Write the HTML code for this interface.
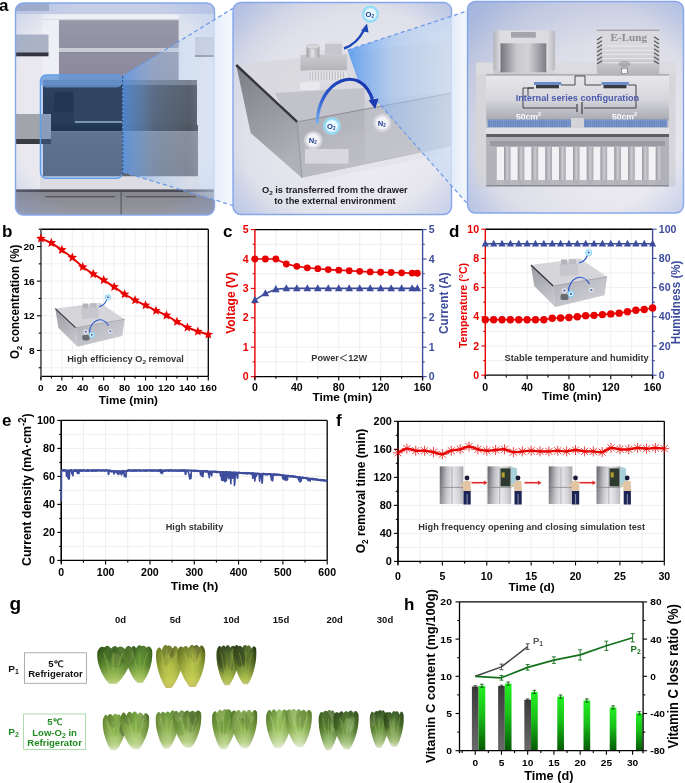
<!DOCTYPE html><html><head><meta charset="utf-8"><style>html,body{margin:0;padding:0;background:#fff;}svg{display:block;will-change:transform} text{font-family:"Liberation Sans",sans-serif;}</style></head><body><svg width="685" height="783" viewBox="0 0 685 783"><rect width="685" height="783" fill="#fff"/><defs>
<clipPath id="c1"><rect x="15.5" y="3" width="199" height="212" rx="8"/></clipPath>
<clipPath id="c2"><rect x="233" y="2.5" width="218.5" height="212" rx="8"/></clipPath>
<clipPath id="c3"><rect x="467.5" y="1.5" width="216" height="211.5" rx="8"/></clipPath>
<linearGradient id="wall" x1="0" y1="0" x2="0" y2="1"><stop offset="0" stop-color="#9898aa"/><stop offset="1" stop-color="#8a889a"/></linearGradient>
<linearGradient id="drw1" x1="0" y1="0" x2="0" y2="1"><stop offset="0" stop-color="#2a2e36"/><stop offset="1" stop-color="#1e2228"/></linearGradient>
<linearGradient id="drw2" x1="0" y1="0" x2="0" y2="1"><stop offset="0" stop-color="#6c6e76"/><stop offset="1" stop-color="#62646c"/></linearGradient>
<linearGradient id="frz" x1="0" y1="0" x2="0" y2="1"><stop offset="0" stop-color="#84848c"/><stop offset="1" stop-color="#9898a2"/></linearGradient>
<linearGradient id="proj1" x1="0" y1="0" x2="1" y2="0"><stop offset="0" stop-color="#5c9cf2" stop-opacity="0.78"/><stop offset="0.3" stop-color="#a0c4f2" stop-opacity="0.42"/><stop offset="0.6" stop-color="#c8dcf6" stop-opacity="0.3"/><stop offset="0.825" stop-color="#d8e6f8" stop-opacity="0.45"/><stop offset="0.835" stop-color="#e6eefa" stop-opacity="1"/><stop offset="1" stop-color="#f6f9fe" stop-opacity="1"/></linearGradient>
<linearGradient id="proj2" x1="0" y1="0" x2="1" y2="0"><stop offset="0" stop-color="#4f94f0" stop-opacity="0.85"/><stop offset="0.4" stop-color="#9cc2f2" stop-opacity="0.55"/><stop offset="0.86" stop-color="#d0e0f6" stop-opacity="0.6"/><stop offset="0.872" stop-color="#e2ecfa" stop-opacity="1"/><stop offset="1" stop-color="#f4f8fd" stop-opacity="1"/></linearGradient>
<radialGradient id="bg2" cx="0.62" cy="0.62" r="0.95"><stop offset="0" stop-color="#f2f0f4"/><stop offset="0.6" stop-color="#dfe0ea"/><stop offset="1" stop-color="#b6c0dc"/></radialGradient>
<radialGradient id="bg3" cx="0.7" cy="0.75" r="0.95"><stop offset="0" stop-color="#f0eef2"/><stop offset="0.6" stop-color="#dcdde8"/><stop offset="1" stop-color="#b0bcdc"/></radialGradient>
<radialGradient id="vig1" cx="0.5" cy="0.5" r="0.72"><stop offset="0.72" stop-color="#86a6e6" stop-opacity="0"/><stop offset="1" stop-color="#86a6e6" stop-opacity="0.33"/></radialGradient>
<linearGradient id="dl" x1="0" y1="0" x2="0.4" y2="1"><stop offset="0" stop-color="#7c7c84"/><stop offset="1" stop-color="#b0b0b8"/></linearGradient>
<linearGradient id="df" x1="0" y1="0" x2="1" y2="1"><stop offset="0" stop-color="#a8a8b0"/><stop offset="1" stop-color="#c4c4cc"/></linearGradient>
<linearGradient id="arr" x1="0" y1="1" x2="0.6" y2="0"><stop offset="0" stop-color="#7ab0f0"/><stop offset="0.5" stop-color="#2a58d0"/><stop offset="1" stop-color="#1a38b0"/></linearGradient>
<radialGradient id="o2g"><stop offset="0.55" stop-color="#e8f8ff"/><stop offset="0.8" stop-color="#7fd6f4"/><stop offset="1" stop-color="#bfeafa" stop-opacity="0.3"/></radialGradient>
<radialGradient id="n2g"><stop offset="0.6" stop-color="#f4f4f8"/><stop offset="0.85" stop-color="#d0d0d8"/><stop offset="1" stop-color="#e8e8ee" stop-opacity="0.4"/></radialGradient>
<linearGradient id="body3" x1="0" y1="0" x2="1" y2="0"><stop offset="0" stop-color="#c4c4ca"/><stop offset="0.5" stop-color="#dcdce0"/><stop offset="1" stop-color="#c8c8ce"/></linearGradient>
<linearGradient id="slot" x1="0" y1="0" x2="1" y2="0"><stop offset="0" stop-color="#96969e"/><stop offset="0.5" stop-color="#cacad0"/><stop offset="1" stop-color="#a6a6ac"/></linearGradient>
</defs>
<g clip-path="url(#c1)">
<rect x="15" y="3" width="200" height="212" fill="#e4e6ee"/>
<rect x="15" y="3" width="200" height="11" fill="#c6cee6"/>
<rect x="58.8" y="18" width="120" height="62" fill="url(#wall)"/>
<rect x="15" y="3" width="34" height="8" fill="#a4acc4"/>
<rect x="42" y="14.5" width="157" height="5.3" fill="#eef0f5"/><rect x="42" y="19.8" width="157" height="1.2" fill="#a4a6b4"/>
<rect x="42" y="48" width="158" height="4" fill="#cacbd4"/><rect x="42" y="52" width="158" height="1.2" fill="#8a8a98"/>
<rect x="15" y="14" width="27" height="201" fill="#e8e8ee"/><rect x="42" y="20" width="16.8" height="58" fill="#eeeff4"/>
<rect x="178.8" y="14" width="36" height="201" fill="#dde3ee"/>
<rect x="15" y="34.5" width="33.5" height="19" fill="#aab2c4"/><rect x="15" y="52.5" width="33.5" height="3.8" fill="#34343e"/>
<rect x="195" y="37" width="20" height="18" fill="#c2c6d4"/><rect x="195" y="55" width="20" height="2" fill="#7c808c"/>
<rect x="43" y="80" width="154" height="46" fill="url(#drw1)"/>
<rect x="43" y="80" width="154" height="5" fill="#5a5e68"/>
<rect x="74" y="89" width="49" height="33" fill="#2c3038"/><rect x="75" y="121" width="48" height="2" fill="#9098a4"/>
<rect x="54" y="92" width="19" height="21" rx="2" fill="#1a1e26"/><rect x="48" y="112" width="26" height="11" fill="#22262e"/>
<rect x="43" y="125" width="155" height="6.5" fill="#1a1c22"/>
<rect x="43" y="131.5" width="155" height="45" fill="url(#drw2)"/>
<rect x="40" y="176.5" width="160" height="13" fill="#dcdce2"/>
<rect x="15" y="189.5" width="200" height="26" fill="url(#frz)"/>
<rect x="15" y="189.5" width="200" height="2.5" fill="#4c4c56"/><rect x="120.5" y="191" width="1.2" height="25" fill="#5a5a62"/>
<rect x="45" y="196" width="70" height="1.3" fill="#555"/><rect x="126" y="196" width="70" height="1.3" fill="#555"/>
<rect x="15" y="114" width="36" height="26" fill="#a2a4ac"/><rect x="15" y="139" width="36" height="5" fill="#3a3c44"/>
<rect x="40.4" y="75" width="82.3" height="103.3" rx="6" fill="#3a88e8" fill-opacity="0.24" stroke="#5e9cf0" stroke-width="1.3"/>
<rect x="41" y="75.5" width="81" height="12" rx="5" fill="#6a9ada" fill-opacity="0.75"/>
<rect x="15" y="3" width="200" height="212" fill="url(#vig1)"/>
</g>
<rect x="15.5" y="3" width="199" height="212" rx="8" fill="none" stroke="#86a6ec" stroke-width="1.4"/>
<polygon points="122.7,76 233,8.3 233,205.5 122.7,172" fill="url(#proj1)"/>
<line x1="122.7" y1="76" x2="233" y2="8.3" stroke="#6f9be8" stroke-width="1.3" stroke-dasharray="4 3"/>
<line x1="122.7" y1="172" x2="233" y2="205.5" stroke="#6f9be8" stroke-width="1.3" stroke-dasharray="4 3"/>
<line x1="122.7" y1="76" x2="122.7" y2="176" stroke="#2d3c5c" stroke-width="0.9" stroke-dasharray="2.5 1.5"/>
<g clip-path="url(#c2)">
<rect x="233" y="2.5" width="219" height="212" fill="url(#bg2)"/>
<polygon points="236.2,65 345,52.8 452,40 452,92 297.2,121.9" fill="#d8d8de" fill-opacity="0.9"/>
<polygon points="274.7,93 364.7,88 364.7,130 300,140" fill="#b8b8c0" fill-opacity="0.7"/>
<polygon points="236.2,65 297.2,121.9 302,178 250.7,133" fill="url(#dl)"/>
<polygon points="297.2,121.9 452,92 452,146 422.5,152.4 302,178" fill="url(#df)" fill-opacity="0.92"/>
<polygon points="364.7,100 452,92 452,146 422.5,152.4 364.7,162" fill="#c8c8d0" fill-opacity="0.5"/>
<rect x="305" y="149" width="43.6" height="14.6" fill="#dedee4" fill-opacity="0.8"/>
<line x1="236.2" y1="65" x2="297.2" y2="121.9" stroke="#34343c" stroke-width="2.4"/>
<line x1="297.2" y1="121.9" x2="452" y2="93" stroke="#8a8a92" stroke-width="0.9"/>
<line x1="297.2" y1="121.9" x2="302" y2="178" stroke="#8c8c94" stroke-width="0.8"/>
<polygon points="302,178 422.5,152.4 452,147 452,152 306,183" fill="#e4e4ea"/>
<defs><linearGradient id="cyl" x1="0" y1="0" x2="1" y2="0"><stop offset="0" stop-color="#9c9ca2"/><stop offset="0.45" stop-color="#e4e4e8"/><stop offset="1" stop-color="#a4a4aa"/></linearGradient><linearGradient id="mbx" x1="0" y1="0" x2="0" y2="1"><stop offset="0" stop-color="#d0d0d4"/><stop offset="1" stop-color="#b4b4ba"/></linearGradient></defs>
<polygon points="300.4,55 304,51 344,50 347,54 347,70.5 300.4,70.5" fill="url(#mbx)"/>
<polygon points="300.4,55 304,51 344,50 347,54" fill="#e0e0e4"/>
<rect x="306.5" y="46.5" width="13" height="11" fill="url(#cyl)"/><ellipse cx="313" cy="46.5" rx="6.5" ry="2.4" fill="#d6d6da" stroke="#b0b0b6" stroke-width="0.4"/>
<rect x="325" y="43.5" width="17" height="11" fill="#c6c6cc"/><polygon points="325,43.5 327,41.5 343,41.5 342,43.5" fill="#dedee2"/>
<rect x="308.5" y="70.5" width="38.5" height="11.2" fill="#e4e4e8"/>
<line x1="310.0" y1="71.5" x2="310.0" y2="80.5" stroke="#a8a8b2" stroke-width="0.7"/>
<line x1="312.8" y1="71.5" x2="312.8" y2="80.5" stroke="#a8a8b2" stroke-width="0.7"/>
<line x1="315.6" y1="71.5" x2="315.6" y2="80.5" stroke="#a8a8b2" stroke-width="0.7"/>
<line x1="318.4" y1="71.5" x2="318.4" y2="80.5" stroke="#a8a8b2" stroke-width="0.7"/>
<line x1="321.2" y1="71.5" x2="321.2" y2="80.5" stroke="#a8a8b2" stroke-width="0.7"/>
<line x1="324.0" y1="71.5" x2="324.0" y2="80.5" stroke="#a8a8b2" stroke-width="0.7"/>
<line x1="326.8" y1="71.5" x2="326.8" y2="80.5" stroke="#a8a8b2" stroke-width="0.7"/>
<line x1="329.6" y1="71.5" x2="329.6" y2="80.5" stroke="#a8a8b2" stroke-width="0.7"/>
<line x1="332.4" y1="71.5" x2="332.4" y2="80.5" stroke="#a8a8b2" stroke-width="0.7"/>
<line x1="335.2" y1="71.5" x2="335.2" y2="80.5" stroke="#a8a8b2" stroke-width="0.7"/>
<line x1="338.0" y1="71.5" x2="338.0" y2="80.5" stroke="#a8a8b2" stroke-width="0.7"/>
<line x1="340.8" y1="71.5" x2="340.8" y2="80.5" stroke="#a8a8b2" stroke-width="0.7"/>
<line x1="343.6" y1="71.5" x2="343.6" y2="80.5" stroke="#a8a8b2" stroke-width="0.7"/>
<rect x="300" y="82" width="20" height="8" rx="3" fill="#f0f0f4" fill-opacity="0.7"/>
</g>
<g clip-path="url(#c2)">
<rect x="233" y="2.5" width="219" height="212" fill="url(#vig1)"/>
</g>
<rect x="233" y="2.5" width="218.5" height="212" rx="8" fill="none" stroke="#86a6ec" stroke-width="1.4"/>
<polygon points="347.5,50 467.5,11 467.5,204 357.6,79" fill="url(#proj2)"/>
<line x1="347.5" y1="50" x2="467.5" y2="11" stroke="#6f9be8" stroke-width="1.3" stroke-dasharray="4 3"/>
<line x1="357.6" y1="79" x2="467.5" y2="204" stroke="#6f9be8" stroke-width="1.3" stroke-dasharray="4 3"/>
<path d="M344,48.5 Q357,44 364,30" fill="none" stroke="#1d47b8" stroke-width="2.4"/>
<polygon points="361,31 367,23.5 368.5,32.5" fill="#1d47b8"/>
<path d="M317.1,123.5 C318,78.5 362,62.5 372.8,101" fill="none" stroke="url(#arr)" stroke-width="3.2"/>
<polygon points="368.6,100.2 375.2,109 378.4,98.4" fill="#1a38b0"/>
<circle cx="370.4" cy="14.1" r="9.3" fill="url(#o2g)"/>
<text x="369.79999999999995" y="16.9" font-size="7.6" font-weight="bold" text-anchor="middle" fill="#1f3c8c">O<tspan font-size="4.5" dy="1">2</tspan></text>
<circle cx="331.9" cy="126" r="9.3" fill="url(#o2g)"/>
<text x="331.29999999999995" y="128.8" font-size="7.6" font-weight="bold" text-anchor="middle" fill="#1f3c8c">O<tspan font-size="4.5" dy="1">2</tspan></text>
<circle cx="313.3" cy="140.2" r="9.3" fill="url(#n2g)"/>
<text x="312.7" y="143.0" font-size="7.6" font-weight="bold" text-anchor="middle" fill="#1f3c8c">N<tspan font-size="4.5" dy="1">2</tspan></text>
<circle cx="382.3" cy="122.9" r="9.3" fill="url(#n2g)"/>
<text x="381.7" y="125.7" font-size="7.6" font-weight="bold" text-anchor="middle" fill="#1f3c8c">N<tspan font-size="4.5" dy="1">2</tspan></text>
<text transform="translate(334.80,193.00) scale(1.06,1)" font-size="8.8" text-anchor="middle" fill="#1c1c22" font-weight="bold" >O<tspan font-size="6" dy="2">2</tspan><tspan dy="-2"> is transferred from the drawer</tspan></text>
<text transform="translate(335.00,203.80) scale(1.06,1)" font-size="8.75" text-anchor="middle" fill="#1c1c22" font-weight="bold" >to the external environment</text>
<g clip-path="url(#c3)">
<rect x="467" y="1.5" width="217" height="212" fill="url(#bg3)"/>
<rect x="476.2" y="62.6" width="199" height="123.7" fill="url(#body3)"/>
<defs><linearGradient id="hs1" x1="0" y1="0" x2="1" y2="0"><stop offset="0" stop-color="#b4b4ba"/><stop offset="0.12" stop-color="#dedee2"/><stop offset="0.88" stop-color="#dcdce0"/><stop offset="1" stop-color="#b8b8be"/></linearGradient><linearGradient id="hs2" x1="0" y1="0" x2="1" y2="0"><stop offset="0" stop-color="#74747c"/><stop offset="0.35" stop-color="#c8c8cc"/><stop offset="0.6" stop-color="#d4d4d8"/><stop offset="1" stop-color="#7c7c84"/></linearGradient></defs>
<rect x="493.3" y="30.4" width="61.8" height="40" rx="2" fill="url(#hs1)"/>
<rect x="500.5" y="43.3" width="45.8" height="29" fill="url(#hs2)"/>
<rect x="511" y="32" width="24.8" height="5.7" fill="#a4a4ac"/>
<defs><linearGradient id="elb" x1="0" y1="0" x2="0" y2="1"><stop offset="0" stop-color="#e2e2e6"/><stop offset="0.6" stop-color="#d2d2d6"/><stop offset="1" stop-color="#b4b4ba"/></linearGradient></defs>
<rect x="596.7" y="29.5" width="62.8" height="44.5" fill="url(#elb)"/>
<rect x="596.7" y="29.5" width="62.8" height="1.8" fill="#a8a8b0"/>
<rect x="596.7" y="31.3" width="62.8" height="11.5" fill="#dadade"/>
<line x1="597" y1="40.0" x2="602" y2="36.8" stroke="#55555c" stroke-width="1.3"/>
<line x1="654" y1="36.8" x2="659" y2="40.0" stroke="#55555c" stroke-width="1.3"/>
<line x1="597" y1="44.0" x2="602" y2="40.8" stroke="#55555c" stroke-width="1.3"/>
<line x1="654" y1="40.8" x2="659" y2="44.0" stroke="#55555c" stroke-width="1.3"/>
<line x1="597" y1="48.0" x2="602" y2="44.8" stroke="#55555c" stroke-width="1.3"/>
<line x1="654" y1="44.8" x2="659" y2="48.0" stroke="#55555c" stroke-width="1.3"/>
<line x1="597" y1="52.0" x2="602" y2="48.8" stroke="#55555c" stroke-width="1.3"/>
<line x1="654" y1="48.8" x2="659" y2="52.0" stroke="#55555c" stroke-width="1.3"/>
<line x1="597" y1="56.0" x2="602" y2="52.8" stroke="#55555c" stroke-width="1.3"/>
<line x1="654" y1="52.8" x2="659" y2="56.0" stroke="#55555c" stroke-width="1.3"/>
<line x1="597" y1="60.0" x2="602" y2="56.8" stroke="#55555c" stroke-width="1.3"/>
<line x1="654" y1="56.8" x2="659" y2="60.0" stroke="#55555c" stroke-width="1.3"/>
<line x1="597" y1="64.0" x2="602" y2="60.8" stroke="#55555c" stroke-width="1.3"/>
<line x1="654" y1="60.8" x2="659" y2="64.0" stroke="#55555c" stroke-width="1.3"/>
<line x1="603" y1="46.0" x2="653" y2="46.0" stroke="#eeeef0" stroke-width="0.9"/>
<line x1="603" y1="50.2" x2="653" y2="50.2" stroke="#eeeef0" stroke-width="0.9"/>
<line x1="603" y1="54.4" x2="653" y2="54.4" stroke="#eeeef0" stroke-width="0.9"/>
<line x1="603" y1="58.6" x2="653" y2="58.6" stroke="#eeeef0" stroke-width="0.9"/>
<line x1="603" y1="62.8" x2="653" y2="62.8" stroke="#eeeef0" stroke-width="0.9"/>
<ellipse cx="624.5" cy="64" rx="6" ry="3" fill="#8a8a92" opacity="0.5"/>
<text x="628.75" y="41.2" style="font-family:Liberation Serif,serif" font-size="11.1" font-weight="bold" fill="#8c8c92" text-anchor="middle">E-Lung</text>
<rect x="621.5" y="68.2" width="5.8" height="5.5" fill="#f4f4f6" stroke="#666" stroke-width="0.6"/>
<defs><linearGradient id="cav" x1="0" y1="0" x2="0" y2="1"><stop offset="0" stop-color="#e8e8ec"/><stop offset="0.55" stop-color="#d6d6dc"/><stop offset="1" stop-color="#a8a8b2"/></linearGradient></defs>
<rect x="479" y="73.9" width="190" height="46.5" fill="url(#cav)"/>
<rect x="485.9" y="73.9" width="183" height="2" fill="#b8b8be"/>
<path d="M528,88 L528,96 M528,88 L534,88 M561,85 L575,85 L575,76 L585,76 L585,85 L601,85 M628,85 L636,85 L636,108 L584,108 M576,108 L523,108 L523,88 L534,88" fill="none" stroke="#222" stroke-width="0.8"/>
<line x1="577" y1="104" x2="577" y2="112" stroke="#222" stroke-width="1"/><line x1="582" y1="102" x2="582" y2="114" stroke="#222" stroke-width="1"/>
<rect x="534" y="82" width="27.3" height="3" fill="#6a8cc8"/><rect x="536" y="85" width="23" height="3.3" fill="#3a3a40"/>
<rect x="601.5" y="82" width="27.3" height="3" fill="#6a8cc8"/><rect x="603.5" y="85" width="23" height="3.3" fill="#3a3a40"/>
<text x="577.4" y="101.3" font-size="9.2" font-weight="bold" text-anchor="middle" fill="#4b5aac">Internal series configuration</text>
<text x="528.5" y="119.6" font-size="8.6" font-weight="bold" text-anchor="middle" fill="#fbfbfd">50cm<tspan font-size="5.5" dy="-3.5">2</tspan></text>
<text x="624.5" y="119.6" font-size="8.6" font-weight="bold" text-anchor="middle" fill="#fbfbfd">50cm<tspan font-size="5.5" dy="-3.5">2</tspan></text>
<defs><pattern id="mesh" width="2.2" height="2.2" patternUnits="userSpaceOnUse"><rect width="2.2" height="2.2" fill="#7a9ad0"/><rect width="1.2" height="1.2" fill="#5a78b0"/></pattern></defs>
<rect x="487.5" y="119.5" width="83.5" height="8" fill="url(#mesh)"/>
<rect x="583.8" y="119.5" width="83.5" height="8" fill="url(#mesh)"/>
<rect x="571" y="118" width="12.8" height="20" fill="#d4d4d8"/>
<rect x="486" y="127.5" width="85" height="7.5" fill="#c8c8ce"/><rect x="583.8" y="127.5" width="85" height="7.5" fill="#c8c8ce"/>
<rect x="486" y="135" width="85" height="5.5" fill="#5a5a62"/><rect x="583.8" y="135" width="85" height="5.5" fill="#5a5a62"/>
<rect x="486" y="128" width="183" height="6" fill="#e2e2e6"/>
<rect x="486" y="134" width="183" height="3" fill="#5e5e66"/>
<rect x="486" y="137" width="183" height="49" fill="#b2b2b8"/>
<rect x="490" y="141" width="175" height="5" fill="#9a9aa2"/>
<rect x="496.8" y="147" width="7.2" height="33" fill="#f2f2f4"/>
<rect x="504.0" y="147" width="6.6" height="33" fill="url(#slot)"/>
<rect x="495.9" y="180" width="8" height="5" fill="#b8b8be"/>
<rect x="510.6" y="147" width="7.2" height="33" fill="#f2f2f4"/>
<rect x="517.8" y="147" width="6.6" height="33" fill="url(#slot)"/>
<rect x="509.7" y="180" width="8" height="5" fill="#b8b8be"/>
<rect x="524.4" y="147" width="7.2" height="33" fill="#f2f2f4"/>
<rect x="531.6" y="147" width="6.6" height="33" fill="url(#slot)"/>
<rect x="523.5" y="180" width="8" height="5" fill="#b8b8be"/>
<rect x="538.2" y="147" width="7.2" height="33" fill="#f2f2f4"/>
<rect x="545.4" y="147" width="6.6" height="33" fill="url(#slot)"/>
<rect x="537.3" y="180" width="8" height="5" fill="#b8b8be"/>
<rect x="552.0" y="147" width="7.2" height="33" fill="#f2f2f4"/>
<rect x="559.2" y="147" width="6.6" height="33" fill="url(#slot)"/>
<rect x="551.1" y="180" width="8" height="5" fill="#b8b8be"/>
<rect x="565.8" y="147" width="7.2" height="33" fill="#f2f2f4"/>
<rect x="573.0" y="147" width="6.6" height="33" fill="url(#slot)"/>
<rect x="564.9" y="180" width="8" height="5" fill="#b8b8be"/>
<rect x="579.6" y="147" width="7.2" height="33" fill="#f2f2f4"/>
<rect x="586.8" y="147" width="6.6" height="33" fill="url(#slot)"/>
<rect x="578.7" y="180" width="8" height="5" fill="#b8b8be"/>
<rect x="593.4" y="147" width="7.2" height="33" fill="#f2f2f4"/>
<rect x="600.6" y="147" width="6.6" height="33" fill="url(#slot)"/>
<rect x="592.5" y="180" width="8" height="5" fill="#b8b8be"/>
<rect x="607.2" y="147" width="7.2" height="33" fill="#f2f2f4"/>
<rect x="614.4" y="147" width="6.6" height="33" fill="url(#slot)"/>
<rect x="606.3" y="180" width="8" height="5" fill="#b8b8be"/>
<rect x="621.0" y="147" width="7.2" height="33" fill="#f2f2f4"/>
<rect x="628.2" y="147" width="6.6" height="33" fill="url(#slot)"/>
<rect x="620.1" y="180" width="8" height="5" fill="#b8b8be"/>
<rect x="634.8" y="147" width="7.2" height="33" fill="#f2f2f4"/>
<rect x="642.0" y="147" width="6.6" height="33" fill="url(#slot)"/>
<rect x="633.9" y="180" width="8" height="5" fill="#b8b8be"/>
<rect x="648.6" y="147" width="7.2" height="33" fill="#f2f2f4"/>
<rect x="655.8" y="147" width="6.6" height="33" fill="url(#slot)"/>
<rect x="647.7" y="180" width="8" height="5" fill="#b8b8be"/>
<rect x="486" y="185" width="183" height="1.5" fill="#8a8a92"/>
<rect x="476.2" y="62.6" width="10" height="124" fill="#d6d6da"/><rect x="669" y="62.6" width="6.3" height="124" fill="#d6d6da"/>
<rect x="476.2" y="62.6" width="17" height="11.3" fill="#dcdce0"/><rect x="555.1" y="62.6" width="41.6" height="11.3" fill="#dcdce0"/><rect x="659.5" y="62.6" width="16" height="11.3" fill="#dcdce0"/>
<rect x="486" y="73.9" width="183" height="1" fill="#b0b0b6"/>
<rect x="467" y="1.5" width="217" height="212" fill="url(#vig1)"/>
</g>
<rect x="467.5" y="1.5" width="216" height="211.5" rx="8" fill="none" stroke="#86a6ec" stroke-width="1.4"/>
<text transform="translate(-1.00,10.80) scale(1.0,1)" font-size="17" text-anchor="start" fill="#000" font-weight="bold" >a</text>
<line x1="51.36" y1="229.20" x2="51.36" y2="376.40" stroke="#ebebeb" stroke-width="0.8" />
<line x1="61.83" y1="229.20" x2="61.83" y2="376.40" stroke="#ebebeb" stroke-width="0.8" />
<line x1="72.29" y1="229.20" x2="72.29" y2="376.40" stroke="#ebebeb" stroke-width="0.8" />
<line x1="82.75" y1="229.20" x2="82.75" y2="376.40" stroke="#ebebeb" stroke-width="0.8" />
<line x1="93.21" y1="229.20" x2="93.21" y2="376.40" stroke="#ebebeb" stroke-width="0.8" />
<line x1="103.68" y1="229.20" x2="103.68" y2="376.40" stroke="#ebebeb" stroke-width="0.8" />
<line x1="114.14" y1="229.20" x2="114.14" y2="376.40" stroke="#ebebeb" stroke-width="0.8" />
<line x1="124.60" y1="229.20" x2="124.60" y2="376.40" stroke="#ebebeb" stroke-width="0.8" />
<line x1="135.06" y1="229.20" x2="135.06" y2="376.40" stroke="#ebebeb" stroke-width="0.8" />
<line x1="145.53" y1="229.20" x2="145.53" y2="376.40" stroke="#ebebeb" stroke-width="0.8" />
<line x1="155.99" y1="229.20" x2="155.99" y2="376.40" stroke="#ebebeb" stroke-width="0.8" />
<line x1="166.45" y1="229.20" x2="166.45" y2="376.40" stroke="#ebebeb" stroke-width="0.8" />
<line x1="176.91" y1="229.20" x2="176.91" y2="376.40" stroke="#ebebeb" stroke-width="0.8" />
<line x1="187.38" y1="229.20" x2="187.38" y2="376.40" stroke="#ebebeb" stroke-width="0.8" />
<line x1="197.84" y1="229.20" x2="197.84" y2="376.40" stroke="#ebebeb" stroke-width="0.8" />
<line x1="40.90" y1="367.74" x2="208.30" y2="367.74" stroke="#ebebeb" stroke-width="0.8" />
<line x1="40.90" y1="350.42" x2="208.30" y2="350.42" stroke="#ebebeb" stroke-width="0.8" />
<line x1="40.90" y1="333.11" x2="208.30" y2="333.11" stroke="#ebebeb" stroke-width="0.8" />
<line x1="40.90" y1="315.79" x2="208.30" y2="315.79" stroke="#ebebeb" stroke-width="0.8" />
<line x1="40.90" y1="298.47" x2="208.30" y2="298.47" stroke="#ebebeb" stroke-width="0.8" />
<line x1="40.90" y1="281.15" x2="208.30" y2="281.15" stroke="#ebebeb" stroke-width="0.8" />
<line x1="40.90" y1="263.84" x2="208.30" y2="263.84" stroke="#ebebeb" stroke-width="0.8" />
<line x1="40.90" y1="246.52" x2="208.30" y2="246.52" stroke="#ebebeb" stroke-width="0.8" />
<line x1="40.90" y1="229.20" x2="208.30" y2="229.20" stroke="#000" stroke-width="1.35" />
<line x1="40.90" y1="376.40" x2="208.30" y2="376.40" stroke="#000" stroke-width="1.3" />
<line x1="40.90" y1="229.20" x2="40.90" y2="376.40" stroke="#666" stroke-width="1.3" />
<line x1="208.30" y1="229.20" x2="208.30" y2="376.40" stroke="#000" stroke-width="1.3" />
<line x1="40.90" y1="229.20" x2="40.90" y2="379.40" stroke="#6a6a6a" stroke-width="1.8" />
<line x1="40.90" y1="367.74" x2="38.70" y2="367.74" stroke="#000" stroke-width="1.1" />
<line x1="40.90" y1="333.11" x2="38.70" y2="333.11" stroke="#000" stroke-width="1.1" />
<line x1="40.90" y1="298.47" x2="38.70" y2="298.47" stroke="#000" stroke-width="1.1" />
<line x1="40.90" y1="263.84" x2="38.70" y2="263.84" stroke="#000" stroke-width="1.1" />
<line x1="40.90" y1="229.20" x2="38.70" y2="229.20" stroke="#000" stroke-width="1.1" />
<line x1="40.90" y1="350.42" x2="36.90" y2="350.42" stroke="#000" stroke-width="1.1" />
<text transform="translate(34.70,353.92) scale(1.06,1)" font-size="9.6" text-anchor="end" fill="#000" font-weight="bold" >8</text>
<line x1="40.90" y1="315.79" x2="36.90" y2="315.79" stroke="#000" stroke-width="1.1" />
<text transform="translate(34.70,319.29) scale(1.06,1)" font-size="9.6" text-anchor="end" fill="#000" font-weight="bold" >12</text>
<line x1="40.90" y1="281.15" x2="36.90" y2="281.15" stroke="#000" stroke-width="1.1" />
<text transform="translate(34.70,284.65) scale(1.06,1)" font-size="9.6" text-anchor="end" fill="#000" font-weight="bold" >16</text>
<line x1="40.90" y1="246.52" x2="36.90" y2="246.52" stroke="#000" stroke-width="1.1" />
<text transform="translate(34.70,250.02) scale(1.06,1)" font-size="9.6" text-anchor="end" fill="#000" font-weight="bold" >20</text>
<line x1="51.36" y1="376.40" x2="51.36" y2="378.60" stroke="#000" stroke-width="1.1" />
<line x1="72.29" y1="376.40" x2="72.29" y2="378.60" stroke="#000" stroke-width="1.1" />
<line x1="93.21" y1="376.40" x2="93.21" y2="378.60" stroke="#000" stroke-width="1.1" />
<line x1="114.14" y1="376.40" x2="114.14" y2="378.60" stroke="#000" stroke-width="1.1" />
<line x1="135.06" y1="376.40" x2="135.06" y2="378.60" stroke="#000" stroke-width="1.1" />
<line x1="155.99" y1="376.40" x2="155.99" y2="378.60" stroke="#000" stroke-width="1.1" />
<line x1="176.91" y1="376.40" x2="176.91" y2="378.60" stroke="#000" stroke-width="1.1" />
<line x1="197.84" y1="376.40" x2="197.84" y2="378.60" stroke="#000" stroke-width="1.1" />
<line x1="40.90" y1="376.40" x2="40.90" y2="380.40" stroke="#000" stroke-width="1.1" />
<text transform="translate(40.90,390.70) scale(1.06,1)" font-size="9.6" text-anchor="middle" fill="#000" font-weight="bold" >0</text>
<line x1="61.83" y1="376.40" x2="61.83" y2="380.40" stroke="#000" stroke-width="1.1" />
<text transform="translate(61.83,390.70) scale(1.06,1)" font-size="9.6" text-anchor="middle" fill="#000" font-weight="bold" >20</text>
<line x1="82.75" y1="376.40" x2="82.75" y2="380.40" stroke="#000" stroke-width="1.1" />
<text transform="translate(82.75,390.70) scale(1.06,1)" font-size="9.6" text-anchor="middle" fill="#000" font-weight="bold" >40</text>
<line x1="103.68" y1="376.40" x2="103.68" y2="380.40" stroke="#000" stroke-width="1.1" />
<text transform="translate(103.68,390.70) scale(1.06,1)" font-size="9.6" text-anchor="middle" fill="#000" font-weight="bold" >60</text>
<line x1="124.60" y1="376.40" x2="124.60" y2="380.40" stroke="#000" stroke-width="1.1" />
<text transform="translate(124.60,390.70) scale(1.06,1)" font-size="9.6" text-anchor="middle" fill="#000" font-weight="bold" >80</text>
<line x1="145.53" y1="376.40" x2="145.53" y2="380.40" stroke="#000" stroke-width="1.1" />
<text transform="translate(145.53,390.70) scale(1.06,1)" font-size="9.6" text-anchor="middle" fill="#000" font-weight="bold" >100</text>
<line x1="166.45" y1="376.40" x2="166.45" y2="380.40" stroke="#000" stroke-width="1.1" />
<text transform="translate(166.45,390.70) scale(1.06,1)" font-size="9.6" text-anchor="middle" fill="#000" font-weight="bold" >120</text>
<line x1="187.38" y1="376.40" x2="187.38" y2="380.40" stroke="#000" stroke-width="1.1" />
<text transform="translate(187.38,390.70) scale(1.06,1)" font-size="9.6" text-anchor="middle" fill="#000" font-weight="bold" >140</text>
<line x1="208.30" y1="376.40" x2="208.30" y2="380.40" stroke="#000" stroke-width="1.1" />
<text transform="translate(208.30,390.70) scale(1.06,1)" font-size="9.6" text-anchor="middle" fill="#000" font-weight="bold" >160</text>
<text transform="translate(128.40,403.90) scale(1.06,1)" font-size="11.1" text-anchor="middle" fill="#000" font-weight="bold" >Time (min)</text>
<text transform="translate(18.80,301.80) scale(1.06,1) rotate(-90)" font-size="11.6" text-anchor="middle" fill="#000" font-weight="bold">O<tspan font-size="7.5" dy="3">2</tspan><tspan dy="-3"> concentration (%)</tspan></text>
<g transform="translate(54.5,294) scale(0.91)"><defs><linearGradient id="ibl1" x1="0" y1="0" x2="0.3" y2="1"><stop offset="0" stop-color="#9a9aa2"/><stop offset="1" stop-color="#c4c4ca"/></linearGradient><linearGradient id="ibf1" x1="0" y1="0" x2="1" y2="1"><stop offset="0" stop-color="#b0b0b8"/><stop offset="1" stop-color="#d2d2d8"/></linearGradient></defs><polygon points="0.9,16 50,9.5 77.1,27.8 23.2,37" fill="#d6d6da"/><polygon points="0.9,16 23.2,37 25.2,58 4.2,37" fill="url(#ibl1)"/><polygon points="23.2,37 77.1,27.8 74.5,46.2 25.2,58" fill="url(#ibf1)"/><line x1="0.9" y1="16" x2="23.2" y2="37" stroke="#2a2a30" stroke-width="1.1"/><line x1="23.2" y1="37" x2="77.1" y2="27.8" stroke="#8a8a92" stroke-width="0.6"/><polygon points="29.8,15 46,13 48.2,16 48.2,26 31,27.5 29.8,24" fill="#c6c6cc"/><rect x="31" y="10.5" width="6" height="5" fill="#b4b4ba"/><rect x="39" y="10" width="7" height="5" fill="#bcbcc2"/><path d="M48.9,14 Q55,12.5 57.4,6.5" fill="none" stroke="#2a58d0" stroke-width="1.2"/><circle cx="58.7" cy="3.5" r="2.8" fill="#e6f7ff" stroke="#86d6f4" stroke-width="1.1"/><circle cx="58.7" cy="3.5" r="1.1" fill="#3a5bb0"/><path d="M38.4,43.6 C38,30 52,22 59.4,35" fill="none" stroke="#2a58d0" stroke-width="1.2"/><rect x="30.5" y="45" width="8" height="6" rx="2" fill="#6a6a72"/><circle cx="34.4" cy="41.6" r="2.8" fill="#ececf0" stroke="#c4c4cc" stroke-width="0.9"/><circle cx="34.4" cy="41.6" r="1.1" fill="#3a5bb0"/><circle cx="61.4" cy="41" r="2.8" fill="#ececf0" stroke="#c4c4cc" stroke-width="0.9"/><circle cx="61.4" cy="41" r="1.1" fill="#3a5bb0"/><circle cx="41" cy="44.9" r="2.8" fill="#e6f7ff" stroke="#86d6f4" stroke-width="1.1"/><circle cx="41" cy="44.9" r="1.1" fill="#3a5bb0"/></g>
<polyline points="40.90,238.50 51.36,242.90 61.83,249.90 72.29,257.60 82.75,267.00 93.21,274.10 103.68,280.10 114.14,286.90 124.60,294.20 135.06,300.30 145.53,305.30 155.99,310.70 166.45,315.40 176.91,321.80 187.38,327.50 197.84,331.50 208.30,334.50" fill="none" stroke="#e80000" stroke-width="1.9" stroke-linejoin="round" />
<polygon points="40.90,233.50 42.22,236.68 45.66,236.95 43.04,239.20 43.84,242.55 40.90,240.75 37.96,242.55 38.76,239.20 36.14,236.95 39.58,236.68" fill="#e80000"/>
<polygon points="51.36,237.90 52.69,241.08 56.12,241.35 53.50,243.60 54.30,246.95 51.36,245.15 48.42,246.95 49.22,243.60 46.61,241.35 50.04,241.08" fill="#e80000"/>
<polygon points="61.83,244.90 63.15,248.08 66.58,248.35 63.96,250.60 64.76,253.95 61.83,252.15 58.89,253.95 59.69,250.60 57.07,248.35 60.50,248.08" fill="#e80000"/>
<polygon points="72.29,252.60 73.61,255.78 77.04,256.05 74.43,258.30 75.23,261.65 72.29,259.85 69.35,261.65 70.15,258.30 67.53,256.05 70.96,255.78" fill="#e80000"/>
<polygon points="82.75,262.00 84.07,265.18 87.51,265.45 84.89,267.70 85.69,271.05 82.75,269.25 79.81,271.05 80.61,267.70 77.99,265.45 81.43,265.18" fill="#e80000"/>
<polygon points="93.21,269.10 94.54,272.28 97.97,272.55 95.35,274.80 96.15,278.15 93.21,276.35 90.27,278.15 91.07,274.80 88.46,272.55 91.89,272.28" fill="#e80000"/>
<polygon points="103.68,275.10 105.00,278.28 108.43,278.55 105.81,280.80 106.61,284.15 103.68,282.35 100.74,284.15 101.54,280.80 98.92,278.55 102.35,278.28" fill="#e80000"/>
<polygon points="114.14,281.90 115.46,285.08 118.89,285.35 116.28,287.60 117.08,290.95 114.14,289.15 111.20,290.95 112.00,287.60 109.38,285.35 112.81,285.08" fill="#e80000"/>
<polygon points="124.60,289.20 125.92,292.38 129.36,292.65 126.74,294.90 127.54,298.25 124.60,296.45 121.66,298.25 122.46,294.90 119.84,292.65 123.28,292.38" fill="#e80000"/>
<polygon points="135.06,295.30 136.39,298.48 139.82,298.75 137.20,301.00 138.00,304.35 135.06,302.55 132.12,304.35 132.92,301.00 130.31,298.75 133.74,298.48" fill="#e80000"/>
<polygon points="145.53,300.30 146.85,303.48 150.28,303.75 147.66,306.00 148.46,309.35 145.53,307.55 142.59,309.35 143.39,306.00 140.77,303.75 144.20,303.48" fill="#e80000"/>
<polygon points="155.99,305.70 157.31,308.88 160.74,309.15 158.13,311.40 158.93,314.75 155.99,312.95 153.05,314.75 153.85,311.40 151.23,309.15 154.66,308.88" fill="#e80000"/>
<polygon points="166.45,310.40 167.77,313.58 171.21,313.85 168.59,316.10 169.39,319.45 166.45,317.65 163.51,319.45 164.31,316.10 161.69,313.85 165.13,313.58" fill="#e80000"/>
<polygon points="176.91,316.80 178.24,319.98 181.67,320.25 179.05,322.50 179.85,325.85 176.91,324.05 173.97,325.85 174.77,322.50 172.16,320.25 175.59,319.98" fill="#e80000"/>
<polygon points="187.38,322.50 188.70,325.68 192.13,325.95 189.51,328.20 190.31,331.55 187.38,329.75 184.44,331.55 185.24,328.20 182.62,325.95 186.05,325.68" fill="#e80000"/>
<polygon points="197.84,326.50 199.16,329.68 202.59,329.95 199.98,332.20 200.78,335.55 197.84,333.75 194.90,335.55 195.70,332.20 193.08,329.95 196.51,329.68" fill="#e80000"/>
<polygon points="208.30,329.50 209.62,332.68 213.06,332.95 210.44,335.20 211.24,338.55 208.30,336.75 205.36,338.55 206.16,335.20 203.54,332.95 206.98,332.68" fill="#e80000"/>
<text transform="translate(125.50,361.70) scale(1.06,1)" font-size="8.7" text-anchor="middle" fill="#333" font-weight="bold" >High efficiency O<tspan font-size="6" dy="2">2</tspan><tspan dy="-2"> removal</tspan></text>
<text transform="translate(2.00,236.80) scale(1.0,1)" font-size="17" text-anchor="start" fill="#000" font-weight="bold" >b</text>
<line x1="275.86" y1="229.60" x2="275.86" y2="376.60" stroke="#ebebeb" stroke-width="0.8" />
<line x1="296.82" y1="229.60" x2="296.82" y2="376.60" stroke="#ebebeb" stroke-width="0.8" />
<line x1="317.79" y1="229.60" x2="317.79" y2="376.60" stroke="#ebebeb" stroke-width="0.8" />
<line x1="338.75" y1="229.60" x2="338.75" y2="376.60" stroke="#ebebeb" stroke-width="0.8" />
<line x1="359.71" y1="229.60" x2="359.71" y2="376.60" stroke="#ebebeb" stroke-width="0.8" />
<line x1="380.68" y1="229.60" x2="380.68" y2="376.60" stroke="#ebebeb" stroke-width="0.8" />
<line x1="401.64" y1="229.60" x2="401.64" y2="376.60" stroke="#ebebeb" stroke-width="0.8" />
<line x1="254.90" y1="361.90" x2="422.60" y2="361.90" stroke="#ebebeb" stroke-width="0.8" />
<line x1="254.90" y1="347.20" x2="422.60" y2="347.20" stroke="#ebebeb" stroke-width="0.8" />
<line x1="254.90" y1="332.50" x2="422.60" y2="332.50" stroke="#ebebeb" stroke-width="0.8" />
<line x1="254.90" y1="317.80" x2="422.60" y2="317.80" stroke="#ebebeb" stroke-width="0.8" />
<line x1="254.90" y1="303.10" x2="422.60" y2="303.10" stroke="#ebebeb" stroke-width="0.8" />
<line x1="254.90" y1="288.40" x2="422.60" y2="288.40" stroke="#ebebeb" stroke-width="0.8" />
<line x1="254.90" y1="273.70" x2="422.60" y2="273.70" stroke="#ebebeb" stroke-width="0.8" />
<line x1="254.90" y1="259.00" x2="422.60" y2="259.00" stroke="#ebebeb" stroke-width="0.8" />
<line x1="254.90" y1="244.30" x2="422.60" y2="244.30" stroke="#ebebeb" stroke-width="0.8" />
<line x1="254.90" y1="229.60" x2="422.60" y2="229.60" stroke="#000" stroke-width="1.35" />
<line x1="254.90" y1="376.60" x2="422.60" y2="376.60" stroke="#000" stroke-width="1.3" />
<line x1="254.90" y1="229.60" x2="254.90" y2="379.60" stroke="#e80000" stroke-width="1.4" />
<line x1="422.60" y1="229.60" x2="422.60" y2="379.60" stroke="#3d4c9c" stroke-width="1.4" />
<line x1="254.90" y1="361.90" x2="252.70" y2="361.90" stroke="#e80000" stroke-width="1.1" />
<line x1="254.90" y1="332.50" x2="252.70" y2="332.50" stroke="#e80000" stroke-width="1.1" />
<line x1="254.90" y1="303.10" x2="252.70" y2="303.10" stroke="#e80000" stroke-width="1.1" />
<line x1="254.90" y1="273.70" x2="252.70" y2="273.70" stroke="#e80000" stroke-width="1.1" />
<line x1="254.90" y1="244.30" x2="252.70" y2="244.30" stroke="#e80000" stroke-width="1.1" />
<line x1="254.90" y1="376.60" x2="250.90" y2="376.60" stroke="#e80000" stroke-width="1.1" />
<text transform="translate(248.70,380.10) scale(1.06,1)" font-size="10" text-anchor="end" fill="#e80000" font-weight="bold" >0</text>
<line x1="254.90" y1="347.20" x2="250.90" y2="347.20" stroke="#e80000" stroke-width="1.1" />
<text transform="translate(248.70,350.70) scale(1.06,1)" font-size="10" text-anchor="end" fill="#e80000" font-weight="bold" >1</text>
<line x1="254.90" y1="317.80" x2="250.90" y2="317.80" stroke="#e80000" stroke-width="1.1" />
<text transform="translate(248.70,321.30) scale(1.06,1)" font-size="10" text-anchor="end" fill="#e80000" font-weight="bold" >2</text>
<line x1="254.90" y1="288.40" x2="250.90" y2="288.40" stroke="#e80000" stroke-width="1.1" />
<text transform="translate(248.70,291.90) scale(1.06,1)" font-size="10" text-anchor="end" fill="#e80000" font-weight="bold" >3</text>
<line x1="254.90" y1="259.00" x2="250.90" y2="259.00" stroke="#e80000" stroke-width="1.1" />
<text transform="translate(248.70,262.50) scale(1.06,1)" font-size="10" text-anchor="end" fill="#e80000" font-weight="bold" >4</text>
<line x1="254.90" y1="229.60" x2="250.90" y2="229.60" stroke="#e80000" stroke-width="1.1" />
<text transform="translate(248.70,233.10) scale(1.06,1)" font-size="10" text-anchor="end" fill="#e80000" font-weight="bold" >5</text>
<line x1="422.60" y1="361.90" x2="424.80" y2="361.90" stroke="#3d4c9c" stroke-width="1.1" />
<line x1="422.60" y1="332.50" x2="424.80" y2="332.50" stroke="#3d4c9c" stroke-width="1.1" />
<line x1="422.60" y1="303.10" x2="424.80" y2="303.10" stroke="#3d4c9c" stroke-width="1.1" />
<line x1="422.60" y1="273.70" x2="424.80" y2="273.70" stroke="#3d4c9c" stroke-width="1.1" />
<line x1="422.60" y1="244.30" x2="424.80" y2="244.30" stroke="#3d4c9c" stroke-width="1.1" />
<line x1="422.60" y1="376.60" x2="426.60" y2="376.60" stroke="#3d4c9c" stroke-width="1.1" />
<text transform="translate(428.80,380.10) scale(1.06,1)" font-size="10" text-anchor="start" fill="#3d4c9c" font-weight="bold" >0</text>
<line x1="422.60" y1="347.20" x2="426.60" y2="347.20" stroke="#3d4c9c" stroke-width="1.1" />
<text transform="translate(428.80,350.70) scale(1.06,1)" font-size="10" text-anchor="start" fill="#3d4c9c" font-weight="bold" >1</text>
<line x1="422.60" y1="317.80" x2="426.60" y2="317.80" stroke="#3d4c9c" stroke-width="1.1" />
<text transform="translate(428.80,321.30) scale(1.06,1)" font-size="10" text-anchor="start" fill="#3d4c9c" font-weight="bold" >2</text>
<line x1="422.60" y1="288.40" x2="426.60" y2="288.40" stroke="#3d4c9c" stroke-width="1.1" />
<text transform="translate(428.80,291.90) scale(1.06,1)" font-size="10" text-anchor="start" fill="#3d4c9c" font-weight="bold" >3</text>
<line x1="422.60" y1="259.00" x2="426.60" y2="259.00" stroke="#3d4c9c" stroke-width="1.1" />
<text transform="translate(428.80,262.50) scale(1.06,1)" font-size="10" text-anchor="start" fill="#3d4c9c" font-weight="bold" >4</text>
<line x1="422.60" y1="229.60" x2="426.60" y2="229.60" stroke="#3d4c9c" stroke-width="1.1" />
<text transform="translate(428.80,233.10) scale(1.06,1)" font-size="10" text-anchor="start" fill="#3d4c9c" font-weight="bold" >5</text>
<line x1="275.86" y1="376.60" x2="275.86" y2="378.80" stroke="#000" stroke-width="1.1" />
<line x1="317.79" y1="376.60" x2="317.79" y2="378.80" stroke="#000" stroke-width="1.1" />
<line x1="359.71" y1="376.60" x2="359.71" y2="378.80" stroke="#000" stroke-width="1.1" />
<line x1="401.64" y1="376.60" x2="401.64" y2="378.80" stroke="#000" stroke-width="1.1" />
<line x1="254.90" y1="376.60" x2="254.90" y2="380.60" stroke="#000" stroke-width="1.1" />
<text transform="translate(254.90,391.00) scale(1.06,1)" font-size="10" text-anchor="middle" fill="#000" font-weight="bold" >0</text>
<line x1="296.82" y1="376.60" x2="296.82" y2="380.60" stroke="#000" stroke-width="1.1" />
<text transform="translate(296.82,391.00) scale(1.06,1)" font-size="10" text-anchor="middle" fill="#000" font-weight="bold" >40</text>
<line x1="338.75" y1="376.60" x2="338.75" y2="380.60" stroke="#000" stroke-width="1.1" />
<text transform="translate(338.75,391.00) scale(1.06,1)" font-size="10" text-anchor="middle" fill="#000" font-weight="bold" >80</text>
<line x1="380.68" y1="376.60" x2="380.68" y2="380.60" stroke="#000" stroke-width="1.1" />
<text transform="translate(380.68,391.00) scale(1.06,1)" font-size="10" text-anchor="middle" fill="#000" font-weight="bold" >120</text>
<line x1="422.60" y1="376.60" x2="422.60" y2="380.60" stroke="#000" stroke-width="1.1" />
<text transform="translate(422.60,391.00) scale(1.06,1)" font-size="10" text-anchor="middle" fill="#000" font-weight="bold" >160</text>
<text transform="translate(342.30,401.00) scale(1.06,1)" font-size="11.2" text-anchor="middle" fill="#000" font-weight="bold" >Time (min)</text>
<text transform="translate(234.50,303.00) scale(1.06,1) rotate(-90)" font-size="12" text-anchor="middle" fill="#e80000" font-weight="bold">Voltage (V)</text>
<text transform="translate(448.00,303.10) scale(1.06,1) rotate(-90)" font-size="11.7" text-anchor="middle" fill="#3d4c9c" font-weight="bold">Current (A)</text>
<polyline points="254.90,259.00 265.38,259.00 275.86,259.00 286.34,264.00 296.82,266.35 307.31,267.82 317.79,268.70 328.27,269.58 338.75,270.17 349.23,270.76 359.71,271.35 370.19,271.94 380.68,272.23 391.16,272.52 401.64,272.82 412.12,273.11 417.36,273.26" fill="none" stroke="#e80000" stroke-width="1.6" stroke-linejoin="round" />
<circle cx="254.90" cy="259.00" r="3.4" fill="#e80000"/>
<circle cx="265.38" cy="259.00" r="3.4" fill="#e80000"/>
<circle cx="275.86" cy="259.00" r="3.4" fill="#e80000"/>
<circle cx="286.34" cy="264.00" r="3.4" fill="#e80000"/>
<circle cx="296.82" cy="266.35" r="3.4" fill="#e80000"/>
<circle cx="307.31" cy="267.82" r="3.4" fill="#e80000"/>
<circle cx="317.79" cy="268.70" r="3.4" fill="#e80000"/>
<circle cx="328.27" cy="269.58" r="3.4" fill="#e80000"/>
<circle cx="338.75" cy="270.17" r="3.4" fill="#e80000"/>
<circle cx="349.23" cy="270.76" r="3.4" fill="#e80000"/>
<circle cx="359.71" cy="271.35" r="3.4" fill="#e80000"/>
<circle cx="370.19" cy="271.94" r="3.4" fill="#e80000"/>
<circle cx="380.68" cy="272.23" r="3.4" fill="#e80000"/>
<circle cx="391.16" cy="272.52" r="3.4" fill="#e80000"/>
<circle cx="401.64" cy="272.82" r="3.4" fill="#e80000"/>
<circle cx="412.12" cy="273.11" r="3.4" fill="#e80000"/>
<circle cx="417.36" cy="273.26" r="3.4" fill="#e80000"/>
<polyline points="254.90,300.16 265.38,293.40 275.86,289.28 286.34,288.40 296.82,288.40 307.31,288.40 317.79,288.40 328.27,288.40 338.75,288.40 349.23,288.40 359.71,288.40 370.19,288.40 380.68,288.40 391.16,288.40 401.64,288.40 412.12,288.40 417.36,288.40" fill="none" stroke="#3d4c9c" stroke-width="1.6" stroke-linejoin="round" />
<polygon points="254.90,295.98 251.10,303.01 258.70,303.01" fill="#3d4c9c"/>
<polygon points="265.38,289.22 261.58,296.25 269.18,296.25" fill="#3d4c9c"/>
<polygon points="275.86,285.10 272.06,292.13 279.66,292.13" fill="#3d4c9c"/>
<polygon points="286.34,284.22 282.54,291.25 290.14,291.25" fill="#3d4c9c"/>
<polygon points="296.82,284.22 293.02,291.25 300.62,291.25" fill="#3d4c9c"/>
<polygon points="307.31,284.22 303.51,291.25 311.11,291.25" fill="#3d4c9c"/>
<polygon points="317.79,284.22 313.99,291.25 321.59,291.25" fill="#3d4c9c"/>
<polygon points="328.27,284.22 324.47,291.25 332.07,291.25" fill="#3d4c9c"/>
<polygon points="338.75,284.22 334.95,291.25 342.55,291.25" fill="#3d4c9c"/>
<polygon points="349.23,284.22 345.43,291.25 353.03,291.25" fill="#3d4c9c"/>
<polygon points="359.71,284.22 355.91,291.25 363.51,291.25" fill="#3d4c9c"/>
<polygon points="370.19,284.22 366.39,291.25 373.99,291.25" fill="#3d4c9c"/>
<polygon points="380.68,284.22 376.88,291.25 384.48,291.25" fill="#3d4c9c"/>
<polygon points="391.16,284.22 387.36,291.25 394.96,291.25" fill="#3d4c9c"/>
<polygon points="401.64,284.22 397.84,291.25 405.44,291.25" fill="#3d4c9c"/>
<polygon points="412.12,284.22 408.32,291.25 415.92,291.25" fill="#3d4c9c"/>
<polygon points="417.36,284.22 413.56,291.25 421.16,291.25" fill="#3d4c9c"/>
<text transform="translate(311.30,360.80) scale(1.06,1)" font-size="8.7" text-anchor="start" fill="#333" font-weight="bold" >Power</text>
<polyline points="346.9,354.6 340.2,357.9 346.9,361.2" fill="none" stroke="#333" stroke-width="0.9"/>
<text transform="translate(348.20,360.80) scale(1.06,1)" font-size="8.7" text-anchor="start" fill="#333" font-weight="bold" >12W</text>
<text transform="translate(223.00,236.80) scale(1.0,1)" font-size="17" text-anchor="start" fill="#000" font-weight="bold" >c</text>
<line x1="506.21" y1="229.20" x2="506.21" y2="375.20" stroke="#ebebeb" stroke-width="0.8" />
<line x1="527.12" y1="229.20" x2="527.12" y2="375.20" stroke="#ebebeb" stroke-width="0.8" />
<line x1="548.04" y1="229.20" x2="548.04" y2="375.20" stroke="#ebebeb" stroke-width="0.8" />
<line x1="568.95" y1="229.20" x2="568.95" y2="375.20" stroke="#ebebeb" stroke-width="0.8" />
<line x1="589.86" y1="229.20" x2="589.86" y2="375.20" stroke="#ebebeb" stroke-width="0.8" />
<line x1="610.77" y1="229.20" x2="610.77" y2="375.20" stroke="#ebebeb" stroke-width="0.8" />
<line x1="631.69" y1="229.20" x2="631.69" y2="375.20" stroke="#ebebeb" stroke-width="0.8" />
<line x1="485.30" y1="360.60" x2="652.60" y2="360.60" stroke="#ebebeb" stroke-width="0.8" />
<line x1="485.30" y1="346.00" x2="652.60" y2="346.00" stroke="#ebebeb" stroke-width="0.8" />
<line x1="485.30" y1="331.40" x2="652.60" y2="331.40" stroke="#ebebeb" stroke-width="0.8" />
<line x1="485.30" y1="316.80" x2="652.60" y2="316.80" stroke="#ebebeb" stroke-width="0.8" />
<line x1="485.30" y1="302.20" x2="652.60" y2="302.20" stroke="#ebebeb" stroke-width="0.8" />
<line x1="485.30" y1="287.60" x2="652.60" y2="287.60" stroke="#ebebeb" stroke-width="0.8" />
<line x1="485.30" y1="273.00" x2="652.60" y2="273.00" stroke="#ebebeb" stroke-width="0.8" />
<line x1="485.30" y1="258.40" x2="652.60" y2="258.40" stroke="#ebebeb" stroke-width="0.8" />
<line x1="485.30" y1="243.80" x2="652.60" y2="243.80" stroke="#ebebeb" stroke-width="0.8" />
<line x1="485.30" y1="229.20" x2="652.60" y2="229.20" stroke="#000" stroke-width="1.35" />
<line x1="485.30" y1="375.20" x2="652.60" y2="375.20" stroke="#000" stroke-width="1.3" />
<line x1="485.30" y1="229.20" x2="485.30" y2="378.20" stroke="#e80000" stroke-width="1.4" />
<line x1="652.60" y1="229.20" x2="652.60" y2="378.20" stroke="#3d4c9c" stroke-width="1.4" />
<line x1="485.30" y1="360.60" x2="483.10" y2="360.60" stroke="#e80000" stroke-width="1.1" />
<line x1="485.30" y1="331.40" x2="483.10" y2="331.40" stroke="#e80000" stroke-width="1.1" />
<line x1="485.30" y1="302.20" x2="483.10" y2="302.20" stroke="#e80000" stroke-width="1.1" />
<line x1="485.30" y1="273.00" x2="483.10" y2="273.00" stroke="#e80000" stroke-width="1.1" />
<line x1="485.30" y1="243.80" x2="483.10" y2="243.80" stroke="#e80000" stroke-width="1.1" />
<line x1="485.30" y1="375.20" x2="481.30" y2="375.20" stroke="#e80000" stroke-width="1.1" />
<text transform="translate(479.10,378.70) scale(1.06,1)" font-size="10" text-anchor="end" fill="#e80000" font-weight="bold" >0</text>
<line x1="485.30" y1="346.00" x2="481.30" y2="346.00" stroke="#e80000" stroke-width="1.1" />
<text transform="translate(479.10,349.50) scale(1.06,1)" font-size="10" text-anchor="end" fill="#e80000" font-weight="bold" >2</text>
<line x1="485.30" y1="316.80" x2="481.30" y2="316.80" stroke="#e80000" stroke-width="1.1" />
<text transform="translate(479.10,320.30) scale(1.06,1)" font-size="10" text-anchor="end" fill="#e80000" font-weight="bold" >4</text>
<line x1="485.30" y1="287.60" x2="481.30" y2="287.60" stroke="#e80000" stroke-width="1.1" />
<text transform="translate(479.10,291.10) scale(1.06,1)" font-size="10" text-anchor="end" fill="#e80000" font-weight="bold" >6</text>
<line x1="485.30" y1="258.40" x2="481.30" y2="258.40" stroke="#e80000" stroke-width="1.1" />
<text transform="translate(479.10,261.90) scale(1.06,1)" font-size="10" text-anchor="end" fill="#e80000" font-weight="bold" >8</text>
<line x1="485.30" y1="229.20" x2="481.30" y2="229.20" stroke="#e80000" stroke-width="1.1" />
<text transform="translate(479.10,232.70) scale(1.06,1)" font-size="10" text-anchor="end" fill="#e80000" font-weight="bold" >10</text>
<line x1="652.60" y1="360.60" x2="654.80" y2="360.60" stroke="#3d4c9c" stroke-width="1.1" />
<line x1="652.60" y1="331.40" x2="654.80" y2="331.40" stroke="#3d4c9c" stroke-width="1.1" />
<line x1="652.60" y1="302.20" x2="654.80" y2="302.20" stroke="#3d4c9c" stroke-width="1.1" />
<line x1="652.60" y1="273.00" x2="654.80" y2="273.00" stroke="#3d4c9c" stroke-width="1.1" />
<line x1="652.60" y1="243.80" x2="654.80" y2="243.80" stroke="#3d4c9c" stroke-width="1.1" />
<line x1="652.60" y1="375.20" x2="656.60" y2="375.20" stroke="#3d4c9c" stroke-width="1.1" />
<text transform="translate(658.80,378.70) scale(1.06,1)" font-size="10" text-anchor="start" fill="#3d4c9c" font-weight="bold" >0</text>
<line x1="652.60" y1="346.00" x2="656.60" y2="346.00" stroke="#3d4c9c" stroke-width="1.1" />
<text transform="translate(658.80,349.50) scale(1.06,1)" font-size="10" text-anchor="start" fill="#3d4c9c" font-weight="bold" >20</text>
<line x1="652.60" y1="316.80" x2="656.60" y2="316.80" stroke="#3d4c9c" stroke-width="1.1" />
<text transform="translate(658.80,320.30) scale(1.06,1)" font-size="10" text-anchor="start" fill="#3d4c9c" font-weight="bold" >40</text>
<line x1="652.60" y1="287.60" x2="656.60" y2="287.60" stroke="#3d4c9c" stroke-width="1.1" />
<text transform="translate(658.80,291.10) scale(1.06,1)" font-size="10" text-anchor="start" fill="#3d4c9c" font-weight="bold" >60</text>
<line x1="652.60" y1="258.40" x2="656.60" y2="258.40" stroke="#3d4c9c" stroke-width="1.1" />
<text transform="translate(658.80,261.90) scale(1.06,1)" font-size="10" text-anchor="start" fill="#3d4c9c" font-weight="bold" >80</text>
<line x1="652.60" y1="229.20" x2="656.60" y2="229.20" stroke="#3d4c9c" stroke-width="1.1" />
<text transform="translate(658.80,232.70) scale(1.06,1)" font-size="10" text-anchor="start" fill="#3d4c9c" font-weight="bold" >100</text>
<line x1="506.21" y1="375.20" x2="506.21" y2="377.40" stroke="#000" stroke-width="1.1" />
<line x1="548.04" y1="375.20" x2="548.04" y2="377.40" stroke="#000" stroke-width="1.1" />
<line x1="589.86" y1="375.20" x2="589.86" y2="377.40" stroke="#000" stroke-width="1.1" />
<line x1="631.69" y1="375.20" x2="631.69" y2="377.40" stroke="#000" stroke-width="1.1" />
<line x1="485.30" y1="375.20" x2="485.30" y2="379.20" stroke="#000" stroke-width="1.1" />
<text transform="translate(485.30,390.50) scale(1.06,1)" font-size="10" text-anchor="middle" fill="#000" font-weight="bold" >0</text>
<line x1="527.12" y1="375.20" x2="527.12" y2="379.20" stroke="#000" stroke-width="1.1" />
<text transform="translate(527.12,390.50) scale(1.06,1)" font-size="10" text-anchor="middle" fill="#000" font-weight="bold" >40</text>
<line x1="568.95" y1="375.20" x2="568.95" y2="379.20" stroke="#000" stroke-width="1.1" />
<text transform="translate(568.95,390.50) scale(1.06,1)" font-size="10" text-anchor="middle" fill="#000" font-weight="bold" >80</text>
<line x1="610.77" y1="375.20" x2="610.77" y2="379.20" stroke="#000" stroke-width="1.1" />
<text transform="translate(610.77,390.50) scale(1.06,1)" font-size="10" text-anchor="middle" fill="#000" font-weight="bold" >120</text>
<line x1="652.60" y1="375.20" x2="652.60" y2="379.20" stroke="#000" stroke-width="1.1" />
<text transform="translate(652.60,390.50) scale(1.06,1)" font-size="10" text-anchor="middle" fill="#000" font-weight="bold" >160</text>
<text transform="translate(571.80,400.40) scale(1.06,1)" font-size="11.15" text-anchor="middle" fill="#000" font-weight="bold" >Time (min)</text>
<text transform="translate(467.30,305.50) scale(1.06,1) rotate(-90)" font-size="10.6" text-anchor="middle" fill="#e80000" font-weight="bold">Temperature (°C)</text>
<text transform="translate(680.40,302.40) scale(1.06,1) rotate(-90)" font-size="11.6" text-anchor="middle" fill="#3d4c9c" font-weight="bold">Humidness (%)</text>
<g transform="translate(530,249) scale(1.0)"><defs><linearGradient id="ibl2" x1="0" y1="0" x2="0.3" y2="1"><stop offset="0" stop-color="#9a9aa2"/><stop offset="1" stop-color="#c4c4ca"/></linearGradient><linearGradient id="ibf2" x1="0" y1="0" x2="1" y2="1"><stop offset="0" stop-color="#b0b0b8"/><stop offset="1" stop-color="#d2d2d8"/></linearGradient></defs><polygon points="0.9,16 50,9.5 77.1,27.8 23.2,37" fill="#d6d6da"/><polygon points="0.9,16 23.2,37 25.2,58 4.2,37" fill="url(#ibl2)"/><polygon points="23.2,37 77.1,27.8 74.5,46.2 25.2,58" fill="url(#ibf2)"/><line x1="0.9" y1="16" x2="23.2" y2="37" stroke="#2a2a30" stroke-width="1.1"/><line x1="23.2" y1="37" x2="77.1" y2="27.8" stroke="#8a8a92" stroke-width="0.6"/><polygon points="29.8,15 46,13 48.2,16 48.2,26 31,27.5 29.8,24" fill="#c6c6cc"/><rect x="31" y="10.5" width="6" height="5" fill="#b4b4ba"/><rect x="39" y="10" width="7" height="5" fill="#bcbcc2"/><path d="M48.9,14 Q55,12.5 57.4,6.5" fill="none" stroke="#2a58d0" stroke-width="1.2"/><circle cx="58.7" cy="3.5" r="2.8" fill="#e6f7ff" stroke="#86d6f4" stroke-width="1.1"/><circle cx="58.7" cy="3.5" r="1.1" fill="#3a5bb0"/><path d="M38.4,43.6 C38,30 52,22 59.4,35" fill="none" stroke="#2a58d0" stroke-width="1.2"/><rect x="30.5" y="45" width="8" height="6" rx="2" fill="#6a6a72"/><circle cx="34.4" cy="41.6" r="2.8" fill="#ececf0" stroke="#c4c4cc" stroke-width="0.9"/><circle cx="34.4" cy="41.6" r="1.1" fill="#3a5bb0"/><circle cx="61.4" cy="41" r="2.8" fill="#ececf0" stroke="#c4c4cc" stroke-width="0.9"/><circle cx="61.4" cy="41" r="1.1" fill="#3a5bb0"/><circle cx="41" cy="44.9" r="2.8" fill="#e6f7ff" stroke="#86d6f4" stroke-width="1.1"/><circle cx="41" cy="44.9" r="1.1" fill="#3a5bb0"/></g>
<polyline points="485.30,319.72 493.67,319.72 502.03,319.72 510.40,319.72 518.76,319.72 527.12,319.72 535.49,319.72 543.86,319.72 552.22,318.26 560.59,317.97 568.95,317.53 577.32,316.80 585.68,315.63 594.05,315.34 602.41,314.61 610.77,313.88 619.14,313.15 627.50,311.69 635.87,310.23 644.24,309.50 652.60,308.04" fill="none" stroke="#e80000" stroke-width="1.6" stroke-linejoin="round" />
<circle cx="485.30" cy="319.72" r="3.7" fill="#e80000"/>
<circle cx="493.67" cy="319.72" r="3.7" fill="#e80000"/>
<circle cx="502.03" cy="319.72" r="3.7" fill="#e80000"/>
<circle cx="510.40" cy="319.72" r="3.7" fill="#e80000"/>
<circle cx="518.76" cy="319.72" r="3.7" fill="#e80000"/>
<circle cx="527.12" cy="319.72" r="3.7" fill="#e80000"/>
<circle cx="535.49" cy="319.72" r="3.7" fill="#e80000"/>
<circle cx="543.86" cy="319.72" r="3.7" fill="#e80000"/>
<circle cx="552.22" cy="318.26" r="3.7" fill="#e80000"/>
<circle cx="560.59" cy="317.97" r="3.7" fill="#e80000"/>
<circle cx="568.95" cy="317.53" r="3.7" fill="#e80000"/>
<circle cx="577.32" cy="316.80" r="3.7" fill="#e80000"/>
<circle cx="585.68" cy="315.63" r="3.7" fill="#e80000"/>
<circle cx="594.05" cy="315.34" r="3.7" fill="#e80000"/>
<circle cx="602.41" cy="314.61" r="3.7" fill="#e80000"/>
<circle cx="610.77" cy="313.88" r="3.7" fill="#e80000"/>
<circle cx="619.14" cy="313.15" r="3.7" fill="#e80000"/>
<circle cx="627.50" cy="311.69" r="3.7" fill="#e80000"/>
<circle cx="635.87" cy="310.23" r="3.7" fill="#e80000"/>
<circle cx="644.24" cy="309.50" r="3.7" fill="#e80000"/>
<circle cx="652.60" cy="308.04" r="3.7" fill="#e80000"/>
<polyline points="485.30,243.80 493.67,243.80 502.03,243.80 510.40,243.80 518.76,243.80 527.12,243.80 535.49,243.80 543.86,243.80 552.22,243.80 560.59,243.80 568.95,243.80 577.32,243.80 585.68,243.80 594.05,243.80 602.41,243.80 610.77,243.80 619.14,243.80 627.50,243.80 635.87,243.80 644.24,243.80 652.60,243.80" fill="none" stroke="#3d4c9c" stroke-width="1.6" stroke-linejoin="round" />
<polygon points="485.30,239.84 481.70,246.50 488.90,246.50" fill="#3d4c9c"/>
<polygon points="493.67,239.84 490.06,246.50 497.27,246.50" fill="#3d4c9c"/>
<polygon points="502.03,239.84 498.43,246.50 505.63,246.50" fill="#3d4c9c"/>
<polygon points="510.40,239.84 506.80,246.50 514.00,246.50" fill="#3d4c9c"/>
<polygon points="518.76,239.84 515.16,246.50 522.36,246.50" fill="#3d4c9c"/>
<polygon points="527.12,239.84 523.52,246.50 530.73,246.50" fill="#3d4c9c"/>
<polygon points="535.49,239.84 531.89,246.50 539.09,246.50" fill="#3d4c9c"/>
<polygon points="543.86,239.84 540.25,246.50 547.46,246.50" fill="#3d4c9c"/>
<polygon points="552.22,239.84 548.62,246.50 555.82,246.50" fill="#3d4c9c"/>
<polygon points="560.59,239.84 556.99,246.50 564.19,246.50" fill="#3d4c9c"/>
<polygon points="568.95,239.84 565.35,246.50 572.55,246.50" fill="#3d4c9c"/>
<polygon points="577.32,239.84 573.72,246.50 580.92,246.50" fill="#3d4c9c"/>
<polygon points="585.68,239.84 582.08,246.50 589.28,246.50" fill="#3d4c9c"/>
<polygon points="594.05,239.84 590.45,246.50 597.65,246.50" fill="#3d4c9c"/>
<polygon points="602.41,239.84 598.81,246.50 606.01,246.50" fill="#3d4c9c"/>
<polygon points="610.77,239.84 607.17,246.50 614.38,246.50" fill="#3d4c9c"/>
<polygon points="619.14,239.84 615.54,246.50 622.74,246.50" fill="#3d4c9c"/>
<polygon points="627.50,239.84 623.90,246.50 631.11,246.50" fill="#3d4c9c"/>
<polygon points="635.87,239.84 632.27,246.50 639.47,246.50" fill="#3d4c9c"/>
<polygon points="644.24,239.84 640.63,246.50 647.84,246.50" fill="#3d4c9c"/>
<polygon points="652.60,239.84 649.00,246.50 656.20,246.50" fill="#3d4c9c"/>
<text transform="translate(576.60,360.80) scale(1.06,1)" font-size="8.75" text-anchor="middle" fill="#333" font-weight="bold" >Stable temperature and humidity</text>
<text transform="translate(449.00,236.80) scale(1.0,1)" font-size="17" text-anchor="start" fill="#000" font-weight="bold" >d</text>
<line x1="83.46" y1="420.40" x2="83.46" y2="560.40" stroke="#ebebeb" stroke-width="0.8" />
<line x1="105.62" y1="420.40" x2="105.62" y2="560.40" stroke="#ebebeb" stroke-width="0.8" />
<line x1="127.77" y1="420.40" x2="127.77" y2="560.40" stroke="#ebebeb" stroke-width="0.8" />
<line x1="149.93" y1="420.40" x2="149.93" y2="560.40" stroke="#ebebeb" stroke-width="0.8" />
<line x1="172.09" y1="420.40" x2="172.09" y2="560.40" stroke="#ebebeb" stroke-width="0.8" />
<line x1="194.25" y1="420.40" x2="194.25" y2="560.40" stroke="#ebebeb" stroke-width="0.8" />
<line x1="216.41" y1="420.40" x2="216.41" y2="560.40" stroke="#ebebeb" stroke-width="0.8" />
<line x1="238.57" y1="420.40" x2="238.57" y2="560.40" stroke="#ebebeb" stroke-width="0.8" />
<line x1="260.72" y1="420.40" x2="260.72" y2="560.40" stroke="#ebebeb" stroke-width="0.8" />
<line x1="282.88" y1="420.40" x2="282.88" y2="560.40" stroke="#ebebeb" stroke-width="0.8" />
<line x1="305.04" y1="420.40" x2="305.04" y2="560.40" stroke="#ebebeb" stroke-width="0.8" />
<line x1="61.30" y1="546.40" x2="327.20" y2="546.40" stroke="#ebebeb" stroke-width="0.8" />
<line x1="61.30" y1="532.40" x2="327.20" y2="532.40" stroke="#ebebeb" stroke-width="0.8" />
<line x1="61.30" y1="518.40" x2="327.20" y2="518.40" stroke="#ebebeb" stroke-width="0.8" />
<line x1="61.30" y1="504.40" x2="327.20" y2="504.40" stroke="#ebebeb" stroke-width="0.8" />
<line x1="61.30" y1="490.40" x2="327.20" y2="490.40" stroke="#ebebeb" stroke-width="0.8" />
<line x1="61.30" y1="476.40" x2="327.20" y2="476.40" stroke="#ebebeb" stroke-width="0.8" />
<line x1="61.30" y1="462.40" x2="327.20" y2="462.40" stroke="#ebebeb" stroke-width="0.8" />
<line x1="61.30" y1="448.40" x2="327.20" y2="448.40" stroke="#ebebeb" stroke-width="0.8" />
<line x1="61.30" y1="434.40" x2="327.20" y2="434.40" stroke="#ebebeb" stroke-width="0.8" />
<line x1="61.30" y1="420.40" x2="327.20" y2="420.40" stroke="#000" stroke-width="1.35" />
<line x1="61.30" y1="560.40" x2="327.20" y2="560.40" stroke="#000" stroke-width="1.3" />
<line x1="61.30" y1="420.40" x2="61.30" y2="560.40" stroke="#000" stroke-width="1.3" />
<line x1="327.20" y1="420.40" x2="327.20" y2="560.40" stroke="#000" stroke-width="1.3" />
<line x1="61.30" y1="420.40" x2="61.30" y2="563.40" stroke="#000" stroke-width="1.3" />
<line x1="61.30" y1="546.40" x2="59.10" y2="546.40" stroke="#000" stroke-width="1.1" />
<line x1="61.30" y1="518.40" x2="59.10" y2="518.40" stroke="#000" stroke-width="1.1" />
<line x1="61.30" y1="490.40" x2="59.10" y2="490.40" stroke="#000" stroke-width="1.1" />
<line x1="61.30" y1="462.40" x2="59.10" y2="462.40" stroke="#000" stroke-width="1.1" />
<line x1="61.30" y1="434.40" x2="59.10" y2="434.40" stroke="#000" stroke-width="1.1" />
<line x1="61.30" y1="560.40" x2="57.30" y2="560.40" stroke="#000" stroke-width="1.1" />
<text transform="translate(55.10,563.60) scale(1.06,1)" font-size="10.2" text-anchor="end" fill="#000" font-weight="bold" >0</text>
<line x1="61.30" y1="532.40" x2="57.30" y2="532.40" stroke="#000" stroke-width="1.1" />
<text transform="translate(55.10,535.60) scale(1.06,1)" font-size="10.2" text-anchor="end" fill="#000" font-weight="bold" >20</text>
<line x1="61.30" y1="504.40" x2="57.30" y2="504.40" stroke="#000" stroke-width="1.1" />
<text transform="translate(55.10,507.60) scale(1.06,1)" font-size="10.2" text-anchor="end" fill="#000" font-weight="bold" >40</text>
<line x1="61.30" y1="476.40" x2="57.30" y2="476.40" stroke="#000" stroke-width="1.1" />
<text transform="translate(55.10,479.60) scale(1.06,1)" font-size="10.2" text-anchor="end" fill="#000" font-weight="bold" >60</text>
<line x1="61.30" y1="448.40" x2="57.30" y2="448.40" stroke="#000" stroke-width="1.1" />
<text transform="translate(55.10,451.60) scale(1.06,1)" font-size="10.2" text-anchor="end" fill="#000" font-weight="bold" >80</text>
<line x1="61.30" y1="420.40" x2="57.30" y2="420.40" stroke="#000" stroke-width="1.1" />
<text transform="translate(55.10,423.60) scale(1.06,1)" font-size="10.2" text-anchor="end" fill="#000" font-weight="bold" >100</text>
<line x1="83.46" y1="560.40" x2="83.46" y2="562.60" stroke="#000" stroke-width="1.1" />
<line x1="127.77" y1="560.40" x2="127.77" y2="562.60" stroke="#000" stroke-width="1.1" />
<line x1="172.09" y1="560.40" x2="172.09" y2="562.60" stroke="#000" stroke-width="1.1" />
<line x1="216.41" y1="560.40" x2="216.41" y2="562.60" stroke="#000" stroke-width="1.1" />
<line x1="260.72" y1="560.40" x2="260.72" y2="562.60" stroke="#000" stroke-width="1.1" />
<line x1="305.04" y1="560.40" x2="305.04" y2="562.60" stroke="#000" stroke-width="1.1" />
<line x1="61.30" y1="560.40" x2="61.30" y2="564.40" stroke="#000" stroke-width="1.1" />
<text transform="translate(61.30,575.80) scale(1.06,1)" font-size="10" text-anchor="middle" fill="#000" font-weight="bold" >0</text>
<line x1="105.62" y1="560.40" x2="105.62" y2="564.40" stroke="#000" stroke-width="1.1" />
<text transform="translate(105.62,575.80) scale(1.06,1)" font-size="10" text-anchor="middle" fill="#000" font-weight="bold" >100</text>
<line x1="149.93" y1="560.40" x2="149.93" y2="564.40" stroke="#000" stroke-width="1.1" />
<text transform="translate(149.93,575.80) scale(1.06,1)" font-size="10" text-anchor="middle" fill="#000" font-weight="bold" >200</text>
<line x1="194.25" y1="560.40" x2="194.25" y2="564.40" stroke="#000" stroke-width="1.1" />
<text transform="translate(194.25,575.80) scale(1.06,1)" font-size="10" text-anchor="middle" fill="#000" font-weight="bold" >300</text>
<line x1="238.57" y1="560.40" x2="238.57" y2="564.40" stroke="#000" stroke-width="1.1" />
<text transform="translate(238.57,575.80) scale(1.06,1)" font-size="10" text-anchor="middle" fill="#000" font-weight="bold" >400</text>
<line x1="282.88" y1="560.40" x2="282.88" y2="564.40" stroke="#000" stroke-width="1.1" />
<text transform="translate(282.88,575.80) scale(1.06,1)" font-size="10" text-anchor="middle" fill="#000" font-weight="bold" >500</text>
<line x1="327.20" y1="560.40" x2="327.20" y2="564.40" stroke="#000" stroke-width="1.1" />
<text transform="translate(327.20,575.80) scale(1.06,1)" font-size="10" text-anchor="middle" fill="#000" font-weight="bold" >600</text>
<text transform="translate(194.50,590.10) scale(1.06,1)" font-size="11.6" text-anchor="middle" fill="#000" font-weight="bold" >Time (h)</text>
<text transform="translate(31.00,489.70) scale(1.06,1) rotate(-90)" font-size="12.3" text-anchor="middle" fill="#000" font-weight="bold">Current density (mA·cm<tspan font-size="9.5" dy="-4.5">-2</tspan><tspan dy="4.5">)</tspan></text>
<polyline points="61.30,501.60 61.52,472.20 61.74,470.35 62.14,470.18 62.54,470.11 62.94,469.90 63.34,470.18 63.74,469.93 64.14,471.18 64.54,470.57 64.93,469.90 65.33,470.31 65.73,469.96 66.13,471.06 66.53,476.28 66.93,474.21 67.33,470.83 67.73,477.36 68.12,471.03 68.52,478.69 68.92,479.22 69.32,478.17 69.72,470.47 70.12,470.27 70.52,470.93 70.92,469.90 71.32,469.87 71.71,473.13 72.11,473.88 72.51,474.71 72.91,475.64 73.31,470.55 73.71,470.78 74.11,470.55 74.51,470.23 74.91,471.14 75.30,469.85 75.70,471.19 76.10,470.17 76.50,470.04 76.90,471.19 77.30,473.08 77.70,473.00 78.10,473.36 78.49,469.92 78.89,473.54 79.29,470.13 79.69,471.07 80.09,470.17 80.49,470.10 80.89,470.02 81.29,471.17 81.69,469.90 82.08,471.09 82.48,470.74 82.88,470.36 83.28,469.93 83.68,470.74 84.08,469.93 84.48,470.46 84.88,470.78 85.28,470.78 85.67,470.97 86.07,471.11 86.47,471.01 86.87,470.26 87.27,469.82 87.67,470.99 88.07,471.15 88.47,469.84 88.86,470.47 89.26,470.65 89.66,470.89 90.06,470.39 90.46,470.06 90.86,470.58 91.26,470.63 91.66,471.14 92.06,469.94 92.45,471.17 92.85,470.53 93.25,470.05 93.65,471.04 94.05,470.20 94.45,469.89 94.85,470.34 95.25,470.12 95.65,471.07 96.04,470.61 96.44,471.01 96.84,470.04 97.24,470.81 97.64,470.59 98.04,469.82 98.44,470.03 98.84,469.85 99.24,470.59 99.63,470.54 100.03,470.20 100.43,470.55 100.83,470.81 101.23,470.65 101.63,471.01 102.03,470.69 102.43,469.84 102.82,469.88 103.22,470.34 103.62,470.52 104.02,470.75 104.42,471.10 104.82,470.84 105.22,470.13 105.62,470.01 106.02,470.71 106.41,470.12 106.81,470.14 107.21,470.25 107.61,470.29 108.01,470.71 108.41,474.35 108.81,474.29 109.21,470.31 109.61,471.20 110.00,470.87 110.40,471.41 110.80,471.15 111.20,471.57 111.60,471.03 112.00,471.57 112.40,470.84 112.80,470.69 113.19,471.33 113.59,471.83 113.99,474.04 114.39,471.05 114.79,471.82 115.19,471.25 115.59,471.47 115.99,470.98 116.39,472.78 116.78,471.44 117.18,471.75 117.58,473.82 117.98,473.40 118.38,473.44 118.78,474.39 119.18,471.20 119.58,471.73 119.98,472.06 120.37,471.49 120.77,473.80 121.17,472.72 121.57,475.02 121.97,471.58 122.37,470.72 122.77,471.47 123.17,473.40 123.56,471.23 123.96,470.72 124.36,476.39 124.76,475.96 125.16,475.35 125.56,474.18 125.96,477.24 126.36,471.53 126.76,470.71 127.15,470.78 127.55,471.23 127.95,470.86 128.35,469.85 128.75,470.53 129.15,470.64 129.55,470.77 129.95,469.84 130.35,470.53 130.74,470.82 131.14,470.55 131.54,471.05 131.94,470.35 132.34,470.60 132.74,470.81 133.14,470.13 133.54,470.06 133.94,471.20 134.33,470.47 134.73,470.84 135.13,469.91 135.53,470.13 135.93,470.88 136.33,470.85 136.73,471.00 137.13,469.84 137.52,470.81 137.92,470.37 138.32,470.56 138.72,470.32 139.12,470.37 139.52,470.18 139.92,471.05 140.32,470.16 140.72,470.80 141.11,470.47 141.51,470.75 141.91,470.80 142.31,470.48 142.71,470.57 143.11,470.71 143.51,470.18 143.91,470.39 144.31,471.17 144.70,470.87 145.10,470.58 145.50,469.94 145.90,469.98 146.30,470.46 146.70,471.20 147.10,470.13 147.50,470.62 147.89,470.41 148.29,470.23 148.69,470.33 149.09,470.55 149.49,469.94 149.89,470.68 150.29,470.67 150.69,470.03 151.09,470.94 151.48,470.80 151.88,470.06 152.28,471.13 152.68,470.05 153.08,470.25 153.48,470.61 153.88,470.82 154.28,470.13 154.68,469.95 155.07,471.02 155.47,470.55 155.87,470.45 156.27,470.52 156.67,470.76 157.07,471.01 157.47,470.40 157.87,470.08 158.26,471.12 158.66,470.90 159.06,470.07 159.46,470.11 159.86,471.18 160.26,469.85 160.66,472.73 161.06,470.91 161.46,469.89 161.85,473.67 162.25,471.01 162.65,472.70 163.05,471.16 163.45,471.07 163.85,470.69 164.25,471.12 164.65,471.14 165.05,470.41 165.44,470.18 165.84,469.99 166.24,471.03 166.64,470.62 167.04,470.78 167.44,470.38 167.84,470.53 168.24,469.91 168.63,470.70 169.03,471.14 169.43,470.24 169.83,471.01 170.23,470.34 170.63,470.51 171.03,469.95 171.43,470.44 171.83,470.35 172.22,470.85 172.62,470.45 173.02,470.86 173.42,470.17 173.82,470.50 174.22,471.03 174.62,470.89 175.02,470.70 175.42,470.19 175.81,470.97 176.21,470.22 176.61,470.30 177.01,471.10 177.41,470.28 177.81,471.09 178.21,471.05 178.61,470.39 179.01,470.89 179.40,469.99 179.80,470.55 180.20,470.77 180.60,470.10 181.00,471.18 181.40,470.20 181.80,471.14 182.20,471.01 182.59,469.89 182.99,470.27 183.39,470.91 183.79,471.06 184.19,469.86 184.59,470.29 184.99,471.02 185.39,474.46 185.79,474.35 186.18,471.03 186.58,470.31 186.98,470.61 187.38,470.50 187.78,470.39 188.18,470.42 188.58,473.27 188.98,473.93 189.38,476.97 189.77,478.97 190.17,475.61 190.57,474.54 190.97,478.39 191.37,471.01 191.77,470.86 192.17,470.83 192.57,470.99 192.96,470.82 193.36,470.89 193.76,470.55 194.16,471.18 194.56,470.22 194.96,471.02 195.36,470.24 195.76,470.61 196.16,470.65 196.55,470.95 196.95,470.30 197.35,471.48 197.75,470.73 198.15,471.27 198.55,470.76 198.95,470.70 199.35,471.51 199.75,471.47 200.14,471.74 200.54,474.72 200.94,473.35 201.34,475.73 201.74,473.47 202.14,470.93 202.54,476.49 202.94,476.63 203.33,471.35 203.73,471.88 204.13,471.19 204.53,470.59 204.93,471.27 205.33,471.53 205.73,471.90 206.13,471.95 206.53,470.81 206.92,471.40 207.32,470.80 207.72,472.05 208.12,471.80 208.52,474.01 208.92,474.70 209.32,477.62 209.72,471.97 210.12,471.68 210.51,474.24 210.91,471.52 211.31,471.46 211.71,475.81 212.11,471.65 212.51,471.55 212.91,471.84 213.31,471.51 213.71,471.39 214.10,471.15 214.50,472.01 214.90,471.83 215.30,471.32 215.70,472.19 216.10,472.36 216.50,472.10 216.90,472.43 217.29,471.49 217.69,471.44 218.09,472.17 218.49,472.45 218.89,472.53 219.29,472.32 219.69,472.57 220.09,472.10 220.49,475.28 220.88,476.07 221.28,475.97 221.68,480.29 222.08,472.02 222.48,471.90 222.88,480.57 223.28,471.93 223.68,471.85 224.08,472.51 224.47,481.18 224.87,475.36 225.27,481.61 225.67,471.76 226.07,478.86 226.47,480.48 226.87,471.86 227.27,472.90 227.66,472.82 228.06,472.45 228.46,477.83 228.86,478.59 229.26,472.51 229.66,471.84 230.06,471.81 230.46,473.04 230.86,483.64 231.25,473.18 231.65,472.57 232.05,478.24 232.45,473.00 232.85,472.80 233.25,478.28 233.65,471.96 234.05,472.16 234.45,485.43 234.84,482.14 235.24,473.13 235.64,472.97 236.04,472.24 236.44,474.92 236.84,472.77 237.24,477.63 237.64,478.25 238.03,472.87 238.43,473.00 238.83,472.43 239.23,472.30 239.63,472.64 240.03,472.69 240.43,472.90 240.83,472.55 241.23,473.18 241.62,472.87 242.02,472.77 242.42,473.01 242.82,473.36 243.22,473.67 243.62,473.68 244.02,473.32 244.42,473.02 244.82,472.79 245.21,472.87 245.61,473.46 246.01,472.61 246.41,473.54 246.81,472.94 247.21,473.86 247.61,472.93 248.01,473.06 248.40,472.68 248.80,472.78 249.20,473.10 249.60,472.90 250.00,473.06 250.40,473.26 250.80,473.84 251.20,473.43 251.60,472.92 251.99,473.85 252.39,472.84 252.79,478.49 253.19,473.99 253.59,473.00 253.99,476.58 254.39,473.34 254.79,481.05 255.19,478.13 255.58,473.48 255.98,474.14 256.38,476.21 256.78,473.62 257.18,473.27 257.58,473.22 257.98,473.45 258.38,473.90 258.78,473.91 259.17,473.78 259.57,481.21 259.97,476.36 260.37,474.42 260.77,478.00 261.17,473.78 261.57,473.67 261.97,483.23 262.36,482.10 262.76,473.79 263.16,473.41 263.56,474.41 263.96,473.77 264.36,473.59 264.76,474.12 265.16,474.66 265.56,474.55 265.95,474.62 266.35,474.73 266.75,474.66 267.15,474.03 267.55,474.77 267.95,473.87 268.35,473.92 268.75,473.83 269.15,473.86 269.54,474.01 269.94,473.73 270.34,473.70 270.74,474.19 271.14,477.83 271.54,480.03 271.94,474.16 272.34,480.73 272.73,480.66 273.13,474.65 273.53,474.50 273.93,473.86 274.33,473.91 274.73,475.15 275.13,474.20 275.53,474.27 275.93,474.89 276.32,475.16 276.72,474.67 277.12,474.86 277.52,474.34 277.92,474.11 278.32,474.88 278.72,475.05 279.12,474.81 279.52,474.58 279.91,474.50 280.31,474.85 280.71,475.29 281.11,475.28 281.51,474.62 281.91,475.13 282.31,475.84 282.71,478.59 283.10,477.45 283.50,475.39 283.90,479.36 284.30,479.67 284.70,476.20 285.10,477.75 285.50,478.45 285.90,480.41 286.30,477.30 286.69,476.07 287.09,475.55 287.49,480.04 287.89,476.00 288.29,475.83 288.69,475.45 289.09,475.86 289.49,475.92 289.89,476.81 290.28,476.88 290.68,475.89 291.08,476.44 291.48,475.84 291.88,475.96 292.28,475.89 292.68,476.69 293.08,475.87 293.48,476.26 293.87,476.12 294.27,477.21 294.67,476.38 295.07,476.93 295.47,476.21 295.87,476.23 296.27,477.37 296.67,477.13 297.06,477.39 297.46,477.16 297.86,477.47 298.26,478.75 298.66,479.71 299.06,476.77 299.46,481.49 299.86,476.78 300.26,481.95 300.65,478.72 301.05,481.15 301.45,477.80 301.85,478.16 302.25,477.70 302.65,477.11 303.05,477.55 303.45,478.45 303.85,478.47 304.24,477.78 304.64,478.20 305.04,478.26 305.44,478.16 305.84,478.07 306.24,477.58 306.64,478.64 307.04,478.24 307.43,478.71 307.83,479.89 308.23,480.55 308.63,478.65 309.03,478.43 309.43,479.26 309.83,480.85 310.23,481.13 310.63,478.57 311.02,479.02 311.42,478.59 311.82,478.31 312.22,478.30 312.62,479.32 313.02,479.55 313.42,478.53 313.82,479.78 314.22,479.31 314.61,478.96 315.01,479.30 315.41,479.55 315.81,478.85 316.21,479.77 316.61,479.47 317.01,479.13 317.41,480.15 317.80,479.90 318.20,479.75 318.60,479.70 319.00,480.25 319.40,479.96 319.80,480.56 320.20,480.57 320.60,480.27 321.00,480.59 321.39,479.49 321.79,480.53 322.19,480.56 322.59,479.90 322.99,480.01 323.39,480.73 323.79,479.99 324.19,480.32 324.59,480.71 324.98,480.42 325.38,481.01 325.78,481.03 326.18,480.22 326.58,480.89 326.98,480.30" fill="none" stroke="#3d4c9c" stroke-width="1.6" stroke-linejoin="round" />
<polyline points="61.30,470.52 63.52,470.52 65.73,470.52 67.95,470.52 70.16,470.52 72.38,470.52 74.59,470.52 76.81,470.52 79.03,470.52 81.24,470.52 83.46,470.52 85.67,470.52 87.89,470.52 90.11,470.52 92.32,470.52 94.54,470.52 96.75,470.52 98.97,470.52 101.19,470.52 103.40,470.52 105.62,470.52 107.83,470.52 110.05,470.52 112.26,471.36 114.48,471.36 116.70,471.36 118.91,471.36 121.13,471.36 123.34,471.36 125.56,471.36 127.77,470.52 129.99,470.52 132.21,470.52 134.42,470.52 136.64,470.52 138.85,470.52 141.07,470.52 143.29,470.52 145.50,470.52 147.72,470.52 149.93,470.52 152.15,470.52 154.36,470.52 156.58,470.52 158.80,470.52 161.01,470.52 163.23,470.52 165.44,470.52 167.66,470.52 169.88,470.52 172.09,470.52 174.31,470.52 176.52,470.52 178.74,470.52 180.95,470.52 183.17,470.52 185.39,470.52 187.60,470.52 189.82,470.52 192.03,470.52 194.25,470.80 196.47,470.90 198.68,471.01 200.90,471.11 203.11,471.21 205.33,471.32 207.55,471.42 209.76,471.52 211.98,471.63 214.19,471.73 216.41,471.83 218.62,471.93 220.84,472.04 223.06,472.14 225.27,472.24 227.49,472.35 229.70,472.45 231.92,472.55 234.13,472.66 236.35,472.76 238.57,472.86 240.78,472.97 243.00,473.07 245.21,473.17 247.43,473.28 249.65,473.38 251.86,473.48 254.08,473.59 256.29,473.69 258.51,473.79 260.72,473.89 262.94,474.00 265.16,474.10 267.37,474.20 269.59,474.31 271.80,474.41 274.02,474.51 276.24,474.62 278.45,474.72 280.67,475.00 282.88,475.28 285.10,475.56 287.31,475.84 289.53,476.12 291.75,476.40 293.96,476.68 296.18,476.96 298.39,477.24 300.61,477.52 302.83,477.80 305.04,478.08 307.26,478.36 309.47,478.64 311.69,478.92 313.90,479.20 316.12,479.48 318.34,479.76 320.55,480.04 322.77,480.32 324.98,480.60 327.20,480.88" fill="none" stroke="#3d4c9c" stroke-width="2.0" stroke-linejoin="round" />
<text transform="translate(194.50,530.00) scale(1.06,1)" font-size="8.65" text-anchor="middle" fill="#333" font-weight="bold" >High stability</text>
<text transform="translate(2.00,425.70) scale(1.0,1)" font-size="17" text-anchor="start" fill="#000" font-weight="bold" >e</text>
<line x1="420.19" y1="421.30" x2="420.19" y2="561.40" stroke="#ebebeb" stroke-width="0.8" />
<line x1="442.38" y1="421.30" x2="442.38" y2="561.40" stroke="#ebebeb" stroke-width="0.8" />
<line x1="464.57" y1="421.30" x2="464.57" y2="561.40" stroke="#ebebeb" stroke-width="0.8" />
<line x1="486.77" y1="421.30" x2="486.77" y2="561.40" stroke="#ebebeb" stroke-width="0.8" />
<line x1="508.96" y1="421.30" x2="508.96" y2="561.40" stroke="#ebebeb" stroke-width="0.8" />
<line x1="531.15" y1="421.30" x2="531.15" y2="561.40" stroke="#ebebeb" stroke-width="0.8" />
<line x1="553.34" y1="421.30" x2="553.34" y2="561.40" stroke="#ebebeb" stroke-width="0.8" />
<line x1="575.53" y1="421.30" x2="575.53" y2="561.40" stroke="#ebebeb" stroke-width="0.8" />
<line x1="597.72" y1="421.30" x2="597.72" y2="561.40" stroke="#ebebeb" stroke-width="0.8" />
<line x1="619.92" y1="421.30" x2="619.92" y2="561.40" stroke="#ebebeb" stroke-width="0.8" />
<line x1="642.11" y1="421.30" x2="642.11" y2="561.40" stroke="#ebebeb" stroke-width="0.8" />
<line x1="398.00" y1="547.39" x2="664.30" y2="547.39" stroke="#ebebeb" stroke-width="0.8" />
<line x1="398.00" y1="533.38" x2="664.30" y2="533.38" stroke="#ebebeb" stroke-width="0.8" />
<line x1="398.00" y1="519.37" x2="664.30" y2="519.37" stroke="#ebebeb" stroke-width="0.8" />
<line x1="398.00" y1="505.36" x2="664.30" y2="505.36" stroke="#ebebeb" stroke-width="0.8" />
<line x1="398.00" y1="491.35" x2="664.30" y2="491.35" stroke="#ebebeb" stroke-width="0.8" />
<line x1="398.00" y1="477.34" x2="664.30" y2="477.34" stroke="#ebebeb" stroke-width="0.8" />
<line x1="398.00" y1="463.33" x2="664.30" y2="463.33" stroke="#ebebeb" stroke-width="0.8" />
<line x1="398.00" y1="449.32" x2="664.30" y2="449.32" stroke="#ebebeb" stroke-width="0.8" />
<line x1="398.00" y1="435.31" x2="664.30" y2="435.31" stroke="#ebebeb" stroke-width="0.8" />
<line x1="398.00" y1="421.30" x2="664.30" y2="421.30" stroke="#000" stroke-width="1.35" />
<line x1="398.00" y1="561.40" x2="664.30" y2="561.40" stroke="#000" stroke-width="1.3" />
<line x1="398.00" y1="421.30" x2="398.00" y2="561.40" stroke="#000" stroke-width="1.3" />
<line x1="664.30" y1="421.30" x2="664.30" y2="561.40" stroke="#000" stroke-width="1.3" />
<line x1="398.00" y1="421.30" x2="398.00" y2="564.40" stroke="#000" stroke-width="1.3" />
<line x1="398.00" y1="547.39" x2="395.80" y2="547.39" stroke="#000" stroke-width="1.1" />
<line x1="398.00" y1="519.37" x2="395.80" y2="519.37" stroke="#000" stroke-width="1.1" />
<line x1="398.00" y1="491.35" x2="395.80" y2="491.35" stroke="#000" stroke-width="1.1" />
<line x1="398.00" y1="463.33" x2="395.80" y2="463.33" stroke="#000" stroke-width="1.1" />
<line x1="398.00" y1="435.31" x2="395.80" y2="435.31" stroke="#000" stroke-width="1.1" />
<line x1="398.00" y1="561.40" x2="394.00" y2="561.40" stroke="#000" stroke-width="1.1" />
<text transform="translate(391.80,564.70) scale(1.06,1)" font-size="10.3" text-anchor="end" fill="#000" font-weight="bold" >0</text>
<line x1="398.00" y1="533.38" x2="394.00" y2="533.38" stroke="#000" stroke-width="1.1" />
<text transform="translate(391.80,536.68) scale(1.06,1)" font-size="10.3" text-anchor="end" fill="#000" font-weight="bold" >40</text>
<line x1="398.00" y1="505.36" x2="394.00" y2="505.36" stroke="#000" stroke-width="1.1" />
<text transform="translate(391.80,508.66) scale(1.06,1)" font-size="10.3" text-anchor="end" fill="#000" font-weight="bold" >80</text>
<line x1="398.00" y1="477.34" x2="394.00" y2="477.34" stroke="#000" stroke-width="1.1" />
<text transform="translate(391.80,480.64) scale(1.06,1)" font-size="10.3" text-anchor="end" fill="#000" font-weight="bold" >120</text>
<line x1="398.00" y1="449.32" x2="394.00" y2="449.32" stroke="#000" stroke-width="1.1" />
<text transform="translate(391.80,452.62) scale(1.06,1)" font-size="10.3" text-anchor="end" fill="#000" font-weight="bold" >160</text>
<line x1="398.00" y1="421.30" x2="394.00" y2="421.30" stroke="#000" stroke-width="1.1" />
<text transform="translate(391.80,424.60) scale(1.06,1)" font-size="10.3" text-anchor="end" fill="#000" font-weight="bold" >200</text>
<line x1="420.19" y1="561.40" x2="420.19" y2="563.60" stroke="#000" stroke-width="1.1" />
<line x1="464.57" y1="561.40" x2="464.57" y2="563.60" stroke="#000" stroke-width="1.1" />
<line x1="508.96" y1="561.40" x2="508.96" y2="563.60" stroke="#000" stroke-width="1.1" />
<line x1="553.34" y1="561.40" x2="553.34" y2="563.60" stroke="#000" stroke-width="1.1" />
<line x1="597.72" y1="561.40" x2="597.72" y2="563.60" stroke="#000" stroke-width="1.1" />
<line x1="642.11" y1="561.40" x2="642.11" y2="563.60" stroke="#000" stroke-width="1.1" />
<line x1="398.00" y1="561.40" x2="398.00" y2="565.40" stroke="#000" stroke-width="1.1" />
<text transform="translate(398.00,579.80) scale(1.06,1)" font-size="10" text-anchor="middle" fill="#000" font-weight="bold" >0</text>
<line x1="442.38" y1="561.40" x2="442.38" y2="565.40" stroke="#000" stroke-width="1.1" />
<text transform="translate(442.38,579.80) scale(1.06,1)" font-size="10" text-anchor="middle" fill="#000" font-weight="bold" >5</text>
<line x1="486.77" y1="561.40" x2="486.77" y2="565.40" stroke="#000" stroke-width="1.1" />
<text transform="translate(486.77,579.80) scale(1.06,1)" font-size="10" text-anchor="middle" fill="#000" font-weight="bold" >10</text>
<line x1="531.15" y1="561.40" x2="531.15" y2="565.40" stroke="#000" stroke-width="1.1" />
<text transform="translate(531.15,579.80) scale(1.06,1)" font-size="10" text-anchor="middle" fill="#000" font-weight="bold" >15</text>
<line x1="575.53" y1="561.40" x2="575.53" y2="565.40" stroke="#000" stroke-width="1.1" />
<text transform="translate(575.53,579.80) scale(1.06,1)" font-size="10" text-anchor="middle" fill="#000" font-weight="bold" >20</text>
<line x1="619.92" y1="561.40" x2="619.92" y2="565.40" stroke="#000" stroke-width="1.1" />
<text transform="translate(619.92,579.80) scale(1.06,1)" font-size="10" text-anchor="middle" fill="#000" font-weight="bold" >25</text>
<line x1="664.30" y1="561.40" x2="664.30" y2="565.40" stroke="#000" stroke-width="1.1" />
<text transform="translate(664.30,579.80) scale(1.06,1)" font-size="10" text-anchor="middle" fill="#000" font-weight="bold" >30</text>
<text transform="translate(531.60,590.90) scale(1.06,1)" font-size="11.3" text-anchor="middle" fill="#000" font-weight="bold" >Time (d)</text>
<text transform="translate(365.20,491.00) scale(1.06,1) rotate(-90)" font-size="12.1" text-anchor="middle" fill="#000" font-weight="bold">O<tspan font-size="8" dy="3">2</tspan><tspan dy="-3"> removal time (min)</tspan></text>
<path d="M398.00,452.82 C399.48,452.12 403.92,448.97 406.88,448.62 C409.84,448.27 412.79,450.37 415.75,450.72 C418.71,451.07 421.67,450.49 424.63,450.72 C427.59,450.95 430.55,451.54 433.51,452.12 C436.47,452.71 439.42,454.46 442.38,454.22 C445.34,453.99 448.30,451.54 451.26,450.72 C454.22,449.90 457.18,450.02 460.14,449.32 C463.10,448.62 466.05,446.52 469.01,446.52 C471.97,446.52 474.93,448.62 477.89,449.32 C480.85,450.02 483.81,450.60 486.77,450.72 C489.73,450.84 492.68,450.25 495.64,450.02 C498.60,449.79 501.56,448.97 504.52,449.32 C507.48,449.67 510.44,451.77 513.40,452.12 C516.36,452.47 519.31,451.65 522.27,451.42 C525.23,451.19 528.19,450.72 531.15,450.72 C534.11,450.72 537.07,451.30 540.03,451.42 C542.99,451.54 545.94,451.54 548.90,451.42 C551.86,451.30 554.82,450.72 557.78,450.72 C560.74,450.72 563.70,451.54 566.66,451.42 C569.62,451.30 572.57,450.02 575.53,450.02 C578.49,450.02 581.45,451.19 584.41,451.42 C587.37,451.65 590.33,451.30 593.29,451.42 C596.25,451.54 599.20,452.71 602.16,452.12 C605.12,451.54 608.08,448.39 611.04,447.92 C614.00,447.45 616.96,449.09 619.92,449.32 C622.88,449.55 625.83,449.55 628.79,449.32 C631.75,449.09 634.71,448.04 637.67,447.92 C640.63,447.80 643.59,448.62 646.55,448.62 C649.51,448.62 652.46,447.92 655.42,447.92 C658.38,447.92 662.82,448.50 664.30,448.62" fill="none" stroke="#e80000" stroke-width="2.3"/>
<line x1="393.00" y1="452.82" x2="403.00" y2="452.82" stroke="#e80000" stroke-width="0.75" />
<line x1="394.46" y1="449.29" x2="401.54" y2="456.36" stroke="#e80000" stroke-width="0.75" />
<line x1="398.00" y1="447.82" x2="398.00" y2="457.82" stroke="#e80000" stroke-width="0.75" />
<line x1="401.54" y1="449.29" x2="394.46" y2="456.36" stroke="#e80000" stroke-width="0.75" />
<line x1="401.88" y1="448.62" x2="411.88" y2="448.62" stroke="#e80000" stroke-width="0.75" />
<line x1="403.34" y1="445.08" x2="410.41" y2="452.16" stroke="#e80000" stroke-width="0.75" />
<line x1="406.88" y1="443.62" x2="406.88" y2="453.62" stroke="#e80000" stroke-width="0.75" />
<line x1="410.41" y1="445.08" x2="403.34" y2="452.16" stroke="#e80000" stroke-width="0.75" />
<line x1="410.75" y1="450.72" x2="420.75" y2="450.72" stroke="#e80000" stroke-width="0.75" />
<line x1="412.22" y1="447.19" x2="419.29" y2="454.26" stroke="#e80000" stroke-width="0.75" />
<line x1="415.75" y1="445.72" x2="415.75" y2="455.72" stroke="#e80000" stroke-width="0.75" />
<line x1="419.29" y1="447.19" x2="412.22" y2="454.26" stroke="#e80000" stroke-width="0.75" />
<line x1="419.63" y1="450.72" x2="429.63" y2="450.72" stroke="#e80000" stroke-width="0.75" />
<line x1="421.09" y1="447.19" x2="428.17" y2="454.26" stroke="#e80000" stroke-width="0.75" />
<line x1="424.63" y1="445.72" x2="424.63" y2="455.72" stroke="#e80000" stroke-width="0.75" />
<line x1="428.17" y1="447.19" x2="421.09" y2="454.26" stroke="#e80000" stroke-width="0.75" />
<line x1="428.51" y1="452.12" x2="438.51" y2="452.12" stroke="#e80000" stroke-width="0.75" />
<line x1="429.97" y1="448.59" x2="437.04" y2="455.66" stroke="#e80000" stroke-width="0.75" />
<line x1="433.51" y1="447.12" x2="433.51" y2="457.12" stroke="#e80000" stroke-width="0.75" />
<line x1="437.04" y1="448.59" x2="429.97" y2="455.66" stroke="#e80000" stroke-width="0.75" />
<line x1="437.38" y1="454.22" x2="447.38" y2="454.22" stroke="#e80000" stroke-width="0.75" />
<line x1="438.85" y1="450.69" x2="445.92" y2="457.76" stroke="#e80000" stroke-width="0.75" />
<line x1="442.38" y1="449.22" x2="442.38" y2="459.22" stroke="#e80000" stroke-width="0.75" />
<line x1="445.92" y1="450.69" x2="438.85" y2="457.76" stroke="#e80000" stroke-width="0.75" />
<line x1="446.26" y1="450.72" x2="456.26" y2="450.72" stroke="#e80000" stroke-width="0.75" />
<line x1="447.72" y1="447.19" x2="454.80" y2="454.26" stroke="#e80000" stroke-width="0.75" />
<line x1="451.26" y1="445.72" x2="451.26" y2="455.72" stroke="#e80000" stroke-width="0.75" />
<line x1="454.80" y1="447.19" x2="447.72" y2="454.26" stroke="#e80000" stroke-width="0.75" />
<line x1="455.14" y1="449.32" x2="465.14" y2="449.32" stroke="#e80000" stroke-width="0.75" />
<line x1="456.60" y1="445.78" x2="463.67" y2="452.86" stroke="#e80000" stroke-width="0.75" />
<line x1="460.14" y1="444.32" x2="460.14" y2="454.32" stroke="#e80000" stroke-width="0.75" />
<line x1="463.67" y1="445.78" x2="456.60" y2="452.86" stroke="#e80000" stroke-width="0.75" />
<line x1="464.01" y1="446.52" x2="474.01" y2="446.52" stroke="#e80000" stroke-width="0.75" />
<line x1="465.48" y1="442.98" x2="472.55" y2="450.05" stroke="#e80000" stroke-width="0.75" />
<line x1="469.01" y1="441.52" x2="469.01" y2="451.52" stroke="#e80000" stroke-width="0.75" />
<line x1="472.55" y1="442.98" x2="465.48" y2="450.05" stroke="#e80000" stroke-width="0.75" />
<line x1="472.89" y1="449.32" x2="482.89" y2="449.32" stroke="#e80000" stroke-width="0.75" />
<line x1="474.35" y1="445.78" x2="481.43" y2="452.86" stroke="#e80000" stroke-width="0.75" />
<line x1="477.89" y1="444.32" x2="477.89" y2="454.32" stroke="#e80000" stroke-width="0.75" />
<line x1="481.43" y1="445.78" x2="474.35" y2="452.86" stroke="#e80000" stroke-width="0.75" />
<line x1="481.77" y1="450.72" x2="491.77" y2="450.72" stroke="#e80000" stroke-width="0.75" />
<line x1="483.23" y1="447.19" x2="490.30" y2="454.26" stroke="#e80000" stroke-width="0.75" />
<line x1="486.77" y1="445.72" x2="486.77" y2="455.72" stroke="#e80000" stroke-width="0.75" />
<line x1="490.30" y1="447.19" x2="483.23" y2="454.26" stroke="#e80000" stroke-width="0.75" />
<line x1="490.64" y1="450.02" x2="500.64" y2="450.02" stroke="#e80000" stroke-width="0.75" />
<line x1="492.11" y1="446.48" x2="499.18" y2="453.56" stroke="#e80000" stroke-width="0.75" />
<line x1="495.64" y1="445.02" x2="495.64" y2="455.02" stroke="#e80000" stroke-width="0.75" />
<line x1="499.18" y1="446.48" x2="492.11" y2="453.56" stroke="#e80000" stroke-width="0.75" />
<line x1="499.52" y1="449.32" x2="509.52" y2="449.32" stroke="#e80000" stroke-width="0.75" />
<line x1="500.98" y1="445.78" x2="508.06" y2="452.86" stroke="#e80000" stroke-width="0.75" />
<line x1="504.52" y1="444.32" x2="504.52" y2="454.32" stroke="#e80000" stroke-width="0.75" />
<line x1="508.06" y1="445.78" x2="500.98" y2="452.86" stroke="#e80000" stroke-width="0.75" />
<line x1="508.40" y1="452.12" x2="518.40" y2="452.12" stroke="#e80000" stroke-width="0.75" />
<line x1="509.86" y1="448.59" x2="516.93" y2="455.66" stroke="#e80000" stroke-width="0.75" />
<line x1="513.40" y1="447.12" x2="513.40" y2="457.12" stroke="#e80000" stroke-width="0.75" />
<line x1="516.93" y1="448.59" x2="509.86" y2="455.66" stroke="#e80000" stroke-width="0.75" />
<line x1="517.27" y1="451.42" x2="527.27" y2="451.42" stroke="#e80000" stroke-width="0.75" />
<line x1="518.74" y1="447.89" x2="525.81" y2="454.96" stroke="#e80000" stroke-width="0.75" />
<line x1="522.27" y1="446.42" x2="522.27" y2="456.42" stroke="#e80000" stroke-width="0.75" />
<line x1="525.81" y1="447.89" x2="518.74" y2="454.96" stroke="#e80000" stroke-width="0.75" />
<line x1="526.15" y1="450.72" x2="536.15" y2="450.72" stroke="#e80000" stroke-width="0.75" />
<line x1="527.61" y1="447.19" x2="534.69" y2="454.26" stroke="#e80000" stroke-width="0.75" />
<line x1="531.15" y1="445.72" x2="531.15" y2="455.72" stroke="#e80000" stroke-width="0.75" />
<line x1="534.69" y1="447.19" x2="527.61" y2="454.26" stroke="#e80000" stroke-width="0.75" />
<line x1="535.03" y1="451.42" x2="545.03" y2="451.42" stroke="#e80000" stroke-width="0.75" />
<line x1="536.49" y1="447.89" x2="543.56" y2="454.96" stroke="#e80000" stroke-width="0.75" />
<line x1="540.03" y1="446.42" x2="540.03" y2="456.42" stroke="#e80000" stroke-width="0.75" />
<line x1="543.56" y1="447.89" x2="536.49" y2="454.96" stroke="#e80000" stroke-width="0.75" />
<line x1="543.90" y1="451.42" x2="553.90" y2="451.42" stroke="#e80000" stroke-width="0.75" />
<line x1="545.37" y1="447.89" x2="552.44" y2="454.96" stroke="#e80000" stroke-width="0.75" />
<line x1="548.90" y1="446.42" x2="548.90" y2="456.42" stroke="#e80000" stroke-width="0.75" />
<line x1="552.44" y1="447.89" x2="545.37" y2="454.96" stroke="#e80000" stroke-width="0.75" />
<line x1="552.78" y1="450.72" x2="562.78" y2="450.72" stroke="#e80000" stroke-width="0.75" />
<line x1="554.24" y1="447.19" x2="561.32" y2="454.26" stroke="#e80000" stroke-width="0.75" />
<line x1="557.78" y1="445.72" x2="557.78" y2="455.72" stroke="#e80000" stroke-width="0.75" />
<line x1="561.32" y1="447.19" x2="554.24" y2="454.26" stroke="#e80000" stroke-width="0.75" />
<line x1="561.66" y1="451.42" x2="571.66" y2="451.42" stroke="#e80000" stroke-width="0.75" />
<line x1="563.12" y1="447.89" x2="570.19" y2="454.96" stroke="#e80000" stroke-width="0.75" />
<line x1="566.66" y1="446.42" x2="566.66" y2="456.42" stroke="#e80000" stroke-width="0.75" />
<line x1="570.19" y1="447.89" x2="563.12" y2="454.96" stroke="#e80000" stroke-width="0.75" />
<line x1="570.53" y1="450.02" x2="580.53" y2="450.02" stroke="#e80000" stroke-width="0.75" />
<line x1="572.00" y1="446.48" x2="579.07" y2="453.56" stroke="#e80000" stroke-width="0.75" />
<line x1="575.53" y1="445.02" x2="575.53" y2="455.02" stroke="#e80000" stroke-width="0.75" />
<line x1="579.07" y1="446.48" x2="572.00" y2="453.56" stroke="#e80000" stroke-width="0.75" />
<line x1="579.41" y1="451.42" x2="589.41" y2="451.42" stroke="#e80000" stroke-width="0.75" />
<line x1="580.87" y1="447.89" x2="587.95" y2="454.96" stroke="#e80000" stroke-width="0.75" />
<line x1="584.41" y1="446.42" x2="584.41" y2="456.42" stroke="#e80000" stroke-width="0.75" />
<line x1="587.95" y1="447.89" x2="580.87" y2="454.96" stroke="#e80000" stroke-width="0.75" />
<line x1="588.29" y1="451.42" x2="598.29" y2="451.42" stroke="#e80000" stroke-width="0.75" />
<line x1="589.75" y1="447.89" x2="596.82" y2="454.96" stroke="#e80000" stroke-width="0.75" />
<line x1="593.29" y1="446.42" x2="593.29" y2="456.42" stroke="#e80000" stroke-width="0.75" />
<line x1="596.82" y1="447.89" x2="589.75" y2="454.96" stroke="#e80000" stroke-width="0.75" />
<line x1="597.16" y1="452.12" x2="607.16" y2="452.12" stroke="#e80000" stroke-width="0.75" />
<line x1="598.63" y1="448.59" x2="605.70" y2="455.66" stroke="#e80000" stroke-width="0.75" />
<line x1="602.16" y1="447.12" x2="602.16" y2="457.12" stroke="#e80000" stroke-width="0.75" />
<line x1="605.70" y1="448.59" x2="598.63" y2="455.66" stroke="#e80000" stroke-width="0.75" />
<line x1="606.04" y1="447.92" x2="616.04" y2="447.92" stroke="#e80000" stroke-width="0.75" />
<line x1="607.50" y1="444.38" x2="614.58" y2="451.45" stroke="#e80000" stroke-width="0.75" />
<line x1="611.04" y1="442.92" x2="611.04" y2="452.92" stroke="#e80000" stroke-width="0.75" />
<line x1="614.58" y1="444.38" x2="607.50" y2="451.45" stroke="#e80000" stroke-width="0.75" />
<line x1="614.92" y1="449.32" x2="624.92" y2="449.32" stroke="#e80000" stroke-width="0.75" />
<line x1="616.38" y1="445.78" x2="623.45" y2="452.86" stroke="#e80000" stroke-width="0.75" />
<line x1="619.92" y1="444.32" x2="619.92" y2="454.32" stroke="#e80000" stroke-width="0.75" />
<line x1="623.45" y1="445.78" x2="616.38" y2="452.86" stroke="#e80000" stroke-width="0.75" />
<line x1="623.79" y1="449.32" x2="633.79" y2="449.32" stroke="#e80000" stroke-width="0.75" />
<line x1="625.26" y1="445.78" x2="632.33" y2="452.86" stroke="#e80000" stroke-width="0.75" />
<line x1="628.79" y1="444.32" x2="628.79" y2="454.32" stroke="#e80000" stroke-width="0.75" />
<line x1="632.33" y1="445.78" x2="625.26" y2="452.86" stroke="#e80000" stroke-width="0.75" />
<line x1="632.67" y1="447.92" x2="642.67" y2="447.92" stroke="#e80000" stroke-width="0.75" />
<line x1="634.13" y1="444.38" x2="641.21" y2="451.45" stroke="#e80000" stroke-width="0.75" />
<line x1="637.67" y1="442.92" x2="637.67" y2="452.92" stroke="#e80000" stroke-width="0.75" />
<line x1="641.21" y1="444.38" x2="634.13" y2="451.45" stroke="#e80000" stroke-width="0.75" />
<line x1="641.55" y1="448.62" x2="651.55" y2="448.62" stroke="#e80000" stroke-width="0.75" />
<line x1="643.01" y1="445.08" x2="650.08" y2="452.16" stroke="#e80000" stroke-width="0.75" />
<line x1="646.55" y1="443.62" x2="646.55" y2="453.62" stroke="#e80000" stroke-width="0.75" />
<line x1="650.08" y1="445.08" x2="643.01" y2="452.16" stroke="#e80000" stroke-width="0.75" />
<line x1="650.42" y1="447.92" x2="660.42" y2="447.92" stroke="#e80000" stroke-width="0.75" />
<line x1="651.89" y1="444.38" x2="658.96" y2="451.45" stroke="#e80000" stroke-width="0.75" />
<line x1="655.42" y1="442.92" x2="655.42" y2="452.92" stroke="#e80000" stroke-width="0.75" />
<line x1="658.96" y1="444.38" x2="651.89" y2="451.45" stroke="#e80000" stroke-width="0.75" />
<line x1="659.30" y1="448.62" x2="669.30" y2="448.62" stroke="#e80000" stroke-width="0.75" />
<line x1="660.76" y1="445.08" x2="667.84" y2="452.16" stroke="#e80000" stroke-width="0.75" />
<line x1="664.30" y1="443.62" x2="664.30" y2="453.62" stroke="#e80000" stroke-width="0.75" />
<line x1="667.84" y1="445.08" x2="660.76" y2="452.16" stroke="#e80000" stroke-width="0.75" />
<defs><linearGradient id="frg" x1="0" y1="0" x2="1" y2="0"><stop offset="0" stop-color="#4e4e56"/><stop offset="0.3" stop-color="#b4b4ba"/><stop offset="0.55" stop-color="#e2e2e6"/><stop offset="0.8" stop-color="#c4c4ca"/><stop offset="1" stop-color="#9a9aa0"/></linearGradient><linearGradient id="frv" x1="0" y1="0" x2="0" y2="1"><stop offset="0" stop-color="#fff" stop-opacity="0.1"/><stop offset="1" stop-color="#fff" stop-opacity="0.35"/></linearGradient></defs>
<rect x="439.8" y="466.4" width="23.5" height="37.6" fill="url(#frg)"/>
<rect x="439.8" y="466.4" width="23.5" height="37.6" fill="url(#frv)"/>
<line x1="439.8" y1="487.4" x2="463.3" y2="487.4" stroke="#7a7a82" stroke-width="0.7"/>
<line x1="452.0" y1="467.4" x2="452.0" y2="504.0" stroke="#8a8a92" stroke-width="0.6"/>
<rect x="487.6" y="466.4" width="23.5" height="37.6" fill="url(#frg)"/>
<rect x="487.6" y="466.4" width="23.5" height="37.6" fill="url(#frv)"/>
<line x1="487.6" y1="487.4" x2="511.1" y2="487.4" stroke="#7a7a82" stroke-width="0.7"/>
<line x1="499.8" y1="467.4" x2="499.8" y2="504.0" stroke="#8a8a92" stroke-width="0.6"/>
<rect x="500.5" y="468.4" width="9.9" height="18" fill="#2c3a30"/>
<rect x="501.7" y="472.4" width="3" height="5" fill="#b8a030"/>
<polygon points="511.1,466.4 517.1,468.4 517.1,486.4 511.1,487.4" fill="#a8d0d8"/>
<rect x="548.8" y="466.4" width="23.5" height="37.6" fill="url(#frg)"/>
<rect x="548.8" y="466.4" width="23.5" height="37.6" fill="url(#frv)"/>
<line x1="548.8" y1="487.4" x2="572.3" y2="487.4" stroke="#7a7a82" stroke-width="0.7"/>
<line x1="561.0" y1="467.4" x2="561.0" y2="504.0" stroke="#8a8a92" stroke-width="0.6"/>
<rect x="596.6" y="466.4" width="23.5" height="37.6" fill="url(#frg)"/>
<rect x="596.6" y="466.4" width="23.5" height="37.6" fill="url(#frv)"/>
<line x1="596.6" y1="487.4" x2="620.1" y2="487.4" stroke="#7a7a82" stroke-width="0.7"/>
<line x1="608.8" y1="467.4" x2="608.8" y2="504.0" stroke="#8a8a92" stroke-width="0.6"/>
<rect x="609.5" y="468.4" width="9.9" height="18" fill="#2c3a30"/>
<rect x="610.7" y="472.4" width="3" height="5" fill="#b8a030"/>
<polygon points="620.1,466.4 626.1,468.4 626.1,486.4 620.1,487.4" fill="#a8d0d8"/>
<circle cx="467.0" cy="478" r="2.4" fill="#1e1e3c"/>
<path d="M463.5,481 L470.5,481 L471.0,491 L463.0,491 Z" fill="#e2c6a4"/>
<path d="M463.5,483 L459.5,486 L460.0,487.5 L464.0,485.5 Z" fill="#e2c6a4"/>
<rect x="463.5" y="491" width="7.2" height="13.5" fill="#1c2456"/>
<line x1="467.1" y1="494" x2="467.1" y2="504.5" stroke="#fff" stroke-width="0.5"/>
<circle cx="518.0" cy="478" r="2.4" fill="#1e1e3c"/>
<path d="M514.5,481 L521.5,481 L522.0,491 L514.0,491 Z" fill="#e2c6a4"/>
<path d="M514.5,483 L510.5,486 L511.0,487.5 L515.0,485.5 Z" fill="#e2c6a4"/>
<rect x="514.5" y="491" width="7.2" height="13.5" fill="#1c2456"/>
<line x1="518.1" y1="494" x2="518.1" y2="504.5" stroke="#fff" stroke-width="0.5"/>
<circle cx="575.5" cy="478" r="2.4" fill="#1e1e3c"/>
<path d="M572,481 L579,481 L579.5,491 L571.5,491 Z" fill="#e2c6a4"/>
<path d="M572,483 L568,486 L568.5,487.5 L572.5,485.5 Z" fill="#e2c6a4"/>
<rect x="572" y="491" width="7.2" height="13.5" fill="#1c2456"/>
<line x1="575.6" y1="494" x2="575.6" y2="504.5" stroke="#fff" stroke-width="0.5"/>
<circle cx="627.2" cy="478" r="2.4" fill="#1e1e3c"/>
<path d="M623.7,481 L630.7,481 L631.2,491 L623.2,491 Z" fill="#e2c6a4"/>
<path d="M623.7,483 L619.7,486 L620.2,487.5 L624.2,485.5 Z" fill="#e2c6a4"/>
<rect x="623.7" y="491" width="7.2" height="13.5" fill="#1c2456"/>
<line x1="627.3000000000001" y1="494" x2="627.3000000000001" y2="504.5" stroke="#fff" stroke-width="0.5"/>
<line x1="471.5" y1="482.7" x2="484.4" y2="482.7" stroke="#e02828" stroke-width="1.6"/>
<polygon points="483.9,480.4 487.4,482.7 483.9,485.0" fill="#e02828"/>
<line x1="524.5" y1="482.7" x2="538.5" y2="482.7" stroke="#e02828" stroke-width="1.6"/>
<polygon points="538.0,480.4 541.5,482.7 538.0,485.0" fill="#e02828"/>
<line x1="579.5" y1="482.7" x2="593" y2="482.7" stroke="#e02828" stroke-width="1.6"/>
<polygon points="592.5,480.4 596,482.7 592.5,485.0" fill="#e02828"/>
<text transform="translate(531.70,530.20) scale(1.06,1)" font-size="8.7" text-anchor="middle" fill="#333" font-weight="bold" >High frequency opening and closing simulation test</text>
<text transform="translate(336.00,425.70) scale(1.0,1)" font-size="17" text-anchor="start" fill="#000" font-weight="bold" >f</text>
<defs><linearGradient id="gbar" x1="0" y1="0" x2="0" y2="1"><stop offset="0" stop-color="#3a3a3a"/><stop offset="1" stop-color="#6a6a6a"/></linearGradient><linearGradient id="grbar" x1="0" y1="0" x2="0" y2="1"><stop offset="0" stop-color="#22f022"/><stop offset="0.45" stop-color="#18c018"/><stop offset="1" stop-color="#045804"/></linearGradient></defs>
<rect x="471.89" y="686.57" width="6.7" height="64.13" fill="url(#gbar)"/>
<line x1="475.24" y1="685.77" x2="475.24" y2="687.37" stroke="#333" stroke-width="0.9" />
<line x1="473.44" y1="685.77" x2="477.04" y2="685.77" stroke="#333" stroke-width="0.9" />
<line x1="473.44" y1="687.37" x2="477.04" y2="687.37" stroke="#333" stroke-width="0.9" />
<rect x="498.12" y="685.97" width="6.7" height="64.73" fill="url(#gbar)"/>
<line x1="501.47" y1="685.17" x2="501.47" y2="686.77" stroke="#333" stroke-width="0.9" />
<line x1="499.67" y1="685.17" x2="503.27" y2="685.17" stroke="#333" stroke-width="0.9" />
<line x1="499.67" y1="686.77" x2="503.27" y2="686.77" stroke="#333" stroke-width="0.9" />
<rect x="524.34" y="699.74" width="6.7" height="50.96" fill="url(#gbar)"/>
<line x1="527.69" y1="698.94" x2="527.69" y2="700.54" stroke="#333" stroke-width="0.9" />
<line x1="525.89" y1="698.94" x2="529.49" y2="698.94" stroke="#333" stroke-width="0.9" />
<line x1="525.89" y1="700.54" x2="529.49" y2="700.54" stroke="#333" stroke-width="0.9" />
<rect x="478.59" y="685.82" width="6.7" height="64.88" fill="url(#grbar)"/>
<line x1="481.94" y1="684.22" x2="481.94" y2="687.42" stroke="#0a5a0a" stroke-width="0.9" />
<line x1="480.14" y1="684.22" x2="483.74" y2="684.22" stroke="#0a5a0a" stroke-width="0.9" />
<line x1="480.14" y1="687.42" x2="483.74" y2="687.42" stroke="#0a5a0a" stroke-width="0.9" />
<rect x="504.82" y="683.59" width="6.7" height="67.11" fill="url(#grbar)"/>
<line x1="508.17" y1="681.99" x2="508.17" y2="685.19" stroke="#0a5a0a" stroke-width="0.9" />
<line x1="506.37" y1="681.99" x2="509.97" y2="681.99" stroke="#0a5a0a" stroke-width="0.9" />
<line x1="506.37" y1="685.19" x2="509.97" y2="685.19" stroke="#0a5a0a" stroke-width="0.9" />
<rect x="531.04" y="691.92" width="6.7" height="58.78" fill="url(#grbar)"/>
<line x1="534.39" y1="690.32" x2="534.39" y2="693.52" stroke="#0a5a0a" stroke-width="0.9" />
<line x1="532.59" y1="690.32" x2="536.19" y2="690.32" stroke="#0a5a0a" stroke-width="0.9" />
<line x1="532.59" y1="693.52" x2="536.19" y2="693.52" stroke="#0a5a0a" stroke-width="0.9" />
<rect x="557.27" y="696.61" width="6.7" height="54.09" fill="url(#grbar)"/>
<line x1="560.62" y1="695.01" x2="560.62" y2="698.21" stroke="#0a5a0a" stroke-width="0.9" />
<line x1="558.82" y1="695.01" x2="562.42" y2="695.01" stroke="#0a5a0a" stroke-width="0.9" />
<line x1="558.82" y1="698.21" x2="562.42" y2="698.21" stroke="#0a5a0a" stroke-width="0.9" />
<rect x="583.50" y="700.48" width="6.7" height="50.22" fill="url(#grbar)"/>
<line x1="586.85" y1="698.88" x2="586.85" y2="702.08" stroke="#0a5a0a" stroke-width="0.9" />
<line x1="585.05" y1="698.88" x2="588.65" y2="698.88" stroke="#0a5a0a" stroke-width="0.9" />
<line x1="585.05" y1="702.08" x2="588.65" y2="702.08" stroke="#0a5a0a" stroke-width="0.9" />
<rect x="609.73" y="707.40" width="6.7" height="43.30" fill="url(#grbar)"/>
<line x1="613.08" y1="705.80" x2="613.08" y2="709.00" stroke="#0a5a0a" stroke-width="0.9" />
<line x1="611.28" y1="705.80" x2="614.88" y2="705.80" stroke="#0a5a0a" stroke-width="0.9" />
<line x1="611.28" y1="709.00" x2="614.88" y2="709.00" stroke="#0a5a0a" stroke-width="0.9" />
<rect x="635.96" y="713.28" width="6.7" height="37.42" fill="url(#grbar)"/>
<line x1="639.31" y1="711.68" x2="639.31" y2="714.88" stroke="#0a5a0a" stroke-width="0.9" />
<line x1="637.51" y1="711.68" x2="641.11" y2="711.68" stroke="#0a5a0a" stroke-width="0.9" />
<line x1="637.51" y1="714.88" x2="641.11" y2="714.88" stroke="#0a5a0a" stroke-width="0.9" />
<line x1="459.50" y1="601.90" x2="643.10" y2="601.90" stroke="#000" stroke-width="1.35" />
<line x1="459.50" y1="750.70" x2="643.10" y2="750.70" stroke="#000" stroke-width="1.3" />
<line x1="459.50" y1="601.90" x2="459.50" y2="753.20" stroke="#000" stroke-width="1.3" />
<line x1="643.10" y1="601.90" x2="643.10" y2="753.20" stroke="#000" stroke-width="1.3" />
<line x1="459.50" y1="732.10" x2="457.30" y2="732.10" stroke="#000" stroke-width="1.1" />
<line x1="459.50" y1="694.90" x2="457.30" y2="694.90" stroke="#000" stroke-width="1.1" />
<line x1="459.50" y1="657.70" x2="457.30" y2="657.70" stroke="#000" stroke-width="1.1" />
<line x1="459.50" y1="620.50" x2="457.30" y2="620.50" stroke="#000" stroke-width="1.1" />
<line x1="459.50" y1="750.70" x2="455.50" y2="750.70" stroke="#000" stroke-width="1.1" />
<text transform="translate(451.90,754.20) scale(1.06,1)" font-size="9.8" text-anchor="end" fill="#000" font-weight="bold" >0</text>
<line x1="459.50" y1="713.50" x2="455.50" y2="713.50" stroke="#000" stroke-width="1.1" />
<text transform="translate(451.90,717.00) scale(1.06,1)" font-size="9.8" text-anchor="end" fill="#000" font-weight="bold" >5</text>
<line x1="459.50" y1="676.30" x2="455.50" y2="676.30" stroke="#000" stroke-width="1.1" />
<text transform="translate(451.90,679.80) scale(1.06,1)" font-size="9.8" text-anchor="end" fill="#000" font-weight="bold" >10</text>
<line x1="459.50" y1="639.10" x2="455.50" y2="639.10" stroke="#000" stroke-width="1.1" />
<text transform="translate(451.90,642.60) scale(1.06,1)" font-size="9.8" text-anchor="end" fill="#000" font-weight="bold" >15</text>
<line x1="459.50" y1="601.90" x2="455.50" y2="601.90" stroke="#000" stroke-width="1.1" />
<text transform="translate(451.90,605.40) scale(1.06,1)" font-size="9.8" text-anchor="end" fill="#000" font-weight="bold" >20</text>
<line x1="643.10" y1="732.10" x2="645.30" y2="732.10" stroke="#000" stroke-width="1.1" />
<line x1="643.10" y1="694.90" x2="645.30" y2="694.90" stroke="#000" stroke-width="1.1" />
<line x1="643.10" y1="657.70" x2="645.30" y2="657.70" stroke="#000" stroke-width="1.1" />
<line x1="643.10" y1="620.50" x2="645.30" y2="620.50" stroke="#000" stroke-width="1.1" />
<line x1="643.10" y1="750.70" x2="647.10" y2="750.70" stroke="#000" stroke-width="1.1" />
<text transform="translate(650.30,754.20) scale(1.06,1)" font-size="9.6" text-anchor="start" fill="#000" font-weight="bold" >-80</text>
<line x1="643.10" y1="713.50" x2="647.10" y2="713.50" stroke="#000" stroke-width="1.1" />
<text transform="translate(650.30,717.00) scale(1.06,1)" font-size="9.6" text-anchor="start" fill="#000" font-weight="bold" >-40</text>
<line x1="643.10" y1="676.30" x2="647.10" y2="676.30" stroke="#000" stroke-width="1.1" />
<text transform="translate(650.30,679.80) scale(1.06,1)" font-size="9.6" text-anchor="start" fill="#000" font-weight="bold" >0</text>
<line x1="643.10" y1="639.10" x2="647.10" y2="639.10" stroke="#000" stroke-width="1.1" />
<text transform="translate(650.30,642.60) scale(1.06,1)" font-size="9.6" text-anchor="start" fill="#000" font-weight="bold" >40</text>
<line x1="643.10" y1="601.90" x2="647.10" y2="601.90" stroke="#000" stroke-width="1.1" />
<text transform="translate(650.30,605.40) scale(1.06,1)" font-size="9.6" text-anchor="start" fill="#000" font-weight="bold" >80</text>
<line x1="462.12" y1="750.70" x2="462.12" y2="752.90" stroke="#000" stroke-width="1.1" />
<line x1="488.35" y1="750.70" x2="488.35" y2="752.90" stroke="#000" stroke-width="1.1" />
<line x1="514.58" y1="750.70" x2="514.58" y2="752.90" stroke="#000" stroke-width="1.1" />
<line x1="540.81" y1="750.70" x2="540.81" y2="752.90" stroke="#000" stroke-width="1.1" />
<line x1="567.04" y1="750.70" x2="567.04" y2="752.90" stroke="#000" stroke-width="1.1" />
<line x1="593.27" y1="750.70" x2="593.27" y2="752.90" stroke="#000" stroke-width="1.1" />
<line x1="619.49" y1="750.70" x2="619.49" y2="752.90" stroke="#000" stroke-width="1.1" />
<line x1="475.24" y1="750.70" x2="475.24" y2="754.70" stroke="#000" stroke-width="1.1" />
<text transform="translate(475.24,765.70) scale(1.06,1)" font-size="9.6" text-anchor="middle" fill="#000" font-weight="bold" >0</text>
<line x1="501.47" y1="750.70" x2="501.47" y2="754.70" stroke="#000" stroke-width="1.1" />
<text transform="translate(501.47,765.70) scale(1.06,1)" font-size="9.6" text-anchor="middle" fill="#000" font-weight="bold" >5</text>
<line x1="527.69" y1="750.70" x2="527.69" y2="754.70" stroke="#000" stroke-width="1.1" />
<text transform="translate(527.69,765.70) scale(1.06,1)" font-size="9.6" text-anchor="middle" fill="#000" font-weight="bold" >10</text>
<line x1="553.92" y1="750.70" x2="553.92" y2="754.70" stroke="#000" stroke-width="1.1" />
<text transform="translate(553.92,765.70) scale(1.06,1)" font-size="9.6" text-anchor="middle" fill="#000" font-weight="bold" >15</text>
<line x1="580.15" y1="750.70" x2="580.15" y2="754.70" stroke="#000" stroke-width="1.1" />
<text transform="translate(580.15,765.70) scale(1.06,1)" font-size="9.6" text-anchor="middle" fill="#000" font-weight="bold" >20</text>
<line x1="606.38" y1="750.70" x2="606.38" y2="754.70" stroke="#000" stroke-width="1.1" />
<text transform="translate(606.38,765.70) scale(1.06,1)" font-size="9.6" text-anchor="middle" fill="#000" font-weight="bold" >25</text>
<line x1="632.61" y1="750.70" x2="632.61" y2="754.70" stroke="#000" stroke-width="1.1" />
<text transform="translate(632.61,765.70) scale(1.06,1)" font-size="9.6" text-anchor="middle" fill="#000" font-weight="bold" >30</text>
<text transform="translate(548.80,779.50) scale(1.06,1)" font-size="12" text-anchor="middle" fill="#000" font-weight="bold" >Time (d)</text>
<text transform="translate(434.60,676.00) scale(1.06,1) rotate(-90)" font-size="12.9" text-anchor="middle" fill="#000" font-weight="bold">Vitamin C content (mg/100g)</text>
<text transform="translate(678.20,676.40) scale(1.06,1) rotate(-90)" font-size="12.95" text-anchor="middle" fill="#000" font-weight="bold">Vitamin C loss ratio (%)</text>
<polyline points="475.24,676.30 501.47,666.91 527.69,646.54" fill="none" stroke="#444" stroke-width="1.5" stroke-linejoin="round" />
<line x1="501.47" y1="664.12" x2="501.47" y2="669.70" stroke="#444" stroke-width="0.9" />
<line x1="499.47" y1="664.12" x2="503.47" y2="664.12" stroke="#444" stroke-width="0.9" />
<line x1="499.47" y1="669.70" x2="503.47" y2="669.70" stroke="#444" stroke-width="0.9" />
<line x1="527.69" y1="643.75" x2="527.69" y2="649.33" stroke="#444" stroke-width="0.9" />
<line x1="525.69" y1="643.75" x2="529.69" y2="643.75" stroke="#444" stroke-width="0.9" />
<line x1="525.69" y1="649.33" x2="529.69" y2="649.33" stroke="#444" stroke-width="0.9" />
<polyline points="475.24,676.30 501.47,677.79 527.69,667.37 553.92,660.12 580.15,654.91 606.38,645.80 632.61,637.80" fill="none" stroke="#13701a" stroke-width="1.7" stroke-linejoin="round" />
<line x1="501.47" y1="675.46" x2="501.47" y2="680.11" stroke="#13701a" stroke-width="0.9" />
<line x1="499.47" y1="675.46" x2="503.47" y2="675.46" stroke="#13701a" stroke-width="0.9" />
<line x1="499.47" y1="680.11" x2="503.47" y2="680.11" stroke="#13701a" stroke-width="0.9" />
<line x1="527.69" y1="664.58" x2="527.69" y2="670.16" stroke="#13701a" stroke-width="0.9" />
<line x1="525.69" y1="664.58" x2="529.69" y2="664.58" stroke="#13701a" stroke-width="0.9" />
<line x1="525.69" y1="670.16" x2="529.69" y2="670.16" stroke="#13701a" stroke-width="0.9" />
<line x1="553.92" y1="656.86" x2="553.92" y2="663.37" stroke="#13701a" stroke-width="0.9" />
<line x1="551.92" y1="656.86" x2="555.92" y2="656.86" stroke="#13701a" stroke-width="0.9" />
<line x1="551.92" y1="663.37" x2="555.92" y2="663.37" stroke="#13701a" stroke-width="0.9" />
<line x1="580.15" y1="649.79" x2="580.15" y2="660.02" stroke="#13701a" stroke-width="0.9" />
<line x1="578.15" y1="649.79" x2="582.15" y2="649.79" stroke="#13701a" stroke-width="0.9" />
<line x1="578.15" y1="660.02" x2="582.15" y2="660.02" stroke="#13701a" stroke-width="0.9" />
<line x1="606.38" y1="641.15" x2="606.38" y2="650.45" stroke="#13701a" stroke-width="0.9" />
<line x1="604.38" y1="641.15" x2="608.38" y2="641.15" stroke="#13701a" stroke-width="0.9" />
<line x1="604.38" y1="650.45" x2="608.38" y2="650.45" stroke="#13701a" stroke-width="0.9" />
<line x1="632.61" y1="633.61" x2="632.61" y2="641.98" stroke="#13701a" stroke-width="0.9" />
<line x1="630.61" y1="633.61" x2="634.61" y2="633.61" stroke="#13701a" stroke-width="0.9" />
<line x1="630.61" y1="641.98" x2="634.61" y2="641.98" stroke="#13701a" stroke-width="0.9" />
<text transform="translate(532.90,644.00) scale(1.06,1)" font-size="9" text-anchor="start" fill="#555" font-weight="bold" >P<tspan font-size="6.5" dy="2">1</tspan></text>
<text transform="translate(630.60,651.60) scale(1.06,1)" font-size="9" text-anchor="start" fill="#13701a" font-weight="bold" >P<tspan font-size="6.5" dy="2">2</tspan></text>
<text transform="translate(404.00,610.10) scale(1.0,1)" font-size="17" text-anchor="start" fill="#000" font-weight="bold" >h</text>
<text transform="translate(9.60,609.80) scale(1.0,1)" font-size="19" text-anchor="start" fill="#000" font-weight="bold" >g</text>
<text transform="translate(120.60,623.00) scale(1.06,1)" font-size="9" text-anchor="middle" fill="#111" font-weight="bold" >0d</text>
<text transform="translate(175.20,623.00) scale(1.06,1)" font-size="9" text-anchor="middle" fill="#111" font-weight="bold" >5d</text>
<text transform="translate(231.40,623.00) scale(1.06,1)" font-size="9" text-anchor="middle" fill="#111" font-weight="bold" >10d</text>
<text transform="translate(281.00,623.00) scale(1.06,1)" font-size="9" text-anchor="middle" fill="#111" font-weight="bold" >15d</text>
<text transform="translate(334.70,623.00) scale(1.06,1)" font-size="9" text-anchor="middle" fill="#111" font-weight="bold" >20d</text>
<text transform="translate(385.00,623.00) scale(1.06,1)" font-size="9" text-anchor="middle" fill="#111" font-weight="bold" >30d</text>
<text transform="translate(8.20,672.40) scale(1.06,1)" font-size="9.5" text-anchor="start" fill="#111" font-weight="bold" >P<tspan font-size="6.5" dy="2">1</tspan></text>
<rect x="24.5" y="652.8" width="62" height="30.5" fill="#fff" stroke="#9a9a9a" stroke-width="0.8"/>
<text transform="translate(55.50,666.50) scale(1.06,1)" font-size="9" text-anchor="middle" fill="#111" font-weight="bold" >5℃</text>
<text transform="translate(55.50,677.30) scale(1.06,1)" font-size="9" text-anchor="middle" fill="#111" font-weight="bold" >Refrigerator</text>
<text transform="translate(8.20,735.00) scale(1.06,1)" font-size="9.5" text-anchor="start" fill="#1a8a1a" font-weight="bold" >P<tspan font-size="6.5" dy="2">2</tspan></text>
<rect x="23.6" y="714" width="62" height="35.6" fill="#fff" stroke="#9ad49a" stroke-width="0.8"/>
<text transform="translate(54.60,725.00) scale(1.06,1)" font-size="9" text-anchor="middle" fill="#1f8a1f" font-weight="bold" >5℃</text>
<text transform="translate(54.60,735.70) scale(1.06,1)" font-size="9" text-anchor="middle" fill="#1f8a1f" font-weight="bold" >Low-O<tspan font-size="6.5" dy="2">2</tspan><tspan dy="-2"> in</tspan></text>
<text transform="translate(54.60,746.20) scale(1.06,1)" font-size="9" text-anchor="middle" fill="#1f8a1f" font-weight="bold" >Refrigerator</text>
<defs><linearGradient id="lg1" x1="0" y1="0" x2="0" y2="1"><stop offset="0" stop-color="#2f5e14"/><stop offset="0.5" stop-color="#5a8e26"/><stop offset="0.85" stop-color="#9cc050"/><stop offset="1" stop-color="#c8d890"/></linearGradient><linearGradient id="lg1h" x1="0" y1="0" x2="1" y2="0"><stop offset="0" stop-color="#000" stop-opacity="0.22"/><stop offset="0.5" stop-color="#fff" stop-opacity="0.08"/><stop offset="1" stop-color="#000" stop-opacity="0.25"/></linearGradient></defs>
<clipPath id="lg1c"><path d="M97.5,651.2 Q100.9,644.7 104.3,647.6 Q107.7,643.5 111.1,648.6 Q114.5,643.9 117.9,647.8 Q121.3,644.6 124.8,649.2 Q128.2,643.1 131.6,648.4 C133.6,664.5 121.3,680.1 116.6,684.0 L109.8,684.0 C105.0,680.1 95.5,664.5 97.5,651.2 Z"/></clipPath>
<path d="M97.5,651.2 Q100.9,644.7 104.3,647.6 Q107.7,643.5 111.1,648.6 Q114.5,643.9 117.9,647.8 Q121.3,644.6 124.8,649.2 Q128.2,643.1 131.6,648.4 C133.6,664.5 121.3,680.1 116.6,684.0 L109.8,684.0 C105.0,680.1 95.5,664.5 97.5,651.2 Z" fill="url(#lg1)"/>
<g clip-path="url(#lg1c)">
<ellipse cx="124.8" cy="652.6" rx="6.7" ry="7.0" fill="#9cc050" opacity="0.3" transform="rotate(-9 124.8 652.6)"/>
<ellipse cx="123.8" cy="655.4" rx="4.4" ry="8.8" fill="#2f5e14" opacity="0.3" transform="rotate(-19 123.8 655.4)"/>
<ellipse cx="115.8" cy="661.5" rx="5.4" ry="8.2" fill="#9cc050" opacity="0.3" transform="rotate(9 115.8 661.5)"/>
<ellipse cx="115.4" cy="658.4" rx="7.3" ry="10.0" fill="#000" opacity="0.15" transform="rotate(-11 115.4 658.4)"/>
<ellipse cx="105.9" cy="653.1" rx="5.1" ry="7.1" fill="#2f5e14" opacity="0.3" transform="rotate(-13 105.9 653.1)"/>
<ellipse cx="129.6" cy="660.1" rx="4.5" ry="8.8" fill="#9cc050" opacity="0.3" transform="rotate(0 129.6 660.1)"/>
</g>
<path d="M97.5,651.2 Q100.9,644.7 104.3,647.6 Q107.7,643.5 111.1,648.6 Q114.5,643.9 117.9,647.8 Q121.3,644.6 124.8,649.2 Q128.2,643.1 131.6,648.4 C133.6,664.5 121.3,680.1 116.6,684.0 L109.8,684.0 C105.0,680.1 95.5,664.5 97.5,651.2 Z" fill="url(#lg1h)"/>
<path d="M111.5,683.0 Q109.1,666.5 103.6,652.8" stroke="#9cc050" stroke-width="1.7" fill="none" opacity="0.35"/>
<path d="M113.2,683.0 Q113.2,666.5 113.2,652.8" stroke="#9cc050" stroke-width="1.7" fill="none" opacity="0.35"/>
<path d="M114.9,683.0 Q117.3,666.5 122.7,652.8" stroke="#9cc050" stroke-width="1.7" fill="none" opacity="0.35"/>
<defs><linearGradient id="lg2" x1="0" y1="0" x2="0" y2="1"><stop offset="0" stop-color="#2f5e14"/><stop offset="0.5" stop-color="#5a8e26"/><stop offset="0.85" stop-color="#9cc050"/><stop offset="1" stop-color="#c8d890"/></linearGradient><linearGradient id="lg2h" x1="0" y1="0" x2="1" y2="0"><stop offset="0" stop-color="#000" stop-opacity="0.22"/><stop offset="0.5" stop-color="#fff" stop-opacity="0.08"/><stop offset="1" stop-color="#000" stop-opacity="0.25"/></linearGradient></defs>
<clipPath id="lg2c"><path d="M125.6,651.1 Q128.2,644.3 130.9,648.6 Q133.5,643.4 136.1,648.2 Q138.8,643.8 141.4,646.2 Q144.1,644.6 146.7,648.0 Q149.4,644.2 152.0,650.1 C153.6,664.0 146.2,679.2 142.5,683.0 L137.2,683.0 C133.5,679.2 124.0,664.0 125.6,651.1 Z"/></clipPath>
<path d="M125.6,651.1 Q128.2,644.3 130.9,648.6 Q133.5,643.4 136.1,648.2 Q138.8,643.8 141.4,646.2 Q144.1,644.6 146.7,648.0 Q149.4,644.2 152.0,650.1 C153.6,664.0 146.2,679.2 142.5,683.0 L137.2,683.0 C133.5,679.2 124.0,664.0 125.6,651.1 Z" fill="url(#lg2)"/>
<g clip-path="url(#lg2c)">
<ellipse cx="140.2" cy="656.3" rx="3.6" ry="9.2" fill="#5a8e26" opacity="0.3" transform="rotate(-6 140.2 656.3)"/>
<ellipse cx="131.9" cy="654.9" rx="3.7" ry="9.6" fill="#000" opacity="0.15" transform="rotate(7 131.9 654.9)"/>
<ellipse cx="145.9" cy="646.5" rx="5.6" ry="11.2" fill="#5a8e26" opacity="0.3" transform="rotate(-16 145.9 646.5)"/>
<ellipse cx="150.4" cy="661.2" rx="3.5" ry="9.1" fill="#5a8e26" opacity="0.3" transform="rotate(2 150.4 661.2)"/>
<ellipse cx="147.9" cy="654.5" rx="5.8" ry="11.6" fill="#5a8e26" opacity="0.3" transform="rotate(0 147.9 654.5)"/>
<ellipse cx="128.9" cy="655.4" rx="4.9" ry="9.3" fill="#9cc050" opacity="0.3" transform="rotate(2 128.9 655.4)"/>
</g>
<path d="M125.6,651.1 Q128.2,644.3 130.9,648.6 Q133.5,643.4 136.1,648.2 Q138.8,643.8 141.4,646.2 Q144.1,644.6 146.7,648.0 Q149.4,644.2 152.0,650.1 C153.6,664.0 146.2,679.2 142.5,683.0 L137.2,683.0 C133.5,679.2 124.0,664.0 125.6,651.1 Z" fill="url(#lg2h)"/>
<path d="M138.5,682.0 Q136.7,665.9 132.4,652.6" stroke="#9cc050" stroke-width="1.3" fill="none" opacity="0.35"/>
<path d="M139.8,682.0 Q139.8,665.9 139.8,652.6" stroke="#9cc050" stroke-width="1.3" fill="none" opacity="0.35"/>
<path d="M141.2,682.0 Q143.0,665.9 147.2,652.6" stroke="#9cc050" stroke-width="1.3" fill="none" opacity="0.35"/>
<defs><linearGradient id="lg3" x1="0" y1="0" x2="0" y2="1"><stop offset="0" stop-color="#6a7a1c"/><stop offset="0.5" stop-color="#a6b834"/><stop offset="0.85" stop-color="#c4cc4a"/><stop offset="1" stop-color="#c8b860"/></linearGradient><linearGradient id="lg3h" x1="0" y1="0" x2="1" y2="0"><stop offset="0" stop-color="#000" stop-opacity="0.22"/><stop offset="0.5" stop-color="#fff" stop-opacity="0.08"/><stop offset="1" stop-color="#000" stop-opacity="0.25"/></linearGradient></defs>
<clipPath id="lg3c"><path d="M156.3,651.5 Q159.0,644.4 161.8,650.3 Q164.5,642.5 167.2,646.1 Q170.0,643.9 172.7,648.8 Q175.4,643.0 178.2,649.3 Q180.9,643.6 183.7,650.1 C185.3,666.2 175.4,683.6 171.6,688.0 L166.1,688.0 C162.3,683.6 154.7,666.2 156.3,651.5 Z"/></clipPath>
<path d="M156.3,651.5 Q159.0,644.4 161.8,650.3 Q164.5,642.5 167.2,646.1 Q170.0,643.9 172.7,648.8 Q175.4,643.0 178.2,649.3 Q180.9,643.6 183.7,650.1 C185.3,666.2 175.4,683.6 171.6,688.0 L166.1,688.0 C162.3,683.6 154.7,666.2 156.3,651.5 Z" fill="url(#lg3)"/>
<g clip-path="url(#lg3c)">
<ellipse cx="172.0" cy="647.6" rx="4.5" ry="10.2" fill="#000" opacity="0.15" transform="rotate(2 172.0 647.6)"/>
<ellipse cx="168.6" cy="649.8" rx="3.4" ry="8.0" fill="#c4cc4a" opacity="0.3" transform="rotate(17 168.6 649.8)"/>
<ellipse cx="180.0" cy="652.8" rx="5.7" ry="8.8" fill="#a6b834" opacity="0.3" transform="rotate(-11 180.0 652.8)"/>
<ellipse cx="158.3" cy="650.9" rx="3.7" ry="10.9" fill="#a6b834" opacity="0.3" transform="rotate(20 158.3 650.9)"/>
<ellipse cx="168.6" cy="652.6" rx="4.7" ry="13.4" fill="#000" opacity="0.15" transform="rotate(12 168.6 652.6)"/>
<ellipse cx="166.4" cy="663.7" rx="5.9" ry="8.8" fill="#c4cc4a" opacity="0.3" transform="rotate(9 166.4 663.7)"/>
</g>
<path d="M156.3,651.5 Q159.0,644.4 161.8,650.3 Q164.5,642.5 167.2,646.1 Q170.0,643.9 172.7,648.8 Q175.4,643.0 178.2,649.3 Q180.9,643.6 183.7,650.1 C185.3,666.2 175.4,683.6 171.6,688.0 L166.1,688.0 C162.3,683.6 154.7,666.2 156.3,651.5 Z" fill="url(#lg3h)"/>
<path d="M167.5,687.0 Q165.6,668.4 161.2,653.2" stroke="#c4cc4a" stroke-width="1.4" fill="none" opacity="0.35"/>
<path d="M168.9,687.0 Q168.9,668.4 168.9,653.2" stroke="#c4cc4a" stroke-width="1.4" fill="none" opacity="0.35"/>
<path d="M170.2,687.0 Q172.2,668.4 176.5,653.2" stroke="#c4cc4a" stroke-width="1.4" fill="none" opacity="0.35"/>
<defs><linearGradient id="lg4" x1="0" y1="0" x2="0" y2="1"><stop offset="0" stop-color="#6a7a1c"/><stop offset="0.5" stop-color="#a6b834"/><stop offset="0.85" stop-color="#c4cc4a"/><stop offset="1" stop-color="#c8b860"/></linearGradient><linearGradient id="lg4h" x1="0" y1="0" x2="1" y2="0"><stop offset="0" stop-color="#000" stop-opacity="0.22"/><stop offset="0.5" stop-color="#fff" stop-opacity="0.08"/><stop offset="1" stop-color="#000" stop-opacity="0.25"/></linearGradient></defs>
<clipPath id="lg4c"><path d="M177.7,651.3 Q180.4,643.8 183.1,647.8 Q185.9,644.2 188.6,648.2 Q191.3,642.9 194.1,646.5 Q196.8,642.9 199.5,647.4 Q202.3,642.7 205.0,650.4 C206.6,665.8 199.0,682.8 195.2,687.0 L189.7,687.0 C185.9,682.8 176.0,665.8 177.7,651.3 Z"/></clipPath>
<path d="M177.7,651.3 Q180.4,643.8 183.1,647.8 Q185.9,644.2 188.6,648.2 Q191.3,642.9 194.1,646.5 Q196.8,642.9 199.5,647.4 Q202.3,642.7 205.0,650.4 C206.6,665.8 199.0,682.8 195.2,687.0 L189.7,687.0 C185.9,682.8 176.0,665.8 177.7,651.3 Z" fill="url(#lg4)"/>
<g clip-path="url(#lg4c)">
<ellipse cx="192.1" cy="648.6" rx="4.1" ry="10.2" fill="#6a7a1c" opacity="0.3" transform="rotate(20 192.1 648.6)"/>
<ellipse cx="199.6" cy="646.1" rx="5.5" ry="12.9" fill="#000" opacity="0.15" transform="rotate(13 199.6 646.1)"/>
<ellipse cx="197.3" cy="662.7" rx="5.5" ry="9.2" fill="#a6b834" opacity="0.3" transform="rotate(-1 197.3 662.7)"/>
<ellipse cx="197.6" cy="655.3" rx="4.5" ry="9.8" fill="#c4cc4a" opacity="0.3" transform="rotate(6 197.6 655.3)"/>
<ellipse cx="195.1" cy="651.1" rx="4.9" ry="11.4" fill="#000" opacity="0.15" transform="rotate(8 195.1 651.1)"/>
<ellipse cx="192.7" cy="658.8" rx="3.7" ry="11.7" fill="#c4cc4a" opacity="0.3" transform="rotate(1 192.7 658.8)"/>
</g>
<path d="M177.7,651.3 Q180.4,643.8 183.1,647.8 Q185.9,644.2 188.6,648.2 Q191.3,642.9 194.1,646.5 Q196.8,642.9 199.5,647.4 Q202.3,642.7 205.0,650.4 C206.6,665.8 199.0,682.8 195.2,687.0 L189.7,687.0 C185.9,682.8 176.0,665.8 177.7,651.3 Z" fill="url(#lg4h)"/>
<path d="M191.1,686.0 Q189.1,667.9 184.8,653.0" stroke="#c4cc4a" stroke-width="1.4" fill="none" opacity="0.35"/>
<path d="M192.4,686.0 Q192.4,667.9 192.4,653.0" stroke="#c4cc4a" stroke-width="1.4" fill="none" opacity="0.35"/>
<path d="M193.8,686.0 Q195.7,667.9 200.1,653.0" stroke="#c4cc4a" stroke-width="1.4" fill="none" opacity="0.35"/>
<defs><linearGradient id="lg5" x1="0" y1="0" x2="0" y2="1"><stop offset="0" stop-color="#243a10"/><stop offset="0.5" stop-color="#5c7a20"/><stop offset="0.85" stop-color="#a8bc40"/><stop offset="1" stop-color="#c8c880"/></linearGradient><linearGradient id="lg5h" x1="0" y1="0" x2="1" y2="0"><stop offset="0" stop-color="#000" stop-opacity="0.22"/><stop offset="0.5" stop-color="#fff" stop-opacity="0.08"/><stop offset="1" stop-color="#000" stop-opacity="0.25"/></linearGradient></defs>
<clipPath id="lg5c"><path d="M216.7,650.9 Q219.0,643.5 221.2,647.5 Q223.5,643.6 225.8,646.9 Q228.1,642.5 230.3,647.8 Q232.6,644.1 234.9,646.7 Q237.1,642.8 239.4,648.5 C240.8,664.8 232.6,681.2 229.4,685.3 L224.9,685.3 C221.7,681.2 215.3,664.8 216.7,650.9 Z"/></clipPath>
<path d="M216.7,650.9 Q219.0,643.5 221.2,647.5 Q223.5,643.6 225.8,646.9 Q228.1,642.5 230.3,647.8 Q232.6,644.1 234.9,646.7 Q237.1,642.8 239.4,648.5 C240.8,664.8 232.6,681.2 229.4,685.3 L224.9,685.3 C221.7,681.2 215.3,664.8 216.7,650.9 Z" fill="url(#lg5)"/>
<g clip-path="url(#lg5c)">
<ellipse cx="238.2" cy="653.1" rx="4.6" ry="10.1" fill="#5c7a20" opacity="0.3" transform="rotate(-11 238.2 653.1)"/>
<ellipse cx="220.9" cy="661.4" rx="3.6" ry="7.4" fill="#243a10" opacity="0.3" transform="rotate(-14 220.9 661.4)"/>
<ellipse cx="237.4" cy="645.2" rx="4.5" ry="12.1" fill="#000" opacity="0.15" transform="rotate(-1 237.4 645.2)"/>
<ellipse cx="232.5" cy="660.6" rx="4.3" ry="12.6" fill="#a8bc40" opacity="0.3" transform="rotate(9 232.5 660.6)"/>
<ellipse cx="229.6" cy="662.1" rx="3.0" ry="9.5" fill="#243a10" opacity="0.3" transform="rotate(-15 229.6 662.1)"/>
<ellipse cx="222.3" cy="662.2" rx="3.7" ry="11.0" fill="#000" opacity="0.15" transform="rotate(-3 222.3 662.2)"/>
</g>
<path d="M216.7,650.9 Q219.0,643.5 221.2,647.5 Q223.5,643.6 225.8,646.9 Q228.1,642.5 230.3,647.8 Q232.6,644.1 234.9,646.7 Q237.1,642.8 239.4,648.5 C240.8,664.8 232.6,681.2 229.4,685.3 L224.9,685.3 C221.7,681.2 215.3,664.8 216.7,650.9 Z" fill="url(#lg5h)"/>
<path d="M226.0,684.3 Q224.4,666.9 220.8,652.6" stroke="#a8bc40" stroke-width="1.1" fill="none" opacity="0.35"/>
<path d="M227.1,684.3 Q227.1,666.9 227.1,652.6" stroke="#a8bc40" stroke-width="1.1" fill="none" opacity="0.35"/>
<path d="M228.3,684.3 Q229.9,666.9 233.5,652.6" stroke="#a8bc40" stroke-width="1.1" fill="none" opacity="0.35"/>
<defs><linearGradient id="lg6" x1="0" y1="0" x2="0" y2="1"><stop offset="0" stop-color="#243a10"/><stop offset="0.5" stop-color="#5c7a20"/><stop offset="0.85" stop-color="#a8bc40"/><stop offset="1" stop-color="#c8c880"/></linearGradient><linearGradient id="lg6h" x1="0" y1="0" x2="1" y2="0"><stop offset="0" stop-color="#000" stop-opacity="0.22"/><stop offset="0.5" stop-color="#fff" stop-opacity="0.08"/><stop offset="1" stop-color="#000" stop-opacity="0.25"/></linearGradient></defs>
<clipPath id="lg6c"><path d="M233.4,650.8 Q235.7,643.8 237.9,647.0 Q240.2,644.3 242.5,647.8 Q244.8,642.9 247.0,646.5 Q249.3,643.7 251.6,649.0 Q253.8,643.8 256.1,648.6 C257.5,664.3 251.1,680.3 247.9,684.3 L243.4,684.3 C240.2,680.3 232.0,664.3 233.4,650.8 Z"/></clipPath>
<path d="M233.4,650.8 Q235.7,643.8 237.9,647.0 Q240.2,644.3 242.5,647.8 Q244.8,642.9 247.0,646.5 Q249.3,643.7 251.6,649.0 Q253.8,643.8 256.1,648.6 C257.5,664.3 251.1,680.3 247.9,684.3 L243.4,684.3 C240.2,680.3 232.0,664.3 233.4,650.8 Z" fill="url(#lg6)"/>
<g clip-path="url(#lg6c)">
<ellipse cx="242.6" cy="658.4" rx="3.0" ry="8.4" fill="#000" opacity="0.15" transform="rotate(-6 242.6 658.4)"/>
<ellipse cx="239.9" cy="658.8" rx="4.2" ry="8.0" fill="#000" opacity="0.15" transform="rotate(-13 239.9 658.8)"/>
<ellipse cx="247.8" cy="646.6" rx="3.5" ry="7.6" fill="#5c7a20" opacity="0.3" transform="rotate(14 247.8 646.6)"/>
<ellipse cx="242.3" cy="654.9" rx="4.8" ry="12.2" fill="#243a10" opacity="0.3" transform="rotate(15 242.3 654.9)"/>
<ellipse cx="248.6" cy="646.4" rx="4.1" ry="10.7" fill="#5c7a20" opacity="0.3" transform="rotate(15 248.6 646.4)"/>
<ellipse cx="249.8" cy="653.1" rx="4.3" ry="8.7" fill="#5c7a20" opacity="0.3" transform="rotate(-1 249.8 653.1)"/>
</g>
<path d="M233.4,650.8 Q235.7,643.8 237.9,647.0 Q240.2,644.3 242.5,647.8 Q244.8,642.9 247.0,646.5 Q249.3,643.7 251.6,649.0 Q253.8,643.8 256.1,648.6 C257.5,664.3 251.1,680.3 247.9,684.3 L243.4,684.3 C240.2,680.3 232.0,664.3 233.4,650.8 Z" fill="url(#lg6h)"/>
<path d="M244.5,683.3 Q242.9,666.3 239.3,652.4" stroke="#a8bc40" stroke-width="1.1" fill="none" opacity="0.35"/>
<path d="M245.7,683.3 Q245.7,666.3 245.7,652.4" stroke="#a8bc40" stroke-width="1.1" fill="none" opacity="0.35"/>
<path d="M246.8,683.3 Q248.4,666.3 252.0,652.4" stroke="#a8bc40" stroke-width="1.1" fill="none" opacity="0.35"/>
<defs><linearGradient id="lg7" x1="0" y1="0" x2="0" y2="1"><stop offset="0" stop-color="#6a9a30"/><stop offset="0.5" stop-color="#8cb848"/><stop offset="0.85" stop-color="#b8d484"/><stop offset="1" stop-color="#eef0e0"/></linearGradient><linearGradient id="lg7h" x1="0" y1="0" x2="1" y2="0"><stop offset="0" stop-color="#000" stop-opacity="0.22"/><stop offset="0.5" stop-color="#fff" stop-opacity="0.08"/><stop offset="1" stop-color="#000" stop-opacity="0.25"/></linearGradient></defs>
<clipPath id="lg7c"><path d="M103.0,719.4 Q105.4,711.8 107.7,716.3 Q110.1,711.9 112.5,715.9 Q114.8,712.4 117.2,714.9 Q119.6,713.1 122.0,718.3 Q124.3,712.1 126.7,718.7 C128.1,732.0 119.6,746.8 116.3,750.5 L111.5,750.5 C108.2,746.8 101.6,732.0 103.0,719.4 Z"/></clipPath>
<path d="M103.0,719.4 Q105.4,711.8 107.7,716.3 Q110.1,711.9 112.5,715.9 Q114.8,712.4 117.2,714.9 Q119.6,713.1 122.0,718.3 Q124.3,712.1 126.7,718.7 C128.1,732.0 119.6,746.8 116.3,750.5 L111.5,750.5 C108.2,746.8 101.6,732.0 103.0,719.4 Z" fill="url(#lg7)"/>
<g clip-path="url(#lg7c)">
<ellipse cx="115.6" cy="718.1" rx="3.3" ry="7.2" fill="#8cb848" opacity="0.3" transform="rotate(18 115.6 718.1)"/>
<ellipse cx="104.7" cy="724.2" rx="3.5" ry="8.1" fill="#8cb848" opacity="0.3" transform="rotate(-8 104.7 724.2)"/>
<ellipse cx="117.6" cy="725.7" rx="4.9" ry="11.2" fill="#6a9a30" opacity="0.3" transform="rotate(14 117.6 725.7)"/>
<ellipse cx="111.4" cy="720.0" rx="3.4" ry="7.9" fill="#000" opacity="0.15" transform="rotate(-16 111.4 720.0)"/>
<ellipse cx="124.1" cy="727.9" rx="4.1" ry="8.2" fill="#000" opacity="0.15" transform="rotate(3 124.1 727.9)"/>
<ellipse cx="123.0" cy="727.6" rx="4.0" ry="8.8" fill="#000" opacity="0.15" transform="rotate(-3 123.0 727.6)"/>
</g>
<path d="M103.0,719.4 Q105.4,711.8 107.7,716.3 Q110.1,711.9 112.5,715.9 Q114.8,712.4 117.2,714.9 Q119.6,713.1 122.0,718.3 Q124.3,712.1 126.7,718.7 C128.1,732.0 119.6,746.8 116.3,750.5 L111.5,750.5 C108.2,746.8 101.6,732.0 103.0,719.4 Z" fill="url(#lg7h)"/>
<path d="M112.7,749.5 Q111.1,733.9 107.3,720.9" stroke="#b8d484" stroke-width="1.2" fill="none" opacity="0.35"/>
<path d="M113.9,749.5 Q113.9,733.9 113.9,720.9" stroke="#b8d484" stroke-width="1.2" fill="none" opacity="0.35"/>
<path d="M115.1,749.5 Q116.7,733.9 120.5,720.9" stroke="#b8d484" stroke-width="1.2" fill="none" opacity="0.35"/>
<defs><linearGradient id="lg8" x1="0" y1="0" x2="0" y2="1"><stop offset="0" stop-color="#6a9a30"/><stop offset="0.5" stop-color="#8cb848"/><stop offset="0.85" stop-color="#b8d484"/><stop offset="1" stop-color="#eef0e0"/></linearGradient><linearGradient id="lg8h" x1="0" y1="0" x2="1" y2="0"><stop offset="0" stop-color="#000" stop-opacity="0.22"/><stop offset="0.5" stop-color="#fff" stop-opacity="0.08"/><stop offset="1" stop-color="#000" stop-opacity="0.25"/></linearGradient></defs>
<clipPath id="lg8c"><path d="M120.7,716.7 Q123.5,708.6 126.4,715.7 Q129.2,708.9 132.0,714.0 Q134.9,708.6 137.7,714.8 Q140.5,709.9 143.3,715.4 Q146.2,710.5 149.0,716.3 C150.7,730.0 142.8,745.6 138.8,749.5 L133.2,749.5 C129.2,745.6 119.0,730.0 120.7,716.7 Z"/></clipPath>
<path d="M120.7,716.7 Q123.5,708.6 126.4,715.7 Q129.2,708.9 132.0,714.0 Q134.9,708.6 137.7,714.8 Q140.5,709.9 143.3,715.4 Q146.2,710.5 149.0,716.3 C150.7,730.0 142.8,745.6 138.8,749.5 L133.2,749.5 C129.2,745.6 119.0,730.0 120.7,716.7 Z" fill="url(#lg8)"/>
<g clip-path="url(#lg8c)">
<ellipse cx="128.2" cy="716.4" rx="5.4" ry="8.6" fill="#000" opacity="0.15" transform="rotate(-6 128.2 716.4)"/>
<ellipse cx="145.9" cy="714.1" rx="4.4" ry="8.7" fill="#000" opacity="0.15" transform="rotate(17 145.9 714.1)"/>
<ellipse cx="135.1" cy="714.6" rx="4.7" ry="9.3" fill="#6a9a30" opacity="0.3" transform="rotate(-2 135.1 714.6)"/>
<ellipse cx="142.5" cy="718.2" rx="4.3" ry="10.8" fill="#b8d484" opacity="0.3" transform="rotate(-4 142.5 718.2)"/>
<ellipse cx="144.1" cy="728.0" rx="4.8" ry="12.2" fill="#6a9a30" opacity="0.3" transform="rotate(-12 144.1 728.0)"/>
<ellipse cx="135.7" cy="721.3" rx="5.6" ry="11.6" fill="#6a9a30" opacity="0.3" transform="rotate(-9 135.7 721.3)"/>
</g>
<path d="M120.7,716.7 Q123.5,708.6 126.4,715.7 Q129.2,708.9 132.0,714.0 Q134.9,708.6 137.7,714.8 Q140.5,709.9 143.3,715.4 Q146.2,710.5 149.0,716.3 C150.7,730.0 142.8,745.6 138.8,749.5 L133.2,749.5 C129.2,745.6 119.0,730.0 120.7,716.7 Z" fill="url(#lg8h)"/>
<path d="M134.6,748.5 Q132.6,732.0 128.1,718.3" stroke="#b8d484" stroke-width="1.4" fill="none" opacity="0.35"/>
<path d="M136.0,748.5 Q136.0,732.0 136.0,718.3" stroke="#b8d484" stroke-width="1.4" fill="none" opacity="0.35"/>
<path d="M137.4,748.5 Q139.4,732.0 143.9,718.3" stroke="#b8d484" stroke-width="1.4" fill="none" opacity="0.35"/>
<defs><linearGradient id="lg9" x1="0" y1="0" x2="0" y2="1"><stop offset="0" stop-color="#5e8e2a"/><stop offset="0.5" stop-color="#86b044"/><stop offset="0.85" stop-color="#b4d080"/><stop offset="1" stop-color="#eef0e0"/></linearGradient><linearGradient id="lg9h" x1="0" y1="0" x2="1" y2="0"><stop offset="0" stop-color="#000" stop-opacity="0.22"/><stop offset="0.5" stop-color="#fff" stop-opacity="0.08"/><stop offset="1" stop-color="#000" stop-opacity="0.25"/></linearGradient></defs>
<clipPath id="lg9c"><path d="M156.0,716.0 Q158.3,709.2 160.7,713.9 Q163.0,709.6 165.3,713.5 Q167.6,709.5 169.9,713.3 Q172.3,708.6 174.6,712.0 Q176.9,709.0 179.2,715.8 C180.6,729.4 172.3,745.1 169.0,749.0 L164.4,749.0 C161.1,745.1 154.6,729.4 156.0,716.0 Z"/></clipPath>
<path d="M156.0,716.0 Q158.3,709.2 160.7,713.9 Q163.0,709.6 165.3,713.5 Q167.6,709.5 169.9,713.3 Q172.3,708.6 174.6,712.0 Q176.9,709.0 179.2,715.8 C180.6,729.4 172.3,745.1 169.0,749.0 L164.4,749.0 C161.1,745.1 154.6,729.4 156.0,716.0 Z" fill="url(#lg9)"/>
<g clip-path="url(#lg9c)">
<ellipse cx="176.0" cy="711.7" rx="3.9" ry="8.4" fill="#5e8e2a" opacity="0.3" transform="rotate(3 176.0 711.7)"/>
<ellipse cx="157.4" cy="713.5" rx="3.4" ry="12.1" fill="#b4d080" opacity="0.3" transform="rotate(-14 157.4 713.5)"/>
<ellipse cx="173.8" cy="712.2" rx="4.2" ry="7.8" fill="#5e8e2a" opacity="0.3" transform="rotate(19 173.8 712.2)"/>
<ellipse cx="157.3" cy="723.4" rx="5.0" ry="8.0" fill="#86b044" opacity="0.3" transform="rotate(-8 157.3 723.4)"/>
<ellipse cx="177.3" cy="719.2" rx="4.4" ry="8.2" fill="#86b044" opacity="0.3" transform="rotate(19 177.3 719.2)"/>
<ellipse cx="175.9" cy="715.0" rx="3.6" ry="8.0" fill="#86b044" opacity="0.3" transform="rotate(-9 175.9 715.0)"/>
</g>
<path d="M156.0,716.0 Q158.3,709.2 160.7,713.9 Q163.0,709.6 165.3,713.5 Q167.6,709.5 169.9,713.3 Q172.3,708.6 174.6,712.0 Q176.9,709.0 179.2,715.8 C180.6,729.4 172.3,745.1 169.0,749.0 L164.4,749.0 C161.1,745.1 154.6,729.4 156.0,716.0 Z" fill="url(#lg9h)"/>
<path d="M165.5,748.0 Q163.9,731.3 160.2,717.6" stroke="#b4d080" stroke-width="1.2" fill="none" opacity="0.35"/>
<path d="M166.7,748.0 Q166.7,731.3 166.7,717.6" stroke="#b4d080" stroke-width="1.2" fill="none" opacity="0.35"/>
<path d="M167.9,748.0 Q169.5,731.3 173.2,717.6" stroke="#b4d080" stroke-width="1.2" fill="none" opacity="0.35"/>
<defs><linearGradient id="lg10" x1="0" y1="0" x2="0" y2="1"><stop offset="0" stop-color="#5e8e2a"/><stop offset="0.5" stop-color="#86b044"/><stop offset="0.85" stop-color="#b4d080"/><stop offset="1" stop-color="#eef0e0"/></linearGradient><linearGradient id="lg10h" x1="0" y1="0" x2="1" y2="0"><stop offset="0" stop-color="#000" stop-opacity="0.22"/><stop offset="0.5" stop-color="#fff" stop-opacity="0.08"/><stop offset="1" stop-color="#000" stop-opacity="0.25"/></linearGradient></defs>
<clipPath id="lg10c"><path d="M173.2,715.8 Q176.0,708.7 178.8,713.0 Q181.6,708.6 184.3,712.2 Q187.1,709.0 189.9,712.2 Q192.7,709.0 195.4,712.6 Q198.2,708.4 201.0,712.8 C202.7,728.9 194.9,744.2 191.0,748.0 L185.5,748.0 C181.6,744.2 171.6,728.9 173.2,715.8 Z"/></clipPath>
<path d="M173.2,715.8 Q176.0,708.7 178.8,713.0 Q181.6,708.6 184.3,712.2 Q187.1,709.0 189.9,712.2 Q192.7,709.0 195.4,712.6 Q198.2,708.4 201.0,712.8 C202.7,728.9 194.9,744.2 191.0,748.0 L185.5,748.0 C181.6,744.2 171.6,728.9 173.2,715.8 Z" fill="url(#lg10)"/>
<g clip-path="url(#lg10c)">
<ellipse cx="183.0" cy="712.1" rx="5.4" ry="8.6" fill="#86b044" opacity="0.3" transform="rotate(18 183.0 712.1)"/>
<ellipse cx="181.0" cy="725.1" rx="5.6" ry="10.5" fill="#5e8e2a" opacity="0.3" transform="rotate(-1 181.0 725.1)"/>
<ellipse cx="189.6" cy="721.8" rx="6.1" ry="11.1" fill="#000" opacity="0.15" transform="rotate(-10 189.6 721.8)"/>
<ellipse cx="194.3" cy="715.7" rx="4.5" ry="10.3" fill="#000" opacity="0.15" transform="rotate(3 194.3 715.7)"/>
<ellipse cx="181.7" cy="711.1" rx="6.1" ry="6.9" fill="#000" opacity="0.15" transform="rotate(-11 181.7 711.1)"/>
<ellipse cx="178.5" cy="714.9" rx="4.6" ry="7.2" fill="#b4d080" opacity="0.3" transform="rotate(9 178.5 714.9)"/>
</g>
<path d="M173.2,715.8 Q176.0,708.7 178.8,713.0 Q181.6,708.6 184.3,712.2 Q187.1,709.0 189.9,712.2 Q192.7,709.0 195.4,712.6 Q198.2,708.4 201.0,712.8 C202.7,728.9 194.9,744.2 191.0,748.0 L185.5,748.0 C181.6,744.2 171.6,728.9 173.2,715.8 Z" fill="url(#lg10h)"/>
<path d="M186.8,747.0 Q184.9,730.8 180.5,717.4" stroke="#b4d080" stroke-width="1.4" fill="none" opacity="0.35"/>
<path d="M188.2,747.0 Q188.2,730.8 188.2,717.4" stroke="#b4d080" stroke-width="1.4" fill="none" opacity="0.35"/>
<path d="M189.6,747.0 Q191.6,730.8 196.0,717.4" stroke="#b4d080" stroke-width="1.4" fill="none" opacity="0.35"/>
<defs><linearGradient id="lg11" x1="0" y1="0" x2="0" y2="1"><stop offset="0" stop-color="#5a8a28"/><stop offset="0.5" stop-color="#84b040"/><stop offset="0.85" stop-color="#b8d488"/><stop offset="1" stop-color="#eef0e0"/></linearGradient><linearGradient id="lg11h" x1="0" y1="0" x2="1" y2="0"><stop offset="0" stop-color="#000" stop-opacity="0.22"/><stop offset="0.5" stop-color="#fff" stop-opacity="0.08"/><stop offset="1" stop-color="#000" stop-opacity="0.25"/></linearGradient></defs>
<clipPath id="lg11c"><path d="M212.3,715.1 Q214.7,708.2 217.2,713.5 Q219.6,707.1 222.1,711.5 Q224.5,707.9 227.0,709.9 Q229.4,708.1 231.9,712.4 Q234.3,708.1 236.8,713.1 C238.2,729.0 229.4,745.4 226.0,749.5 L221.1,749.5 C217.7,745.4 210.8,729.0 212.3,715.1 Z"/></clipPath>
<path d="M212.3,715.1 Q214.7,708.2 217.2,713.5 Q219.6,707.1 222.1,711.5 Q224.5,707.9 227.0,709.9 Q229.4,708.1 231.9,712.4 Q234.3,708.1 236.8,713.1 C238.2,729.0 229.4,745.4 226.0,749.5 L221.1,749.5 C217.7,745.4 210.8,729.0 212.3,715.1 Z" fill="url(#lg11)"/>
<g clip-path="url(#lg11c)">
<ellipse cx="219.5" cy="723.4" rx="4.7" ry="9.7" fill="#5a8a28" opacity="0.3" transform="rotate(-12 219.5 723.4)"/>
<ellipse cx="225.7" cy="723.4" rx="3.6" ry="12.0" fill="#5a8a28" opacity="0.3" transform="rotate(14 225.7 723.4)"/>
<ellipse cx="220.9" cy="710.3" rx="4.9" ry="12.0" fill="#b8d488" opacity="0.3" transform="rotate(8 220.9 710.3)"/>
<ellipse cx="230.2" cy="721.5" rx="4.9" ry="7.9" fill="#5a8a28" opacity="0.3" transform="rotate(4 230.2 721.5)"/>
<ellipse cx="217.9" cy="720.7" rx="3.8" ry="12.7" fill="#84b040" opacity="0.3" transform="rotate(1 217.9 720.7)"/>
<ellipse cx="227.7" cy="721.4" rx="4.9" ry="13.0" fill="#5a8a28" opacity="0.3" transform="rotate(5 227.7 721.4)"/>
</g>
<path d="M212.3,715.1 Q214.7,708.2 217.2,713.5 Q219.6,707.1 222.1,711.5 Q224.5,707.9 227.0,709.9 Q229.4,708.1 231.9,712.4 Q234.3,708.1 236.8,713.1 C238.2,729.0 229.4,745.4 226.0,749.5 L221.1,749.5 C217.7,745.4 210.8,729.0 212.3,715.1 Z" fill="url(#lg11h)"/>
<path d="M222.3,748.5 Q220.6,731.1 216.7,716.8" stroke="#b8d488" stroke-width="1.2" fill="none" opacity="0.35"/>
<path d="M223.5,748.5 Q223.5,731.1 223.5,716.8" stroke="#b8d488" stroke-width="1.2" fill="none" opacity="0.35"/>
<path d="M224.8,748.5 Q226.5,731.1 230.4,716.8" stroke="#b8d488" stroke-width="1.2" fill="none" opacity="0.35"/>
<defs><linearGradient id="lg12" x1="0" y1="0" x2="0" y2="1"><stop offset="0" stop-color="#5a8a28"/><stop offset="0.5" stop-color="#84b040"/><stop offset="0.85" stop-color="#b8d488"/><stop offset="1" stop-color="#eef0e0"/></linearGradient><linearGradient id="lg12h" x1="0" y1="0" x2="1" y2="0"><stop offset="0" stop-color="#000" stop-opacity="0.22"/><stop offset="0.5" stop-color="#fff" stop-opacity="0.08"/><stop offset="1" stop-color="#000" stop-opacity="0.25"/></linearGradient></defs>
<clipPath id="lg12c"><path d="M230.8,715.0 Q233.4,708.2 236.0,712.5 Q238.6,707.2 241.3,712.9 Q243.9,708.0 246.5,712.3 Q249.1,706.8 251.8,712.9 Q254.4,707.4 257.0,711.9 C258.6,728.5 251.2,744.5 247.6,748.5 L242.3,748.5 C238.6,744.5 229.2,728.5 230.8,715.0 Z"/></clipPath>
<path d="M230.8,715.0 Q233.4,708.2 236.0,712.5 Q238.6,707.2 241.3,712.9 Q243.9,708.0 246.5,712.3 Q249.1,706.8 251.8,712.9 Q254.4,707.4 257.0,711.9 C258.6,728.5 251.2,744.5 247.6,748.5 L242.3,748.5 C238.6,744.5 229.2,728.5 230.8,715.0 Z" fill="url(#lg12)"/>
<g clip-path="url(#lg12c)">
<ellipse cx="249.7" cy="713.1" rx="4.5" ry="9.0" fill="#b8d488" opacity="0.3" transform="rotate(-14 249.7 713.1)"/>
<ellipse cx="245.1" cy="711.1" rx="5.2" ry="8.3" fill="#84b040" opacity="0.3" transform="rotate(-7 245.1 711.1)"/>
<ellipse cx="235.0" cy="721.4" rx="3.3" ry="9.5" fill="#b8d488" opacity="0.3" transform="rotate(6 235.0 721.4)"/>
<ellipse cx="246.2" cy="720.9" rx="4.2" ry="10.0" fill="#000" opacity="0.15" transform="rotate(-19 246.2 720.9)"/>
<ellipse cx="240.9" cy="709.5" rx="5.1" ry="9.2" fill="#b8d488" opacity="0.3" transform="rotate(-5 240.9 709.5)"/>
<ellipse cx="250.4" cy="724.2" rx="3.8" ry="10.3" fill="#84b040" opacity="0.3" transform="rotate(1 250.4 724.2)"/>
</g>
<path d="M230.8,715.0 Q233.4,708.2 236.0,712.5 Q238.6,707.2 241.3,712.9 Q243.9,708.0 246.5,712.3 Q249.1,706.8 251.8,712.9 Q254.4,707.4 257.0,711.9 C258.6,728.5 251.2,744.5 247.6,748.5 L242.3,748.5 C238.6,744.5 229.2,728.5 230.8,715.0 Z" fill="url(#lg12h)"/>
<path d="M243.6,747.5 Q241.8,730.5 237.6,716.6" stroke="#b8d488" stroke-width="1.3" fill="none" opacity="0.35"/>
<path d="M244.9,747.5 Q244.9,730.5 244.9,716.6" stroke="#b8d488" stroke-width="1.3" fill="none" opacity="0.35"/>
<path d="M246.2,747.5 Q248.1,730.5 252.3,716.6" stroke="#b8d488" stroke-width="1.3" fill="none" opacity="0.35"/>
<defs><linearGradient id="lg13" x1="0" y1="0" x2="0" y2="1"><stop offset="0" stop-color="#6a9a34"/><stop offset="0.5" stop-color="#94c050"/><stop offset="0.85" stop-color="#c8e0a0"/><stop offset="1" stop-color="#f2f4ea"/></linearGradient><linearGradient id="lg13h" x1="0" y1="0" x2="1" y2="0"><stop offset="0" stop-color="#000" stop-opacity="0.22"/><stop offset="0.5" stop-color="#fff" stop-opacity="0.08"/><stop offset="1" stop-color="#000" stop-opacity="0.25"/></linearGradient></defs>
<clipPath id="lg13c"><path d="M266.3,715.0 Q268.9,706.9 271.4,711.9 Q274.0,706.7 276.6,712.0 Q279.1,707.3 281.7,711.6 Q284.3,707.6 286.8,711.0 Q289.4,707.5 292.0,711.9 C293.5,728.6 284.3,744.6 280.7,748.6 L275.5,748.6 C271.9,744.6 264.8,728.6 266.3,715.0 Z"/></clipPath>
<path d="M266.3,715.0 Q268.9,706.9 271.4,711.9 Q274.0,706.7 276.6,712.0 Q279.1,707.3 281.7,711.6 Q284.3,707.6 286.8,711.0 Q289.4,707.5 292.0,711.9 C293.5,728.6 284.3,744.6 280.7,748.6 L275.5,748.6 C271.9,744.6 264.8,728.6 266.3,715.0 Z" fill="url(#lg13)"/>
<g clip-path="url(#lg13c)">
<ellipse cx="269.2" cy="710.2" rx="4.2" ry="11.8" fill="#6a9a34" opacity="0.3" transform="rotate(18 269.2 710.2)"/>
<ellipse cx="282.1" cy="719.1" rx="3.2" ry="10.5" fill="#6a9a34" opacity="0.3" transform="rotate(19 282.1 719.1)"/>
<ellipse cx="268.7" cy="724.1" rx="3.8" ry="8.0" fill="#6a9a34" opacity="0.3" transform="rotate(3 268.7 724.1)"/>
<ellipse cx="280.5" cy="720.9" rx="3.3" ry="10.4" fill="#94c050" opacity="0.3" transform="rotate(-5 280.5 720.9)"/>
<ellipse cx="280.2" cy="709.7" rx="3.2" ry="8.4" fill="#c8e0a0" opacity="0.3" transform="rotate(11 280.2 709.7)"/>
<ellipse cx="278.3" cy="725.2" rx="4.0" ry="8.6" fill="#94c050" opacity="0.3" transform="rotate(8 278.3 725.2)"/>
</g>
<path d="M266.3,715.0 Q268.9,706.9 271.4,711.9 Q274.0,706.7 276.6,712.0 Q279.1,707.3 281.7,711.6 Q284.3,707.6 286.8,711.0 Q289.4,707.5 292.0,711.9 C293.5,728.6 284.3,744.6 280.7,748.6 L275.5,748.6 C271.9,744.6 264.8,728.6 266.3,715.0 Z" fill="url(#lg13h)"/>
<path d="M276.8,747.6 Q275.0,730.6 270.9,716.6" stroke="#c8e0a0" stroke-width="1.3" fill="none" opacity="0.35"/>
<path d="M278.1,747.6 Q278.1,730.6 278.1,716.6" stroke="#c8e0a0" stroke-width="1.3" fill="none" opacity="0.35"/>
<path d="M279.4,747.6 Q281.2,730.6 285.3,716.6" stroke="#c8e0a0" stroke-width="1.3" fill="none" opacity="0.35"/>
<defs><linearGradient id="lg14" x1="0" y1="0" x2="0" y2="1"><stop offset="0" stop-color="#6a9a34"/><stop offset="0.5" stop-color="#94c050"/><stop offset="0.85" stop-color="#c8e0a0"/><stop offset="1" stop-color="#f2f4ea"/></linearGradient><linearGradient id="lg14h" x1="0" y1="0" x2="1" y2="0"><stop offset="0" stop-color="#000" stop-opacity="0.22"/><stop offset="0.5" stop-color="#fff" stop-opacity="0.08"/><stop offset="1" stop-color="#000" stop-opacity="0.25"/></linearGradient></defs>
<clipPath id="lg14c"><path d="M286.0,714.8 Q288.5,707.9 291.1,711.3 Q293.6,707.0 296.2,710.9 Q298.8,707.6 301.3,711.4 Q303.9,707.5 306.5,712.3 Q309.0,707.1 311.6,712.5 C313.1,728.1 306.0,743.7 302.4,747.6 L297.2,747.6 C293.6,743.7 284.4,728.1 286.0,714.8 Z"/></clipPath>
<path d="M286.0,714.8 Q288.5,707.9 291.1,711.3 Q293.6,707.0 296.2,710.9 Q298.8,707.6 301.3,711.4 Q303.9,707.5 306.5,712.3 Q309.0,707.1 311.6,712.5 C313.1,728.1 306.0,743.7 302.4,747.6 L297.2,747.6 C293.6,743.7 284.4,728.1 286.0,714.8 Z" fill="url(#lg14)"/>
<g clip-path="url(#lg14c)">
<ellipse cx="303.2" cy="714.3" rx="4.8" ry="11.3" fill="#94c050" opacity="0.3" transform="rotate(-13 303.2 714.3)"/>
<ellipse cx="291.9" cy="715.0" rx="4.4" ry="11.4" fill="#c8e0a0" opacity="0.3" transform="rotate(-11 291.9 715.0)"/>
<ellipse cx="294.1" cy="708.7" rx="5.6" ry="8.2" fill="#c8e0a0" opacity="0.3" transform="rotate(2 294.1 708.7)"/>
<ellipse cx="300.9" cy="717.8" rx="5.2" ry="10.3" fill="#000" opacity="0.15" transform="rotate(2 300.9 717.8)"/>
<ellipse cx="293.7" cy="718.6" rx="4.4" ry="9.7" fill="#94c050" opacity="0.3" transform="rotate(-12 293.7 718.6)"/>
<ellipse cx="302.2" cy="722.8" rx="3.4" ry="9.8" fill="#6a9a34" opacity="0.3" transform="rotate(16 302.2 722.8)"/>
</g>
<path d="M286.0,714.8 Q288.5,707.9 291.1,711.3 Q293.6,707.0 296.2,710.9 Q298.8,707.6 301.3,711.4 Q303.9,707.5 306.5,712.3 Q309.0,707.1 311.6,712.5 C313.1,728.1 306.0,743.7 302.4,747.6 L297.2,747.6 C293.6,743.7 284.4,728.1 286.0,714.8 Z" fill="url(#lg14h)"/>
<path d="M298.5,746.6 Q296.7,730.1 292.6,716.4" stroke="#c8e0a0" stroke-width="1.3" fill="none" opacity="0.35"/>
<path d="M299.8,746.6 Q299.8,730.1 299.8,716.4" stroke="#c8e0a0" stroke-width="1.3" fill="none" opacity="0.35"/>
<path d="M301.1,746.6 Q302.9,730.1 307.0,716.4" stroke="#c8e0a0" stroke-width="1.3" fill="none" opacity="0.35"/>
<defs><linearGradient id="lg15" x1="0" y1="0" x2="0" y2="1"><stop offset="0" stop-color="#2a5014"/><stop offset="0.5" stop-color="#5a8a2a"/><stop offset="0.85" stop-color="#a8c880"/><stop offset="1" stop-color="#e8ecd8"/></linearGradient><linearGradient id="lg15h" x1="0" y1="0" x2="1" y2="0"><stop offset="0" stop-color="#000" stop-opacity="0.22"/><stop offset="0.5" stop-color="#fff" stop-opacity="0.08"/><stop offset="1" stop-color="#000" stop-opacity="0.25"/></linearGradient></defs>
<clipPath id="lg15c"><path d="M318.9,716.5 Q321.0,709.9 323.0,713.0 Q325.1,709.4 327.2,711.7 Q329.3,708.5 331.3,711.6 Q333.4,708.4 335.5,715.5 Q337.6,708.9 339.6,715.3 C340.9,730.2 333.4,746.4 330.5,750.4 L326.4,750.4 C323.5,746.4 317.7,730.2 318.9,716.5 Z"/></clipPath>
<path d="M318.9,716.5 Q321.0,709.9 323.0,713.0 Q325.1,709.4 327.2,711.7 Q329.3,708.5 331.3,711.6 Q333.4,708.4 335.5,715.5 Q337.6,708.9 339.6,715.3 C340.9,730.2 333.4,746.4 330.5,750.4 L326.4,750.4 C323.5,746.4 317.7,730.2 318.9,716.5 Z" fill="url(#lg15)"/>
<g clip-path="url(#lg15c)">
<ellipse cx="328.4" cy="719.0" rx="2.9" ry="12.0" fill="#2a5014" opacity="0.3" transform="rotate(-1 328.4 719.0)"/>
<ellipse cx="334.1" cy="722.7" rx="3.6" ry="10.0" fill="#a8c880" opacity="0.3" transform="rotate(9 334.1 722.7)"/>
<ellipse cx="332.3" cy="711.8" rx="4.2" ry="9.5" fill="#a8c880" opacity="0.3" transform="rotate(-16 332.3 711.8)"/>
<ellipse cx="321.0" cy="714.3" rx="2.7" ry="12.4" fill="#5a8a2a" opacity="0.3" transform="rotate(3 321.0 714.3)"/>
<ellipse cx="322.6" cy="711.2" rx="4.4" ry="10.0" fill="#5a8a2a" opacity="0.3" transform="rotate(-14 322.6 711.2)"/>
<ellipse cx="336.0" cy="718.3" rx="3.7" ry="9.8" fill="#000" opacity="0.15" transform="rotate(14 336.0 718.3)"/>
</g>
<path d="M318.9,716.5 Q321.0,709.9 323.0,713.0 Q325.1,709.4 327.2,711.7 Q329.3,708.5 331.3,711.6 Q333.4,708.4 335.5,715.5 Q337.6,708.9 339.6,715.3 C340.9,730.2 333.4,746.4 330.5,750.4 L326.4,750.4 C323.5,746.4 317.7,730.2 318.9,716.5 Z" fill="url(#lg15h)"/>
<path d="M327.4,749.4 Q325.9,732.2 322.6,718.1" stroke="#a8c880" stroke-width="1.0" fill="none" opacity="0.35"/>
<path d="M328.4,749.4 Q328.4,732.2 328.4,718.1" stroke="#a8c880" stroke-width="1.0" fill="none" opacity="0.35"/>
<path d="M329.5,749.4 Q330.9,732.2 334.2,718.1" stroke="#a8c880" stroke-width="1.0" fill="none" opacity="0.35"/>
<defs><linearGradient id="lg16" x1="0" y1="0" x2="0" y2="1"><stop offset="0" stop-color="#2a5014"/><stop offset="0.5" stop-color="#5a8a2a"/><stop offset="0.85" stop-color="#a8c880"/><stop offset="1" stop-color="#e8ecd8"/></linearGradient><linearGradient id="lg16h" x1="0" y1="0" x2="1" y2="0"><stop offset="0" stop-color="#000" stop-opacity="0.22"/><stop offset="0.5" stop-color="#fff" stop-opacity="0.08"/><stop offset="1" stop-color="#000" stop-opacity="0.25"/></linearGradient></defs>
<clipPath id="lg16c"><path d="M333.6,716.3 Q336.1,709.6 338.6,714.3 Q341.0,709.0 343.5,712.9 Q346.0,710.0 348.4,712.5 Q350.9,708.3 353.4,713.1 Q355.8,708.5 358.3,714.0 C359.8,729.7 352.9,745.5 349.4,749.4 L344.5,749.4 C341.0,745.5 332.1,729.7 333.6,716.3 Z"/></clipPath>
<path d="M333.6,716.3 Q336.1,709.6 338.6,714.3 Q341.0,709.0 343.5,712.9 Q346.0,710.0 348.4,712.5 Q350.9,708.3 353.4,713.1 Q355.8,708.5 358.3,714.0 C359.8,729.7 352.9,745.5 349.4,749.4 L344.5,749.4 C341.0,745.5 332.1,729.7 333.6,716.3 Z" fill="url(#lg16)"/>
<g clip-path="url(#lg16c)">
<ellipse cx="342.1" cy="714.8" rx="3.2" ry="8.9" fill="#000" opacity="0.15" transform="rotate(-19 342.1 714.8)"/>
<ellipse cx="348.6" cy="725.6" rx="5.2" ry="7.7" fill="#a8c880" opacity="0.3" transform="rotate(-4 348.6 725.6)"/>
<ellipse cx="351.1" cy="724.2" rx="4.0" ry="7.6" fill="#a8c880" opacity="0.3" transform="rotate(10 351.1 724.2)"/>
<ellipse cx="343.7" cy="721.7" rx="3.7" ry="12.1" fill="#5a8a2a" opacity="0.3" transform="rotate(12 343.7 721.7)"/>
<ellipse cx="356.0" cy="714.1" rx="4.3" ry="11.1" fill="#5a8a2a" opacity="0.3" transform="rotate(-4 356.0 714.1)"/>
<ellipse cx="337.9" cy="721.1" rx="3.2" ry="11.0" fill="#2a5014" opacity="0.3" transform="rotate(18 337.9 721.1)"/>
</g>
<path d="M333.6,716.3 Q336.1,709.6 338.6,714.3 Q341.0,709.0 343.5,712.9 Q346.0,710.0 348.4,712.5 Q350.9,708.3 353.4,713.1 Q355.8,708.5 358.3,714.0 C359.8,729.7 352.9,745.5 349.4,749.4 L344.5,749.4 C341.0,745.5 332.1,729.7 333.6,716.3 Z" fill="url(#lg16h)"/>
<path d="M345.7,748.4 Q344.0,731.7 340.0,717.9" stroke="#a8c880" stroke-width="1.2" fill="none" opacity="0.35"/>
<path d="M347.0,748.4 Q347.0,731.7 347.0,717.9" stroke="#a8c880" stroke-width="1.2" fill="none" opacity="0.35"/>
<path d="M348.2,748.4 Q349.9,731.7 353.9,717.9" stroke="#a8c880" stroke-width="1.2" fill="none" opacity="0.35"/>
<defs><linearGradient id="lg17" x1="0" y1="0" x2="0" y2="1"><stop offset="0" stop-color="#2a4e14"/><stop offset="0.5" stop-color="#5c8a2c"/><stop offset="0.85" stop-color="#a8c47c"/><stop offset="1" stop-color="#e8ecd8"/></linearGradient><linearGradient id="lg17h" x1="0" y1="0" x2="1" y2="0"><stop offset="0" stop-color="#000" stop-opacity="0.22"/><stop offset="0.5" stop-color="#fff" stop-opacity="0.08"/><stop offset="1" stop-color="#000" stop-opacity="0.25"/></linearGradient></defs>
<clipPath id="lg17c"><path d="M370.0,716.1 Q372.0,708.8 373.9,713.5 Q375.9,709.7 377.9,711.6 Q379.9,709.1 381.9,711.2 Q383.8,708.3 385.8,714.9 Q387.8,709.3 389.8,714.7 C390.9,729.0 383.8,744.2 381.1,748.0 L377.1,748.0 C374.3,744.2 368.8,729.0 370.0,716.1 Z"/></clipPath>
<path d="M370.0,716.1 Q372.0,708.8 373.9,713.5 Q375.9,709.7 377.9,711.6 Q379.9,709.1 381.9,711.2 Q383.8,708.3 385.8,714.9 Q387.8,709.3 389.8,714.7 C390.9,729.0 383.8,744.2 381.1,748.0 L377.1,748.0 C374.3,744.2 368.8,729.0 370.0,716.1 Z" fill="url(#lg17)"/>
<g clip-path="url(#lg17c)">
<ellipse cx="371.7" cy="716.5" rx="3.8" ry="9.2" fill="#a8c47c" opacity="0.3" transform="rotate(-14 371.7 716.5)"/>
<ellipse cx="375.2" cy="711.9" rx="3.4" ry="11.8" fill="#2a4e14" opacity="0.3" transform="rotate(11 375.2 711.9)"/>
<ellipse cx="377.8" cy="722.8" rx="2.6" ry="8.4" fill="#5c8a2c" opacity="0.3" transform="rotate(9 377.8 722.8)"/>
<ellipse cx="378.5" cy="711.5" rx="2.9" ry="8.0" fill="#000" opacity="0.15" transform="rotate(-6 378.5 711.5)"/>
<ellipse cx="371.8" cy="722.1" rx="2.4" ry="9.0" fill="#a8c47c" opacity="0.3" transform="rotate(14 371.8 722.1)"/>
<ellipse cx="373.5" cy="714.0" rx="3.8" ry="11.4" fill="#2a4e14" opacity="0.3" transform="rotate(-15 373.5 714.0)"/>
</g>
<path d="M370.0,716.1 Q372.0,708.8 373.9,713.5 Q375.9,709.7 377.9,711.6 Q379.9,709.1 381.9,711.2 Q383.8,708.3 385.8,714.9 Q387.8,709.3 389.8,714.7 C390.9,729.0 383.8,744.2 381.1,748.0 L377.1,748.0 C374.3,744.2 368.8,729.0 370.0,716.1 Z" fill="url(#lg17h)"/>
<path d="M378.1,747.0 Q376.7,730.9 373.6,717.6" stroke="#a8c47c" stroke-width="1.0" fill="none" opacity="0.35"/>
<path d="M379.1,747.0 Q379.1,730.9 379.1,717.6" stroke="#a8c47c" stroke-width="1.0" fill="none" opacity="0.35"/>
<path d="M380.1,747.0 Q381.5,730.9 384.6,717.6" stroke="#a8c47c" stroke-width="1.0" fill="none" opacity="0.35"/>
<defs><linearGradient id="lg18" x1="0" y1="0" x2="0" y2="1"><stop offset="0" stop-color="#2a4e14"/><stop offset="0.5" stop-color="#5c8a2c"/><stop offset="0.85" stop-color="#a8c47c"/><stop offset="1" stop-color="#e8ecd8"/></linearGradient><linearGradient id="lg18h" x1="0" y1="0" x2="1" y2="0"><stop offset="0" stop-color="#000" stop-opacity="0.22"/><stop offset="0.5" stop-color="#fff" stop-opacity="0.08"/><stop offset="1" stop-color="#000" stop-opacity="0.25"/></linearGradient></defs>
<clipPath id="lg18c"><path d="M383.8,715.9 Q385.7,709.4 387.7,714.8 Q389.7,709.8 391.6,713.5 Q393.6,709.3 395.6,712.0 Q397.6,709.8 399.6,714.8 Q401.5,708.5 403.5,714.7 C404.7,728.5 399.2,743.3 396.4,747.0 L392.4,747.0 C389.7,743.3 382.6,728.5 383.8,715.9 Z"/></clipPath>
<path d="M383.8,715.9 Q385.7,709.4 387.7,714.8 Q389.7,709.8 391.6,713.5 Q393.6,709.3 395.6,712.0 Q397.6,709.8 399.6,714.8 Q401.5,708.5 403.5,714.7 C404.7,728.5 399.2,743.3 396.4,747.0 L392.4,747.0 C389.7,743.3 382.6,728.5 383.8,715.9 Z" fill="url(#lg18)"/>
<g clip-path="url(#lg18c)">
<ellipse cx="392.1" cy="726.5" rx="2.6" ry="8.3" fill="#a8c47c" opacity="0.3" transform="rotate(-4 392.1 726.5)"/>
<ellipse cx="388.3" cy="720.4" rx="3.7" ry="8.4" fill="#2a4e14" opacity="0.3" transform="rotate(5 388.3 720.4)"/>
<ellipse cx="399.1" cy="718.2" rx="2.5" ry="9.6" fill="#2a4e14" opacity="0.3" transform="rotate(-12 399.1 718.2)"/>
<ellipse cx="386.2" cy="714.2" rx="3.9" ry="8.2" fill="#000" opacity="0.15" transform="rotate(-13 386.2 714.2)"/>
<ellipse cx="386.8" cy="710.4" rx="3.8" ry="11.1" fill="#5c8a2c" opacity="0.3" transform="rotate(3 386.8 710.4)"/>
<ellipse cx="385.7" cy="723.3" rx="3.6" ry="8.1" fill="#000" opacity="0.15" transform="rotate(4 385.7 723.3)"/>
</g>
<path d="M383.8,715.9 Q385.7,709.4 387.7,714.8 Q389.7,709.8 391.6,713.5 Q393.6,709.3 395.6,712.0 Q397.6,709.8 399.6,714.8 Q401.5,708.5 403.5,714.7 C404.7,728.5 399.2,743.3 396.4,747.0 L392.4,747.0 C389.7,743.3 382.6,728.5 383.8,715.9 Z" fill="url(#lg18h)"/>
<path d="M393.4,746.0 Q392.0,730.4 388.9,717.4" stroke="#a8c47c" stroke-width="1.0" fill="none" opacity="0.35"/>
<path d="M394.4,746.0 Q394.4,730.4 394.4,717.4" stroke="#a8c47c" stroke-width="1.0" fill="none" opacity="0.35"/>
<path d="M395.4,746.0 Q396.8,730.4 399.9,717.4" stroke="#a8c47c" stroke-width="1.0" fill="none" opacity="0.35"/></svg></body></html>
